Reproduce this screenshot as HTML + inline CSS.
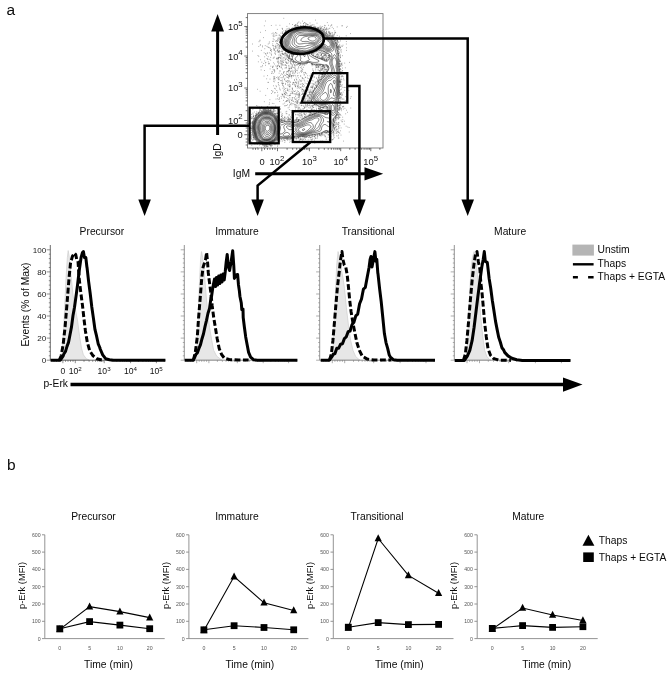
<!DOCTYPE html>
<html><head><meta charset="utf-8"><title>Figure</title>
<style>
html,body{margin:0;padding:0;background:#fff;}
body{width:671px;height:674px;overflow:hidden;font-family:"Liberation Sans",sans-serif;}
svg{display:block;position:absolute;left:0;top:0;}
text{font-family:"Liberation Sans",sans-serif;fill:#0a0a0a;}
.t10{font-size:10.3px;}
.tk{font-size:8.6px;fill:#222;}
.tks{font-size:5.2px;fill:#555;}
.ax{stroke:#888;stroke-width:0.9;fill:none;}
.bk{stroke:#000;fill:none;}
</style></head><body>
<svg width="671" height="674" viewBox="0 0 671 674">
<rect width="671" height="674" fill="#fff"/>

<text x="6.6" y="15.2" style="font-size:15.5px">a</text>
<text x="7" y="470.2" style="font-size:15.5px">b</text>
<g id="contour">
<path d="M266.4 125.6 267.0 125.2 268.0 125.2 268.7 125.6 269.2 126.1 269.5 126.6 269.8 127.6 269.7 128.6 269.5 129.4 269.1 130.1 268.7 130.6 268.0 131.1 267.5 131.3 266.7 131.1 266.0 130.6 265.7 130.1 265.5 129.6 265.3 128.6 265.4 127.6 265.5 127.1 266.0 126.1 266.4 125.6ZM266.1 124.1 267.0 123.7 268.0 123.8 268.7 124.1 269.3 124.6 269.8 125.1 270.1 125.6 270.5 126.5 270.7 127.1 270.8 128.1 270.7 129.1 270.5 129.8 270.2 130.6 270.0 131.1 269.5 131.8 269.0 132.3 268.5 132.7 267.5 133.1 266.5 132.9 266.0 132.6 265.5 132.1 265.0 131.5 264.6 130.6 264.4 130.1 264.2 129.1 264.1 128.1 264.3 127.1 264.5 126.3 264.8 125.6 265.1 125.1 265.5 124.6 266.1 124.1ZM266.4 122.6 267.0 122.5 268.0 122.6 268.5 122.8 269.1 123.1 269.7 123.6 270.1 124.1 270.5 124.6 271.0 125.4 271.3 126.1 271.5 126.8 271.6 127.6 271.6 128.6 271.5 129.6 271.4 130.1 271.1 131.1 270.9 131.6 270.5 132.4 270.0 133.1 269.6 133.6 269.0 134.1 268.5 134.4 268.0 134.6 267.0 134.8 266.3 134.6 265.6 134.1 265.1 133.6 264.7 133.1 264.4 132.6 264.0 131.9 263.7 131.1 263.5 130.6 263.2 129.6 263.1 128.6 263.1 127.6 263.3 126.6 263.5 126.0 263.8 125.1 264.1 124.6 264.5 123.9 265.0 123.3 265.5 122.9 266.4 122.6ZM265.2 121.6 266.0 121.3 267.0 121.2 268.0 121.3 268.8 121.6 269.5 122.0 270.0 122.4 270.5 123.0 271.0 123.6 271.3 124.1 271.6 124.6 272.0 125.4 272.3 126.1 272.5 127.0 272.6 127.6 272.6 128.6 272.5 129.3 272.4 130.1 272.2 131.1 272.0 131.7 271.7 132.6 271.4 133.1 271.0 133.8 270.5 134.5 270.0 135.0 269.5 135.5 269.0 135.8 268.5 136.1 267.5 136.4 266.5 136.4 265.7 136.1 265.0 135.6 264.5 135.1 264.2 134.6 263.9 134.1 263.5 133.4 263.1 132.6 262.9 132.1 262.5 131.1 262.4 130.6 262.1 129.6 262.0 128.9 262.0 128.1 262.0 127.6 262.2 126.6 262.4 125.6 262.6 125.1 263.0 124.1 263.2 123.6 263.5 123.0 264.0 122.4 264.5 121.9 265.2 121.6ZM264.8 120.1 265.5 119.9 266.5 119.8 267.5 119.8 268.5 120.0 269.0 120.2 269.8 120.6 270.4 121.1 270.9 121.6 271.3 122.1 271.6 122.6 272.0 123.2 272.5 124.1 272.8 124.6 273.0 125.1 273.4 126.1 273.5 126.6 273.6 127.6 273.6 128.6 273.5 129.6 273.4 130.1 273.3 131.1 273.1 132.1 272.9 132.6 272.5 133.6 272.3 134.1 272.0 134.6 271.5 135.3 271.0 135.9 270.5 136.4 270.0 136.9 269.5 137.3 268.9 137.6 268.0 138.0 267.0 138.1 266.0 138.0 265.0 137.7 264.5 137.4 264.0 137.0 263.5 136.5 263.0 135.7 262.7 135.1 262.5 134.6 262.1 133.6 261.9 133.1 261.6 132.1 261.4 131.6 261.1 130.6 260.9 130.1 260.7 129.1 260.6 128.1 260.7 127.1 260.9 126.1 261.1 125.6 261.3 124.6 261.5 124.1 261.8 123.1 262.0 122.6 262.5 121.7 263.0 121.1 263.5 120.7 264.0 120.4 264.8 120.1ZM312.0 36.6 313.0 36.6 313.5 36.6 314.5 36.8 315.2 37.1 315.8 37.6 316.1 38.1 316.2 39.1 315.9 39.6 315.5 40.1 314.7 40.6 314.0 40.9 313.0 41.1 312.5 41.1 312.0 41.1 311.0 40.8 310.4 40.6 309.6 40.1 309.0 39.7 308.5 39.4 308.0 39.1 308.0 38.1 308.5 37.7 309.0 37.4 309.6 37.1 310.5 36.8 311.5 36.6 312.0 36.6ZM264.1 119.1 265.0 118.8 266.0 118.7 267.0 118.7 268.0 118.8 269.0 119.1 269.5 119.3 270.1 119.6 270.8 120.1 271.3 120.6 271.7 121.1 272.0 121.6 272.5 122.4 272.9 123.1 273.1 123.6 273.5 124.3 273.8 125.1 274.0 125.6 274.3 126.6 274.4 127.6 274.4 128.6 274.3 129.6 274.1 130.6 274.0 131.4 273.9 132.1 273.6 133.1 273.4 133.6 273.0 134.6 272.7 135.1 272.4 135.6 272.0 136.1 271.5 136.8 271.0 137.3 270.5 137.8 270.0 138.1 269.1 138.6 268.5 138.9 267.5 139.1 267.0 139.2 266.0 139.1 265.5 139.0 264.5 138.8 264.0 138.5 263.3 138.1 262.8 137.6 262.4 137.1 262.0 136.4 261.6 135.6 261.4 135.1 261.0 134.1 260.9 133.6 260.6 132.6 260.4 132.1 260.1 131.1 260.0 130.6 259.7 129.6 259.6 128.6 259.5 127.6 259.7 126.6 259.9 125.6 260.0 125.1 260.3 124.1 260.5 123.5 260.7 122.6 261.0 121.9 261.4 121.1 261.8 120.6 262.3 120.1 263.0 119.6 263.5 119.4 264.1 119.1ZM310.5 35.6 311.0 35.5 312.0 35.5 313.0 35.5 314.0 35.5 314.5 35.6 315.5 35.9 316.1 36.1 317.0 36.6 317.5 36.9 318.0 37.5 318.2 38.1 318.1 39.1 317.9 39.6 317.5 40.2 317.0 40.7 316.5 41.2 316.0 41.6 315.2 42.1 314.5 42.5 314.0 42.6 313.0 42.8 312.0 42.7 311.5 42.6 310.5 42.4 309.5 42.2 309.0 42.0 308.0 41.6 307.5 41.5 306.5 41.4 305.5 41.4 304.5 41.5 303.5 41.5 302.5 41.5 301.5 41.1 301.0 40.6 300.9 40.1 301.1 39.6 301.5 38.9 302.0 38.3 302.5 37.8 303.0 37.5 303.7 37.1 304.5 36.8 305.3 36.6 306.0 36.5 307.0 36.3 308.0 36.1 308.5 36.0 309.5 35.8 310.5 35.6ZM265.2 118.1 266.0 118.0 267.0 118.0 267.7 118.1 268.5 118.2 269.5 118.6 270.0 118.8 270.5 119.1 271.1 119.6 271.6 120.1 272.0 120.6 272.5 121.3 273.0 122.1 273.2 122.6 273.5 123.2 273.9 124.1 274.2 124.6 274.5 125.5 274.7 126.1 274.8 127.1 274.8 128.1 274.8 129.1 274.7 130.1 274.5 131.1 274.4 131.6 274.2 132.6 274.0 133.4 273.8 134.1 273.5 134.8 273.1 135.6 272.7 136.1 272.3 136.6 271.9 137.1 271.5 137.6 271.0 138.1 270.3 138.6 269.5 139.0 269.0 139.2 268.0 139.5 267.5 139.6 266.5 139.7 265.5 139.6 265.0 139.5 264.0 139.2 263.5 139.0 262.9 138.6 262.3 138.1 261.9 137.6 261.5 137.0 261.0 136.1 260.8 135.6 260.5 134.9 260.2 134.1 260.0 133.2 259.8 132.6 259.6 131.6 259.5 131.1 259.2 130.1 259.0 129.3 258.9 128.6 258.8 127.6 258.9 126.6 259.0 126.1 259.3 125.1 259.5 124.3 259.7 123.6 260.0 122.6 260.2 122.1 260.5 121.3 260.9 120.6 261.3 120.1 261.9 119.6 262.5 119.1 263.0 118.8 263.5 118.6 264.5 118.2 265.2 118.1ZM308.7 35.1 309.5 35.0 310.5 34.9 311.5 34.8 312.5 34.8 313.5 34.8 314.5 34.9 315.5 35.1 316.0 35.2 317.0 35.6 317.5 35.8 318.1 36.1 318.7 36.6 319.1 37.1 319.5 38.1 319.3 39.1 319.0 39.7 318.5 40.4 318.0 41.0 317.5 41.4 317.0 41.9 316.5 42.3 316.0 42.7 315.4 43.1 314.5 43.5 314.0 43.7 313.0 43.8 312.0 43.7 311.0 43.6 310.5 43.6 309.5 43.5 308.5 43.4 307.5 43.3 306.5 43.3 305.5 43.3 304.5 43.4 303.5 43.6 303.0 43.7 302.0 43.8 301.0 43.9 300.0 44.0 299.0 44.0 298.0 43.7 297.5 43.3 297.0 42.8 296.5 42.1 296.3 41.6 296.1 40.6 296.1 39.6 296.5 38.6 296.8 38.1 297.1 37.6 297.5 37.1 298.0 36.4 298.5 36.0 299.2 35.6 300.0 35.5 301.0 35.5 302.0 35.5 303.0 35.5 304.0 35.5 305.0 35.5 306.0 35.4 307.0 35.3 308.0 35.2 308.7 35.1ZM264.6 117.6 265.5 117.5 266.5 117.4 267.5 117.5 268.0 117.6 269.0 117.9 269.6 118.1 270.5 118.6 271.0 118.9 271.5 119.3 272.0 119.8 272.5 120.4 272.9 121.1 273.2 121.6 273.5 122.2 273.9 123.1 274.2 123.6 274.5 124.4 274.8 125.1 275.0 125.9 275.1 126.6 275.2 127.6 275.2 128.6 275.1 129.6 275.0 130.2 274.9 131.1 274.7 132.1 274.5 133.0 274.4 133.6 274.0 134.6 273.8 135.1 273.5 135.7 273.0 136.5 272.5 137.1 272.1 137.6 271.6 138.1 271.0 138.6 270.5 139.0 270.0 139.3 269.2 139.6 268.5 139.8 267.5 140.1 267.0 140.1 266.0 140.1 265.5 140.1 264.5 139.9 263.7 139.6 263.0 139.3 262.5 138.9 262.0 138.5 261.5 138.0 261.0 137.3 260.6 136.6 260.3 136.1 260.0 135.4 259.7 134.6 259.5 133.9 259.3 133.1 259.1 132.1 259.0 131.5 258.7 130.6 258.5 129.6 258.4 129.1 258.3 128.1 258.3 127.1 258.4 126.1 258.5 125.6 258.7 124.6 259.0 123.7 259.2 123.1 259.5 122.1 259.7 121.6 260.0 121.0 260.5 120.2 261.0 119.6 261.5 119.2 262.0 118.8 262.5 118.4 263.1 118.1 264.0 117.7 264.6 117.6ZM298.2 34.1 299.0 33.9 300.0 33.9 301.0 34.0 302.0 34.1 302.5 34.1 303.5 34.3 304.5 34.4 305.5 34.4 306.5 34.4 307.5 34.3 308.5 34.2 309.5 34.2 310.3 34.1 311.0 34.0 312.0 34.0 313.0 34.0 314.0 34.1 314.5 34.2 315.5 34.3 316.5 34.6 317.0 34.7 318.0 35.0 318.5 35.3 319.0 35.6 319.6 36.1 320.1 36.6 320.5 37.2 320.8 38.1 320.8 39.1 320.5 39.6 320.0 40.3 319.5 40.8 319.0 41.3 318.5 41.8 318.0 42.2 317.5 42.6 316.9 43.1 316.3 43.6 315.5 44.1 315.0 44.3 314.2 44.6 313.5 44.8 312.5 44.9 311.5 44.9 310.5 45.0 309.8 45.1 309.0 45.2 308.0 45.4 307.0 45.6 306.5 45.8 305.7 46.1 305.0 46.4 304.5 46.6 303.5 46.7 302.5 46.7 301.5 46.6 300.5 46.6 299.5 46.6 299.0 46.6 298.0 46.4 297.1 46.1 296.5 45.8 296.0 45.5 295.5 45.0 295.0 44.4 294.5 43.6 294.3 43.1 294.2 42.1 294.2 41.1 294.3 40.1 294.4 39.1 294.6 38.6 295.0 37.6 295.2 37.1 295.5 36.6 296.0 35.7 296.5 35.1 297.0 34.7 297.5 34.4 298.2 34.1ZM263.7 117.1 264.5 116.9 265.5 116.8 266.5 116.7 267.5 116.8 268.5 117.1 269.0 117.2 269.9 117.6 270.5 117.9 271.0 118.2 271.6 118.6 272.1 119.1 272.6 119.6 273.0 120.2 273.5 121.0 273.8 121.6 274.0 122.1 274.5 123.1 274.7 123.6 275.0 124.3 275.3 125.1 275.5 126.1 275.6 126.6 275.6 127.6 275.6 128.6 275.5 129.6 275.4 130.1 275.3 131.1 275.1 132.1 275.0 132.7 274.8 133.6 274.6 134.6 274.4 135.1 274.0 135.9 273.6 136.6 273.2 137.1 272.8 137.6 272.3 138.1 271.8 138.6 271.2 139.1 270.5 139.5 270.0 139.8 269.2 140.1 268.5 140.3 267.5 140.5 267.0 140.6 266.0 140.6 265.5 140.6 264.5 140.4 263.6 140.1 263.0 139.9 262.5 139.6 261.8 139.1 261.2 138.6 260.8 138.1 260.4 137.6 260.0 136.9 259.6 136.1 259.3 135.6 259.0 134.8 258.8 134.1 258.6 133.1 258.5 132.5 258.3 131.6 258.1 130.6 257.9 130.1 257.7 129.1 257.6 128.1 257.6 127.1 257.7 126.1 257.8 125.1 258.0 124.4 258.2 123.6 258.5 122.8 258.7 122.1 259.0 121.5 259.4 120.6 259.8 120.1 260.2 119.6 260.6 119.1 261.2 118.6 261.8 118.1 262.5 117.7 263.0 117.4 263.7 117.1ZM299.1 32.6 300.0 32.5 301.0 32.6 301.5 32.6 302.5 32.8 303.5 32.9 304.5 33.1 305.0 33.1 306.0 33.1 306.9 33.1 307.5 33.1 308.5 33.1 309.0 33.1 309.5 33.1 310.5 33.1 311.5 33.0 312.5 33.0 313.5 33.1 314.0 33.2 315.0 33.3 316.0 33.5 316.5 33.6 317.5 33.9 318.2 34.1 319.0 34.5 319.5 34.8 320.0 35.1 320.6 35.6 321.1 36.1 321.5 36.6 322.0 37.3 322.3 38.1 322.4 39.1 322.1 40.1 321.8 40.6 321.3 41.1 320.8 41.6 320.1 42.1 319.5 42.5 319.0 42.9 318.5 43.3 318.0 43.6 317.3 44.1 316.6 44.6 316.0 44.9 315.5 45.2 314.5 45.6 314.0 45.7 313.0 46.1 312.5 46.3 311.7 46.6 311.0 46.9 310.5 47.2 309.5 47.6 309.0 47.7 308.0 48.1 307.5 48.2 306.6 48.6 306.0 48.8 305.0 48.9 304.0 48.9 303.0 48.8 302.0 48.6 301.5 48.5 300.5 48.4 299.5 48.3 298.5 48.1 298.0 48.0 297.0 47.7 296.5 47.6 295.5 47.2 295.0 46.9 294.5 46.5 294.0 46.1 293.5 45.6 293.0 45.0 292.5 44.2 292.2 43.6 292.1 42.6 292.1 41.6 292.4 40.6 292.6 40.1 292.9 39.1 293.0 38.6 293.4 37.6 293.5 37.1 294.0 36.1 294.2 35.6 294.5 35.1 295.0 34.5 295.5 34.0 296.1 33.6 297.0 33.1 297.5 33.0 298.5 32.7 299.1 32.6ZM263.9 116.1 264.5 115.9 265.5 115.8 266.5 115.8 267.5 115.9 268.2 116.1 269.0 116.3 269.6 116.6 270.5 117.0 271.0 117.3 271.5 117.6 272.2 118.1 272.7 118.6 273.2 119.1 273.5 119.6 274.0 120.4 274.3 121.1 274.6 121.6 275.0 122.5 275.2 123.1 275.5 123.8 275.8 124.6 276.0 125.5 276.1 126.1 276.2 127.1 276.2 128.1 276.1 129.1 276.0 130.1 276.0 130.6 275.8 131.6 275.6 132.6 275.5 133.3 275.4 134.1 275.1 135.1 274.9 135.6 274.5 136.4 274.0 137.1 273.7 137.6 273.2 138.1 272.8 138.6 272.2 139.1 271.6 139.6 271.0 140.0 270.5 140.2 269.6 140.6 269.0 140.8 268.0 141.0 267.5 141.1 266.5 141.2 265.5 141.2 264.9 141.1 264.0 140.9 263.1 140.6 262.5 140.3 262.0 140.1 261.3 139.6 260.7 139.1 260.2 138.6 259.8 138.1 259.4 137.6 259.0 136.9 258.6 136.1 258.4 135.6 258.0 134.6 257.9 134.1 257.7 133.1 257.5 132.1 257.4 131.6 257.2 130.6 257.0 129.9 256.8 129.1 256.7 128.1 256.7 127.1 256.8 126.1 256.9 125.1 257.0 124.6 257.2 123.6 257.5 122.8 257.8 122.1 258.0 121.6 258.5 120.6 258.8 120.1 259.1 119.6 259.5 119.1 260.0 118.6 260.5 118.1 261.1 117.6 261.8 117.1 262.5 116.7 263.0 116.4 263.9 116.1ZM300.4 31.1 301.0 31.1 301.8 31.1 302.5 31.2 303.5 31.3 304.5 31.3 305.5 31.3 306.5 31.3 307.5 31.3 308.5 31.5 309.5 31.6 310.0 31.6 311.0 31.6 312.0 31.7 313.0 31.8 314.0 31.9 314.8 32.1 315.5 32.3 316.5 32.5 317.0 32.6 318.0 32.9 318.6 33.1 319.5 33.5 320.0 33.8 320.5 34.1 321.2 34.6 321.8 35.1 322.4 35.6 322.8 36.1 323.2 36.6 323.6 37.1 324.0 37.9 324.3 38.6 324.5 39.6 324.5 40.6 324.2 41.6 323.8 42.1 323.2 42.6 322.5 43.1 322.0 43.3 321.4 43.6 320.5 44.0 320.0 44.2 319.3 44.6 318.5 45.0 318.0 45.3 317.4 45.6 316.5 46.1 316.0 46.3 315.3 46.6 314.5 47.0 314.0 47.2 313.4 47.6 312.6 48.1 312.0 48.5 311.5 48.8 310.9 49.1 310.0 49.5 309.5 49.6 308.5 50.0 308.0 50.2 307.0 50.5 306.5 50.6 305.5 50.7 304.5 50.7 303.5 50.6 303.0 50.6 302.0 50.4 301.0 50.2 300.4 50.1 299.5 49.9 298.5 49.7 298.0 49.5 297.0 49.3 296.3 49.1 295.5 48.9 294.7 48.6 294.0 48.3 293.5 48.0 292.8 47.6 292.1 47.1 291.5 46.6 291.0 46.1 290.6 45.6 290.2 45.1 290.0 44.6 289.8 43.6 289.8 42.6 289.8 41.6 290.0 40.8 290.2 40.1 290.5 39.6 291.0 38.7 291.3 38.1 291.6 37.6 292.0 36.6 292.2 36.1 292.5 35.4 293.0 34.6 293.4 34.1 293.9 33.6 294.5 33.1 295.0 32.7 295.5 32.4 296.2 32.1 297.0 31.8 297.6 31.6 298.5 31.4 299.5 31.2 300.4 31.1ZM263.3 115.1 264.0 114.8 265.0 114.7 266.0 114.6 267.0 114.7 268.0 114.8 269.0 115.1 269.5 115.3 270.2 115.6 271.0 116.0 271.5 116.3 272.0 116.6 272.6 117.1 273.2 117.6 273.7 118.1 274.0 118.6 274.5 119.3 274.9 120.1 275.1 120.6 275.5 121.4 275.8 122.1 276.0 122.6 276.4 123.6 276.6 124.1 276.8 125.1 277.0 126.1 277.0 126.6 277.0 127.6 277.0 128.6 277.0 129.1 276.9 130.1 276.8 131.1 276.6 132.1 276.5 132.6 276.4 133.6 276.2 134.6 276.0 135.4 275.7 136.1 275.5 136.6 275.0 137.3 274.5 137.9 274.0 138.5 273.5 139.0 273.0 139.5 272.5 139.9 272.0 140.3 271.5 140.6 270.5 141.1 270.0 141.3 269.0 141.6 268.5 141.7 267.5 141.9 266.5 142.0 265.5 142.0 264.5 141.8 263.5 141.6 263.0 141.4 262.2 141.1 261.5 140.8 261.0 140.4 260.5 140.1 259.9 139.6 259.3 139.1 258.9 138.6 258.5 138.1 258.0 137.3 257.6 136.6 257.4 136.1 257.1 135.1 256.9 134.6 256.7 133.6 256.5 132.6 256.4 132.1 256.2 131.1 256.0 130.4 255.8 129.6 255.7 128.6 255.7 127.6 255.7 126.6 255.8 125.6 255.9 124.6 256.0 124.1 256.2 123.1 256.5 122.3 256.8 121.6 257.0 121.1 257.5 120.1 257.8 119.6 258.2 119.1 258.5 118.6 259.0 118.1 259.5 117.6 260.1 117.1 260.8 116.6 261.5 116.1 262.0 115.8 262.5 115.5 263.3 115.1ZM302.9 129.1 303.5 128.8 304.5 128.9 304.6 129.6 304.2 130.1 303.5 130.5 302.5 130.3 302.4 129.6 302.9 129.1ZM298.9 30.6 299.5 30.5 300.5 30.4 301.5 30.3 302.5 30.3 303.5 30.4 304.5 30.4 305.5 30.4 306.5 30.4 307.5 30.4 308.5 30.6 309.0 30.7 310.0 30.8 311.0 30.9 312.0 31.0 313.0 31.1 313.5 31.2 314.5 31.3 315.5 31.6 316.0 31.7 317.0 31.9 317.5 32.1 318.5 32.4 319.0 32.6 320.0 33.1 320.5 33.4 321.0 33.7 321.5 34.1 322.2 34.6 322.8 35.1 323.4 35.6 323.8 36.1 324.2 36.6 324.6 37.1 325.0 37.8 325.5 38.6 325.8 39.1 326.2 39.6 326.7 40.1 327.3 40.6 328.0 41.1 328.5 41.5 329.0 42.0 329.5 42.6 329.8 43.1 330.1 43.6 330.3 44.6 330.1 45.6 329.8 46.1 329.2 46.6 328.5 46.8 327.8 46.6 327.0 46.1 326.5 45.7 326.0 45.3 325.5 44.9 324.9 44.6 324.0 44.3 323.0 44.4 322.0 44.6 321.5 44.7 320.5 45.1 320.0 45.3 319.3 45.6 318.5 46.0 318.0 46.2 317.1 46.6 316.5 46.9 316.0 47.1 315.0 47.6 314.5 47.9 314.0 48.2 313.4 48.6 312.6 49.1 312.0 49.4 311.5 49.7 310.5 50.1 310.0 50.3 309.1 50.6 308.5 50.8 307.7 51.1 307.0 51.3 306.0 51.4 305.0 51.5 304.0 51.5 303.0 51.4 302.0 51.3 301.0 51.1 300.5 51.0 299.5 50.7 299.0 50.6 298.0 50.4 297.0 50.1 296.5 50.0 295.5 49.8 294.9 49.6 294.0 49.3 293.5 49.1 292.6 48.6 292.0 48.3 291.5 48.0 290.9 47.6 290.2 47.1 289.6 46.6 289.2 46.1 288.8 45.6 288.5 44.7 288.4 44.1 288.4 43.1 288.5 42.3 288.6 41.6 288.8 40.6 289.0 40.0 289.5 39.1 289.8 38.6 290.1 38.1 290.5 37.5 290.9 36.6 291.2 36.1 291.5 35.4 291.9 34.6 292.3 34.1 292.8 33.6 293.4 33.1 294.0 32.6 294.5 32.3 295.0 32.0 295.7 31.6 296.5 31.3 297.0 31.1 298.0 30.8 298.9 30.6ZM334.5 80.1 334.5 80.1 335.0 80.8 335.1 81.6 335.0 82.6 334.8 83.1 334.5 83.8 334.0 83.6 333.5 82.7 333.3 82.1 333.4 81.1 333.6 80.6 334.5 80.1ZM324.8 92.6 325.5 92.4 326.0 92.6 326.5 93.2 327.0 94.0 327.3 94.6 327.5 95.1 327.6 96.1 327.5 96.6 327.0 97.5 326.5 98.1 326.2 98.6 325.8 99.1 325.3 99.6 324.6 100.1 324.0 100.3 323.0 100.4 322.0 100.1 321.5 99.8 321.0 99.4 320.5 98.8 320.1 98.1 320.0 97.6 320.0 97.1 320.5 96.1 321.0 95.6 321.5 95.1 322.0 94.6 322.5 94.2 323.0 93.8 323.5 93.5 324.0 93.1 324.8 92.6ZM264.3 114.1 265.0 114.0 266.0 113.9 267.0 114.0 267.9 114.1 268.5 114.2 269.5 114.5 270.0 114.7 270.8 115.1 271.5 115.5 272.0 115.8 272.5 116.2 273.0 116.6 273.6 117.1 274.0 117.6 274.5 118.2 275.0 119.1 275.3 119.6 275.5 120.1 276.0 121.1 276.2 121.6 276.5 122.3 276.8 123.1 277.0 123.6 277.3 124.6 277.5 125.6 277.5 126.1 277.6 127.1 277.6 128.1 277.6 129.1 277.5 129.8 277.4 130.6 277.2 131.6 277.1 132.6 277.0 133.1 276.9 134.1 276.7 135.1 276.5 135.9 276.2 136.6 275.8 137.1 275.5 137.6 275.0 138.2 274.5 138.7 274.0 139.2 273.5 139.7 273.0 140.1 272.3 140.6 271.5 141.1 271.0 141.4 270.4 141.6 269.5 141.9 268.8 142.1 268.0 142.3 267.0 142.4 266.0 142.5 265.0 142.4 264.0 142.2 263.5 142.1 262.5 141.7 262.0 141.5 261.2 141.1 260.5 140.7 260.0 140.4 259.5 140.0 259.0 139.5 258.5 139.0 258.0 138.4 257.5 137.6 257.2 137.1 257.0 136.6 256.6 135.6 256.5 135.1 256.2 134.1 256.0 133.1 255.9 132.6 255.7 131.6 255.5 130.8 255.3 130.1 255.2 129.1 255.1 128.1 255.1 127.1 255.1 126.1 255.2 125.1 255.4 124.1 255.5 123.6 255.8 122.6 256.0 121.9 256.3 121.1 256.6 120.6 257.0 119.8 257.4 119.1 257.8 118.6 258.2 118.1 258.7 117.6 259.2 117.1 259.9 116.6 260.5 116.1 261.0 115.7 261.5 115.4 262.0 115.1 262.8 114.6 263.5 114.3 264.3 114.1ZM306.6 125.1 307.5 124.9 308.5 124.9 309.5 125.0 310.0 125.3 310.5 125.7 311.0 126.6 310.6 127.6 310.1 128.1 309.5 128.6 309.0 129.1 308.6 129.6 308.0 130.1 307.5 130.5 307.0 130.9 306.5 131.2 305.9 131.6 305.1 132.1 304.5 132.4 303.8 132.6 303.0 132.7 302.0 132.6 301.5 132.5 300.7 132.1 300.0 131.7 299.5 131.3 299.0 130.7 298.6 130.1 298.5 129.6 298.5 129.0 299.0 128.3 299.5 128.0 300.5 127.6 301.0 127.4 301.8 127.1 302.5 126.8 303.0 126.6 304.0 126.2 304.5 126.0 305.4 125.6 306.0 125.3 306.6 125.1ZM298.9 30.1 299.5 30.0 300.5 29.8 301.5 29.8 302.5 29.8 303.5 29.8 304.5 29.8 305.5 29.7 306.5 29.7 307.5 29.8 308.5 29.9 309.5 30.1 310.0 30.2 311.0 30.3 312.0 30.4 313.0 30.6 313.5 30.6 314.5 30.8 315.5 31.0 316.0 31.2 317.0 31.4 317.6 31.6 318.5 31.9 319.0 32.1 320.0 32.5 320.5 32.8 321.0 33.1 321.7 33.6 322.4 34.1 323.0 34.6 323.5 35.0 324.0 35.5 324.5 36.0 325.0 36.6 325.4 37.1 325.9 37.6 326.3 38.1 326.7 38.6 327.2 39.1 327.8 39.6 328.4 40.1 329.0 40.6 329.5 41.1 329.9 41.6 330.4 42.1 330.7 42.6 331.0 43.1 331.3 44.1 331.4 45.1 331.2 46.1 331.0 46.7 330.5 47.4 330.0 47.8 329.3 48.1 328.5 48.2 328.0 48.1 327.0 47.6 326.5 47.3 326.0 46.8 325.5 46.4 325.0 46.1 324.1 45.6 323.5 45.4 322.5 45.4 321.5 45.6 321.0 45.7 320.0 46.1 319.5 46.3 318.7 46.6 318.0 46.9 317.5 47.1 316.5 47.6 316.0 47.8 315.4 48.1 314.5 48.6 314.0 48.9 313.5 49.2 312.9 49.6 312.0 50.1 311.5 50.3 310.6 50.6 310.0 50.8 309.2 51.1 308.5 51.4 307.8 51.6 307.0 51.9 306.0 52.0 305.0 52.1 304.5 52.1 303.5 52.1 303.0 52.1 302.0 52.0 301.0 51.8 300.4 51.6 299.5 51.4 298.5 51.1 298.0 51.0 297.0 50.8 296.3 50.6 295.5 50.4 294.5 50.2 294.0 50.0 293.0 49.6 292.5 49.4 291.9 49.1 291.0 48.6 290.5 48.4 290.0 48.1 289.3 47.6 288.8 47.1 288.3 46.6 287.9 46.1 287.5 45.1 287.4 44.6 287.4 43.6 287.4 42.6 287.5 41.7 287.6 41.1 287.9 40.1 288.2 39.6 288.5 39.0 289.0 38.3 289.5 37.6 289.8 37.1 290.1 36.6 290.5 35.8 290.9 35.1 291.2 34.6 291.5 34.1 292.0 33.6 292.5 33.1 293.1 32.6 293.8 32.1 294.5 31.7 295.0 31.4 295.6 31.1 296.5 30.7 297.0 30.6 298.0 30.3 298.9 30.1ZM333.9 77.6 334.5 77.4 335.1 77.6 335.6 78.1 336.0 78.9 336.2 79.6 336.3 80.6 336.3 81.6 336.3 82.6 336.2 83.6 336.2 84.6 336.1 85.6 336.0 86.5 335.8 87.1 335.5 88.0 335.2 88.6 335.0 89.1 334.5 90.1 334.8 91.1 335.1 91.6 335.4 92.6 335.5 93.1 335.6 94.1 335.5 94.8 335.1 95.6 334.6 96.1 334.0 96.1 333.6 95.6 333.4 95.1 333.4 94.1 333.5 93.1 333.7 92.6 334.0 91.6 334.3 91.1 334.5 90.1 334.0 89.6 333.5 88.9 333.1 88.1 332.9 87.6 332.6 86.6 332.5 86.1 332.2 85.1 331.9 84.6 331.5 83.9 331.0 83.5 330.3 83.6 329.8 84.1 329.5 84.6 329.0 85.4 328.7 86.1 328.5 86.6 328.3 87.6 328.2 88.6 328.2 89.6 328.3 90.6 328.3 91.6 328.4 92.6 328.5 93.2 328.8 94.1 329.0 94.7 329.2 95.6 329.2 96.6 329.0 97.1 328.5 98.0 328.0 98.6 327.6 99.1 327.2 99.6 326.8 100.1 326.3 100.6 325.6 101.1 325.0 101.4 324.5 101.6 323.5 101.8 322.5 101.8 321.5 101.6 321.0 101.4 320.5 101.0 320.0 100.6 319.5 100.1 319.0 99.6 318.5 99.0 318.0 98.3 317.6 97.6 317.7 96.6 318.0 96.1 318.5 95.6 319.1 95.1 319.8 94.6 320.4 94.1 321.0 93.6 321.5 93.2 322.0 92.7 322.5 92.1 322.9 91.6 323.2 91.1 323.5 90.5 323.9 89.6 324.0 89.1 324.3 88.1 324.5 87.5 324.8 86.6 325.0 86.1 325.3 85.1 325.5 84.5 325.9 83.6 326.1 83.1 326.5 82.5 327.0 81.9 327.5 81.4 328.0 81.0 328.7 80.6 329.5 80.4 330.5 80.3 331.0 80.0 331.5 79.6 332.0 79.1 332.5 78.6 333.1 78.1 333.9 77.6ZM264.2 113.6 265.0 113.5 266.0 113.4 267.0 113.5 268.0 113.6 268.5 113.7 269.5 113.9 270.0 114.1 271.0 114.6 271.5 114.9 272.0 115.2 272.6 115.6 273.2 116.1 273.8 116.6 274.2 117.1 274.6 117.6 275.0 118.2 275.5 119.1 275.8 119.6 276.0 120.1 276.4 121.1 276.7 121.6 277.0 122.4 277.3 123.1 277.5 123.7 277.8 124.6 277.9 125.6 278.0 126.1 278.1 127.1 278.2 128.1 278.1 129.1 278.0 129.9 277.9 130.6 277.7 131.6 277.6 132.6 277.5 133.2 277.4 134.1 277.3 135.1 277.0 136.1 276.8 136.6 276.4 137.1 276.0 137.6 275.5 138.2 275.0 138.7 274.5 139.3 274.0 139.7 273.5 140.2 272.9 140.6 272.2 141.1 271.5 141.5 271.0 141.8 270.1 142.1 269.5 142.3 268.5 142.6 268.0 142.6 267.0 142.8 266.0 142.8 265.0 142.7 264.2 142.6 263.5 142.5 262.5 142.1 262.0 141.9 261.3 141.6 260.5 141.1 260.0 140.8 259.5 140.5 259.0 140.1 258.5 139.6 258.0 139.1 257.5 138.5 257.0 137.7 256.7 137.1 256.5 136.6 256.1 135.6 256.0 135.1 255.8 134.1 255.6 133.1 255.5 132.6 255.2 131.6 255.0 130.7 254.9 130.1 254.7 129.1 254.6 128.1 254.6 127.1 254.7 126.1 254.8 125.1 254.9 124.1 255.0 123.6 255.3 122.6 255.5 122.0 255.8 121.1 256.1 120.6 256.5 119.8 256.9 119.1 257.2 118.6 257.6 118.1 258.0 117.6 258.5 117.1 259.1 116.6 259.8 116.1 260.4 115.6 261.0 115.2 261.5 114.8 262.0 114.5 262.7 114.1 263.5 113.8 264.2 113.6ZM309.3 122.6 310.0 122.5 310.5 122.6 311.5 123.1 312.0 123.5 312.5 124.1 312.8 124.6 313.0 125.1 313.3 126.1 313.3 127.1 313.0 127.9 312.5 128.5 312.0 128.9 311.5 129.2 311.0 129.6 310.2 130.1 309.5 130.6 309.0 130.9 308.5 131.2 307.8 131.6 307.0 132.0 306.5 132.3 306.0 132.6 305.0 133.1 304.5 133.3 303.5 133.5 302.5 133.5 301.5 133.4 300.5 133.1 300.0 132.9 299.4 132.6 298.6 132.1 298.0 131.6 297.6 131.1 297.2 130.6 296.9 130.1 296.7 129.1 297.0 128.2 297.5 127.6 298.0 127.2 298.5 127.0 299.5 126.6 300.0 126.4 301.0 126.1 301.5 125.9 302.2 125.6 303.0 125.3 303.5 125.1 304.5 124.6 305.0 124.3 305.5 124.1 306.4 123.6 307.0 123.3 307.5 123.1 308.5 122.8 309.3 122.6ZM299.1 29.6 300.0 29.4 301.0 29.3 302.0 29.3 303.0 29.3 304.0 29.3 305.0 29.2 306.0 29.2 307.0 29.2 308.0 29.3 309.0 29.5 309.7 29.6 310.5 29.7 311.5 29.9 312.5 30.0 313.1 30.1 314.0 30.3 315.0 30.4 315.7 30.6 316.5 30.8 317.5 31.1 318.0 31.3 318.9 31.6 319.5 31.8 320.1 32.1 321.0 32.6 321.5 32.9 322.0 33.3 322.5 33.6 323.2 34.1 323.8 34.6 324.4 35.1 324.9 35.6 325.4 36.1 325.9 36.6 326.3 37.1 326.8 37.6 327.3 38.1 327.9 38.6 328.4 39.1 329.0 39.6 329.5 40.1 330.0 40.6 330.5 41.1 330.9 41.6 331.3 42.1 331.6 42.6 332.0 43.5 332.1 44.1 332.3 45.1 332.2 46.1 332.0 46.9 331.7 47.6 331.3 48.1 330.8 48.6 330.0 49.0 329.5 49.1 328.5 49.2 328.0 49.1 327.0 48.7 326.5 48.4 326.0 48.0 325.5 47.6 324.9 47.1 324.1 46.6 323.5 46.4 322.5 46.3 321.5 46.4 320.6 46.6 320.0 46.8 319.2 47.1 318.5 47.4 317.9 47.6 317.0 48.0 316.5 48.2 315.7 48.6 315.0 49.0 314.5 49.3 314.0 49.6 313.0 50.1 312.5 50.4 311.9 50.6 311.0 50.9 310.5 51.1 309.5 51.5 309.0 51.7 308.0 52.1 307.5 52.2 306.5 52.5 306.0 52.6 305.0 52.8 304.0 52.8 303.0 52.9 302.0 52.7 301.5 52.6 300.5 52.3 299.9 52.1 299.0 51.8 298.1 51.6 297.5 51.5 296.5 51.2 295.8 51.1 295.0 50.9 294.0 50.6 293.5 50.5 292.6 50.1 292.0 49.9 291.4 49.6 290.5 49.2 290.0 48.9 289.4 48.6 288.7 48.1 288.2 47.6 287.7 47.1 287.3 46.6 287.0 46.1 286.6 45.1 286.5 44.6 286.4 43.6 286.4 42.6 286.5 41.9 286.6 41.1 286.9 40.1 287.2 39.6 287.5 39.1 288.0 38.4 288.5 37.7 288.9 37.1 289.3 36.6 289.6 36.1 290.0 35.4 290.5 34.6 290.8 34.1 291.2 33.6 291.7 33.1 292.3 32.6 293.0 32.1 293.5 31.7 294.0 31.4 294.6 31.1 295.5 30.7 296.0 30.5 297.0 30.1 297.5 30.0 298.5 29.7 299.1 29.6ZM334.8 75.1 335.0 75.1 335.7 75.6 336.0 76.1 336.4 77.1 336.6 77.6 336.8 78.6 337.0 79.6 337.0 80.1 337.1 81.1 337.1 82.1 337.0 83.1 337.0 83.8 337.0 84.6 336.9 85.6 336.9 86.6 336.7 87.6 336.5 88.6 336.5 89.1 336.4 90.1 336.5 91.1 336.5 91.6 336.6 92.6 336.7 93.6 336.7 94.6 336.5 95.4 336.2 96.1 336.0 96.6 335.5 97.4 335.0 97.9 334.5 98.3 333.5 98.5 332.5 98.1 332.0 97.9 331.0 97.9 330.5 98.4 330.0 98.8 329.5 99.2 329.0 99.6 328.4 100.1 327.8 100.6 327.2 101.1 326.5 101.6 326.0 101.9 325.5 102.1 324.5 102.5 324.0 102.6 323.0 102.8 322.0 102.8 321.1 102.6 320.5 102.3 320.0 102.0 319.5 101.6 319.0 101.1 318.4 100.6 317.9 100.1 317.3 99.6 316.7 99.1 316.2 98.6 315.8 98.1 315.7 97.1 316.0 96.4 316.5 95.6 316.9 95.1 317.4 94.6 318.0 94.1 318.5 93.7 319.0 93.4 319.5 93.0 320.0 92.6 320.5 92.1 321.0 91.5 321.5 90.8 321.9 90.1 322.1 89.6 322.5 88.7 322.7 88.1 323.0 87.1 323.1 86.6 323.4 85.6 323.6 85.1 324.0 84.1 324.2 83.6 324.5 83.1 325.0 82.3 325.5 81.6 325.9 81.1 326.3 80.6 326.7 80.1 327.2 79.6 327.7 79.1 328.3 78.6 329.0 78.2 329.5 78.0 330.5 77.7 331.0 77.5 331.8 77.1 332.5 76.6 333.0 76.2 333.5 75.8 334.0 75.4 334.8 75.1ZM330.5 89.5 330.5 90.1 330.4 91.1 330.4 92.1 330.5 92.7 331.2 92.6 331.4 91.6 331.4 90.6 331.1 89.6 330.5 89.5ZM264.2 113.1 265.0 113.0 266.0 112.9 267.0 113.0 268.0 113.1 268.5 113.1 269.5 113.4 270.1 113.6 271.0 114.0 271.5 114.3 272.0 114.6 272.8 115.1 273.4 115.6 273.9 116.1 274.4 116.6 274.8 117.1 275.1 117.6 275.5 118.2 276.0 119.1 276.2 119.6 276.5 120.3 276.9 121.1 277.1 121.6 277.5 122.5 277.8 123.1 278.0 123.8 278.3 124.6 278.5 125.6 278.6 126.1 278.7 127.1 278.7 128.1 278.7 129.1 278.5 130.1 278.4 130.6 278.2 131.6 278.1 132.6 278.0 133.6 278.0 134.1 277.9 135.1 277.7 136.1 277.4 136.6 277.0 137.2 276.5 137.7 276.0 138.3 275.5 138.8 275.0 139.3 274.5 139.7 274.0 140.2 273.5 140.6 272.8 141.1 272.0 141.6 271.5 141.9 271.0 142.1 270.0 142.5 269.5 142.7 268.5 142.9 267.5 143.1 267.0 143.1 266.0 143.1 265.3 143.1 264.5 143.0 263.5 142.8 262.9 142.6 262.0 142.3 261.5 142.1 260.6 141.6 260.0 141.2 259.5 140.9 259.0 140.5 258.5 140.1 257.9 139.6 257.5 139.1 257.0 138.5 256.5 137.6 256.2 137.1 256.0 136.5 255.7 135.6 255.5 134.8 255.3 134.1 255.1 133.1 255.0 132.5 254.8 131.6 254.6 130.6 254.5 130.1 254.3 129.1 254.2 128.1 254.2 127.1 254.2 126.1 254.3 125.1 254.5 124.2 254.6 123.6 254.9 122.6 255.0 122.1 255.4 121.1 255.6 120.6 256.0 119.8 256.4 119.1 256.7 118.6 257.0 118.1 257.5 117.5 258.0 117.0 258.5 116.6 259.1 116.1 259.7 115.6 260.4 115.1 261.0 114.7 261.5 114.3 262.0 114.0 262.7 113.6 263.5 113.3 264.2 113.1ZM315.5 118.1 316.5 117.9 317.5 117.9 318.2 118.1 318.7 118.6 318.9 119.6 318.7 120.6 318.4 121.1 318.0 121.6 317.5 122.2 317.0 122.9 316.6 123.6 316.3 124.1 315.9 124.6 315.5 125.4 315.3 126.1 315.1 127.1 315.0 127.6 314.5 128.5 314.0 129.1 313.5 129.4 313.0 129.8 312.4 130.1 311.5 130.6 311.0 130.8 310.5 131.1 309.6 131.6 309.0 131.9 308.5 132.1 307.5 132.6 307.0 132.8 306.5 133.1 305.5 133.6 305.0 133.8 304.0 134.1 303.5 134.1 302.5 134.2 301.6 134.1 301.0 134.0 300.0 133.8 299.5 133.6 298.5 133.1 298.0 132.9 297.5 132.5 297.0 132.1 296.4 131.6 296.0 131.0 295.5 130.2 295.3 129.6 295.2 128.6 295.5 127.7 296.0 127.2 296.5 126.8 297.0 126.6 298.0 126.2 298.5 126.0 299.5 125.6 300.0 125.4 300.7 125.1 301.5 124.8 302.0 124.6 303.0 124.2 303.5 123.9 304.2 123.6 305.0 123.1 305.5 122.7 306.0 122.4 306.5 122.0 307.2 121.6 308.0 121.2 308.5 120.9 309.2 120.6 310.0 120.3 310.9 120.1 311.5 120.0 312.5 119.6 313.0 119.3 313.5 119.0 314.3 118.6 315.0 118.3 315.5 118.1ZM299.4 29.1 300.0 29.0 301.0 28.9 302.0 28.8 303.0 28.8 304.0 28.8 305.0 28.7 306.0 28.7 307.0 28.7 308.0 28.8 309.0 29.0 309.8 29.1 310.5 29.2 311.5 29.4 312.5 29.5 313.0 29.6 314.0 29.8 315.0 30.0 315.6 30.1 316.5 30.3 317.5 30.6 318.0 30.8 318.9 31.1 319.5 31.3 320.1 31.6 321.0 32.1 321.5 32.4 322.0 32.7 322.6 33.1 323.3 33.6 324.0 34.1 324.5 34.5 325.0 34.9 325.5 35.4 326.0 35.9 326.5 36.4 327.0 36.8 327.5 37.3 328.0 37.7 328.5 38.2 329.0 38.7 329.5 39.1 330.0 39.6 330.5 40.1 331.0 40.6 331.5 41.2 332.0 41.9 332.4 42.6 332.6 43.1 332.9 44.1 333.0 44.6 333.1 45.6 333.1 46.6 333.0 47.1 332.7 48.1 332.4 48.6 332.0 49.2 331.4 49.6 330.5 49.9 329.5 50.1 328.5 50.1 327.5 49.9 326.9 49.6 326.1 49.1 325.5 48.7 325.0 48.2 324.5 47.9 324.0 47.6 323.0 47.2 322.0 47.1 321.0 47.3 320.0 47.5 319.5 47.7 318.5 48.0 318.0 48.2 317.1 48.6 316.5 48.9 316.0 49.1 315.1 49.6 314.5 49.9 314.0 50.2 313.1 50.6 312.5 50.9 311.9 51.1 311.0 51.4 310.5 51.6 309.5 52.0 309.0 52.2 308.0 52.6 307.5 52.9 306.9 53.1 306.0 53.5 305.5 53.8 304.9 54.1 304.5 54.6 304.7 55.1 305.1 55.6 305.0 56.5 304.0 56.3 303.5 55.6 303.4 55.1 303.0 54.6 302.2 54.1 301.5 53.8 301.0 53.5 300.3 53.1 299.5 52.7 299.0 52.5 298.0 52.2 297.5 52.1 296.5 51.9 295.5 51.6 295.0 51.5 294.0 51.2 293.5 51.1 292.5 50.7 292.0 50.5 291.0 50.1 290.5 49.9 289.9 49.6 289.0 49.1 288.5 48.8 288.0 48.4 287.5 47.9 287.0 47.4 286.5 46.7 286.1 46.1 285.9 45.6 285.6 44.6 285.5 43.6 285.5 43.1 285.5 42.6 285.6 41.6 285.8 40.6 286.0 40.0 286.5 39.1 286.8 38.6 287.2 38.1 287.6 37.6 288.0 37.1 288.5 36.4 289.0 35.7 289.4 35.1 289.7 34.6 290.1 34.1 290.5 33.6 291.0 33.1 291.5 32.6 292.1 32.1 292.8 31.6 293.5 31.2 294.0 30.9 294.5 30.6 295.5 30.2 296.0 30.0 297.0 29.7 297.5 29.5 298.5 29.3 299.4 29.1ZM333.5 58.1 334.5 57.7 335.2 58.1 335.5 58.6 336.0 59.6 336.1 60.1 336.4 61.1 336.5 61.6 336.6 62.6 336.5 63.4 336.3 64.1 336.1 65.1 336.0 65.6 335.9 66.6 336.0 67.1 336.2 68.1 336.5 69.0 336.6 69.6 336.5 70.6 336.4 71.1 336.2 72.1 336.3 73.1 336.5 73.6 336.8 74.6 337.0 75.4 337.1 76.1 337.3 77.1 337.4 78.1 337.5 78.6 337.6 79.6 337.6 80.6 337.7 81.6 337.7 82.6 337.6 83.6 337.6 84.6 337.6 85.6 337.5 86.6 337.5 87.1 337.4 88.1 337.3 89.1 337.2 90.1 337.3 91.1 337.3 92.1 337.4 93.1 337.4 94.1 337.3 95.1 337.1 96.1 336.9 96.6 336.5 97.5 336.1 98.1 335.8 98.6 335.5 99.1 335.0 99.7 334.5 100.3 334.0 100.7 333.3 101.1 332.5 101.6 332.0 101.9 331.0 101.9 330.0 101.6 329.5 101.6 329.0 101.6 328.0 101.9 327.5 102.1 326.5 102.5 326.0 102.8 325.1 103.1 324.5 103.3 323.5 103.5 323.0 103.6 322.0 103.7 321.2 103.6 320.5 103.4 320.0 103.1 319.3 102.6 318.7 102.1 318.1 101.6 317.5 101.1 317.0 100.7 316.5 100.4 316.0 100.1 315.4 99.6 314.8 99.1 314.5 98.6 314.3 97.6 314.5 96.8 314.8 96.1 315.1 95.6 315.5 95.0 316.0 94.4 316.5 93.8 317.0 93.3 317.5 92.8 318.0 92.3 318.5 91.8 319.0 91.4 319.5 90.8 320.0 90.1 320.3 89.6 320.6 89.1 321.0 88.3 321.3 87.6 321.5 87.1 321.8 86.1 322.0 85.6 322.4 84.6 322.6 84.1 323.0 83.4 323.5 82.6 323.8 82.1 324.1 81.6 324.5 81.1 325.0 80.5 325.5 79.9 326.0 79.4 326.5 78.8 327.0 78.3 327.5 77.8 328.0 77.3 328.5 76.9 329.1 76.6 330.0 76.2 330.5 76.0 331.4 75.6 332.0 75.1 332.5 74.6 332.9 74.1 333.4 73.6 333.8 73.1 334.1 72.6 334.5 71.7 334.5 71.1 334.4 70.6 334.2 69.6 334.0 69.1 333.7 68.1 333.5 67.5 333.3 66.6 333.0 65.8 332.7 65.1 332.5 64.4 332.3 63.6 332.2 62.6 332.2 61.6 332.3 60.6 332.5 59.9 332.8 59.1 333.1 58.6 333.5 58.1ZM331.9 105.1 332.5 104.6 333.2 105.1 333.6 105.6 334.0 106.6 334.1 107.1 334.2 108.1 334.2 109.1 334.0 110.1 333.8 110.6 333.1 111.1 333.0 111.1 332.1 110.6 331.8 110.1 331.5 109.6 331.3 108.6 331.3 107.6 331.4 106.6 331.5 106.1 331.9 105.1ZM264.2 112.6 265.0 112.5 266.0 112.4 267.0 112.4 268.0 112.5 268.5 112.6 269.5 112.8 270.2 113.1 271.0 113.4 271.5 113.7 272.2 114.1 272.9 114.6 273.5 115.1 274.0 115.6 274.5 116.1 274.9 116.6 275.3 117.1 275.6 117.6 276.0 118.2 276.4 119.1 276.7 119.6 277.0 120.3 277.4 121.1 277.6 121.6 278.0 122.5 278.3 123.1 278.5 123.6 278.8 124.6 279.0 125.2 279.3 126.1 279.4 127.1 279.5 128.1 279.4 129.1 279.2 130.1 279.0 130.8 278.9 131.6 278.8 132.6 278.8 133.6 278.9 134.6 278.8 135.6 278.5 136.3 278.0 136.9 277.5 137.4 277.0 137.9 276.5 138.4 276.0 138.8 275.5 139.3 275.0 139.8 274.5 140.2 274.0 140.6 273.4 141.1 272.6 141.6 272.0 142.0 271.5 142.3 270.7 142.6 270.0 142.9 269.2 143.1 268.5 143.3 267.5 143.4 266.5 143.5 265.5 143.5 264.5 143.4 263.5 143.1 263.0 143.0 262.0 142.7 261.5 142.4 260.8 142.1 260.0 141.6 259.5 141.3 259.0 141.0 258.5 140.6 257.9 140.1 257.3 139.6 256.9 139.1 256.5 138.5 256.0 137.6 255.8 137.1 255.5 136.4 255.3 135.6 255.0 134.6 254.9 134.1 254.7 133.1 254.5 132.2 254.3 131.6 254.1 130.6 254.0 129.9 253.9 129.1 253.8 128.1 253.8 127.1 253.8 126.1 253.9 125.1 254.0 124.6 254.2 123.6 254.5 122.6 254.6 122.1 255.0 121.1 255.2 120.6 255.5 119.9 255.9 119.1 256.2 118.6 256.5 118.1 257.0 117.4 257.5 116.9 258.0 116.4 258.5 116.0 259.1 115.6 259.7 115.1 260.3 114.6 261.0 114.1 261.5 113.7 262.0 113.4 262.6 113.1 263.5 112.8 264.2 112.6ZM316.4 116.6 317.0 116.5 318.0 116.4 319.0 116.5 319.5 116.7 320.1 117.1 320.6 117.6 321.0 118.4 321.2 119.1 321.3 120.1 321.1 121.1 320.9 121.6 320.5 122.4 320.1 123.1 319.8 123.6 319.5 124.5 319.3 125.1 319.0 125.8 318.6 126.6 318.2 127.1 317.8 127.6 317.3 128.1 316.8 128.6 316.3 129.1 315.7 129.6 315.0 130.1 314.5 130.3 313.9 130.6 313.0 131.0 312.5 131.2 311.6 131.6 311.0 131.8 310.4 132.1 309.5 132.5 309.0 132.7 308.0 133.1 307.5 133.3 306.9 133.6 306.0 134.0 305.5 134.2 304.5 134.5 304.0 134.6 303.0 134.7 302.0 134.7 301.0 134.6 300.5 134.6 299.5 134.3 298.6 134.1 298.0 133.9 297.3 133.6 296.5 133.2 296.0 132.8 295.5 132.4 295.0 132.0 294.5 131.5 294.0 131.0 293.5 130.5 293.0 130.1 292.2 129.6 291.5 129.5 291.0 129.6 290.0 129.7 289.3 129.6 288.5 129.2 288.0 128.8 287.5 128.4 287.0 127.9 286.5 127.1 286.5 126.6 286.8 126.1 287.5 125.8 288.5 126.0 289.0 126.1 290.0 126.5 290.5 126.7 291.5 127.1 292.0 127.2 293.0 127.1 293.5 126.9 294.2 126.6 295.0 126.2 295.5 126.0 296.5 125.7 297.0 125.5 298.0 125.2 298.5 125.0 299.5 124.6 300.0 124.4 300.5 124.1 301.5 123.7 302.0 123.4 302.8 123.1 303.5 122.7 304.0 122.4 304.5 122.1 305.1 121.6 305.8 121.1 306.5 120.7 307.0 120.4 307.6 120.1 308.5 119.7 309.0 119.4 309.8 119.1 310.5 118.9 311.3 118.6 312.0 118.4 312.6 118.1 313.5 117.7 314.0 117.4 314.8 117.1 315.5 116.9 316.4 116.6ZM286.0 132.6 286.5 132.4 287.5 132.5 288.0 132.6 288.7 133.1 289.2 133.6 289.5 134.1 289.5 134.8 289.0 135.4 288.5 135.7 287.5 136.0 287.0 136.1 286.0 136.2 285.0 136.2 284.2 136.1 283.5 135.8 283.0 135.1 283.5 134.3 284.0 133.8 284.5 133.4 285.0 133.1 286.0 132.6ZM299.9 28.6 300.5 28.5 301.5 28.4 302.5 28.3 303.5 28.3 304.5 28.3 305.5 28.3 306.5 28.3 307.5 28.3 308.5 28.4 309.5 28.6 310.0 28.7 311.0 28.8 312.0 29.0 312.7 29.1 313.5 29.2 314.5 29.4 315.4 29.6 316.0 29.7 317.0 30.0 317.5 30.1 318.5 30.5 319.0 30.7 320.0 31.1 320.5 31.3 321.0 31.6 321.9 32.1 322.5 32.5 323.0 32.8 323.5 33.2 324.1 33.6 324.8 34.1 325.4 34.6 326.0 35.1 326.5 35.6 327.0 36.0 327.5 36.5 328.0 36.9 328.5 37.4 329.0 37.9 329.5 38.3 330.0 38.8 330.5 39.3 331.0 39.8 331.5 40.2 332.0 40.8 332.5 41.5 332.9 42.1 333.1 42.6 333.5 43.6 333.7 44.1 333.9 45.1 333.9 46.1 333.9 47.1 333.8 48.1 333.7 49.1 333.5 50.0 333.1 50.6 332.5 51.0 331.5 51.0 330.5 51.0 329.5 51.0 328.5 50.9 327.5 50.7 327.0 50.5 326.2 50.1 325.5 49.6 325.0 49.2 324.5 48.8 324.0 48.5 323.1 48.1 322.5 47.9 321.5 47.9 320.5 48.1 320.0 48.2 319.0 48.5 318.5 48.7 317.5 49.0 317.0 49.2 316.2 49.6 315.5 49.9 315.0 50.2 314.2 50.6 313.5 50.9 313.0 51.1 312.0 51.5 311.5 51.7 310.5 52.1 310.0 52.3 309.2 52.6 308.5 53.0 308.0 53.4 307.5 53.9 307.3 54.6 307.5 55.1 308.0 56.0 308.2 56.6 308.4 57.6 308.5 58.2 309.0 59.0 309.5 59.6 309.0 60.1 308.0 60.5 307.5 60.7 306.8 61.1 306.0 61.5 305.5 61.7 304.5 62.0 303.5 62.0 302.5 61.7 302.0 61.6 301.0 61.2 300.5 60.8 300.2 60.1 300.5 59.4 300.8 58.6 300.7 57.6 300.5 57.0 300.2 56.1 300.0 55.1 299.9 54.6 299.5 54.0 299.0 53.5 298.3 53.1 297.5 52.8 296.9 52.6 296.0 52.4 295.0 52.1 294.5 52.0 293.5 51.7 293.0 51.5 292.0 51.1 291.5 50.9 290.7 50.6 290.0 50.3 289.5 50.1 288.7 49.6 288.0 49.1 287.5 48.7 287.0 48.3 286.5 47.8 286.0 47.2 285.6 46.6 285.3 46.1 285.0 45.4 284.8 44.6 284.7 43.6 284.7 42.6 284.7 41.6 284.9 40.6 285.0 40.1 285.5 39.1 285.8 38.6 286.1 38.1 286.6 37.6 287.0 37.1 287.5 36.5 288.0 35.9 288.5 35.3 289.0 34.6 289.4 34.1 289.8 33.6 290.3 33.1 290.8 32.6 291.4 32.1 292.0 31.6 292.5 31.3 293.0 30.9 293.6 30.6 294.5 30.1 295.0 29.9 295.8 29.6 296.5 29.4 297.5 29.1 298.0 29.0 299.0 28.7 299.9 28.6ZM333.8 55.1 334.5 54.6 335.1 55.1 335.5 55.7 336.0 56.6 336.2 57.1 336.5 58.0 336.6 58.6 336.9 59.6 337.0 60.2 337.2 61.1 337.3 62.1 337.3 63.1 337.2 64.1 337.0 65.1 336.9 65.6 336.9 66.6 337.0 67.1 337.2 68.1 337.4 69.1 337.5 69.7 337.5 70.6 337.5 71.6 337.5 72.1 337.5 72.9 337.5 73.6 337.7 74.6 337.8 75.6 337.9 76.6 338.0 77.6 338.0 78.1 338.1 79.1 338.1 80.1 338.2 81.1 338.2 82.1 338.2 83.1 338.1 84.1 338.1 85.1 338.1 86.1 338.0 87.1 338.0 87.6 337.9 88.6 337.9 89.6 337.8 90.6 337.9 91.6 337.9 92.6 338.0 93.5 338.0 94.1 338.0 94.6 337.9 95.6 337.6 96.6 337.4 97.1 337.0 98.0 336.7 98.6 336.5 99.1 336.0 100.1 335.8 100.6 335.5 101.4 335.2 102.1 335.0 103.1 335.0 103.6 335.0 104.6 335.0 105.5 335.0 106.1 335.1 107.1 335.1 108.1 335.1 109.1 335.1 110.1 335.0 111.1 334.9 111.6 334.5 112.6 334.0 113.1 333.5 113.2 332.8 113.1 332.0 112.6 331.6 112.1 331.2 111.6 330.9 111.1 330.5 110.1 330.4 109.6 330.3 108.6 330.2 107.6 330.2 106.6 330.2 105.6 330.0 104.7 329.8 104.1 329.4 103.6 328.7 103.1 328.0 103.0 327.3 103.1 326.5 103.3 325.6 103.6 325.0 103.8 324.1 104.1 323.5 104.3 322.5 104.5 321.5 104.5 320.5 104.2 320.0 104.0 319.4 103.6 318.7 103.1 318.1 102.6 317.5 102.1 317.0 101.8 316.5 101.4 316.0 101.1 315.2 100.6 314.5 100.1 314.0 99.6 313.7 99.1 313.5 98.6 313.4 97.6 313.5 97.0 313.8 96.1 314.1 95.6 314.5 94.9 315.0 94.2 315.4 93.6 315.8 93.1 316.2 92.6 316.6 92.1 317.0 91.6 317.5 91.1 318.0 90.5 318.5 89.9 319.0 89.1 319.3 88.6 319.6 88.1 320.0 87.2 320.3 86.6 320.6 86.1 321.0 85.2 321.3 84.6 321.5 84.1 322.0 83.3 322.4 82.6 322.7 82.1 323.1 81.6 323.5 81.0 324.0 80.3 324.5 79.7 325.0 79.2 325.5 78.7 326.0 78.1 326.5 77.6 326.9 77.1 327.3 76.6 327.9 76.1 328.5 75.6 329.0 75.3 329.5 75.1 330.5 74.6 331.0 74.3 331.5 73.9 332.0 73.4 332.5 72.7 332.8 72.1 333.0 71.1 333.0 71.1 332.9 70.1 332.7 69.1 332.5 68.4 332.3 67.6 332.0 66.6 331.9 66.1 331.5 65.2 331.3 64.6 331.1 63.6 331.0 62.6 331.1 61.6 331.3 60.6 331.5 59.9 331.8 59.1 332.0 58.6 332.5 57.6 332.7 57.1 333.0 56.5 333.5 55.6 333.8 55.1ZM264.4 112.1 265.0 112.0 266.0 111.9 267.0 112.0 268.0 112.0 268.5 112.1 269.5 112.3 270.3 112.6 271.0 112.9 271.5 113.1 272.3 113.6 273.0 114.1 273.5 114.5 274.0 115.0 274.5 115.5 275.0 116.0 275.4 116.6 275.8 117.1 276.1 117.6 276.5 118.3 276.9 119.1 277.1 119.6 277.5 120.4 277.8 121.1 278.1 121.6 278.5 122.4 278.9 123.1 279.1 123.6 279.5 124.6 279.8 125.1 280.0 125.7 280.4 126.6 280.5 127.3 280.6 128.1 280.5 128.6 280.2 129.6 280.0 130.1 279.7 131.1 279.6 132.1 279.7 133.1 280.0 133.8 280.5 134.1 281.0 134.1 282.0 133.7 282.5 133.4 283.0 133.0 283.6 132.6 284.1 132.1 284.6 131.6 285.0 130.6 285.0 130.6 284.7 129.6 284.5 129.1 284.0 128.2 283.8 127.6 283.8 126.6 284.0 126.1 284.5 125.3 285.0 124.9 285.5 124.5 286.5 124.1 287.0 124.0 288.0 124.0 288.5 124.2 289.5 124.6 290.0 124.8 290.7 125.1 291.5 125.4 292.5 125.5 293.5 125.5 294.5 125.3 295.3 125.1 296.0 124.9 297.0 124.7 297.5 124.6 298.5 124.2 299.0 123.9 299.6 123.6 300.5 123.1 301.0 122.9 301.6 122.6 302.5 122.2 303.0 121.9 303.5 121.6 304.2 121.1 304.9 120.6 305.5 120.3 306.0 120.0 306.7 119.6 307.5 119.2 308.0 119.0 308.8 118.6 309.5 118.3 310.0 118.1 311.0 117.7 311.5 117.6 312.5 117.2 313.0 117.0 313.8 116.6 314.5 116.3 315.1 116.1 316.0 115.8 316.8 115.6 317.5 115.5 318.5 115.5 319.4 115.6 320.0 115.8 320.6 116.1 321.4 116.6 322.0 117.1 322.5 117.6 322.9 118.1 323.2 118.6 323.5 119.6 323.6 120.1 323.5 121.1 323.3 121.6 323.0 122.2 322.5 122.8 322.0 123.4 321.5 124.1 321.2 124.6 320.9 125.1 320.5 126.1 320.3 126.6 320.0 127.6 319.9 128.1 319.5 129.1 319.1 129.6 318.5 130.0 318.0 130.2 317.0 130.6 316.5 130.8 315.7 131.1 315.0 131.3 314.2 131.6 313.5 131.8 312.6 132.1 312.0 132.3 311.2 132.6 310.5 132.8 309.8 133.1 309.0 133.4 308.4 133.6 307.5 133.9 307.0 134.1 306.0 134.6 305.5 134.7 304.5 135.0 304.0 135.1 303.0 135.2 302.0 135.2 301.0 135.2 300.4 135.1 299.5 135.0 298.5 134.8 297.7 134.6 297.0 134.4 296.1 134.1 295.5 133.8 294.9 133.6 294.0 133.2 293.5 133.0 292.5 132.9 292.0 133.4 291.7 134.1 291.5 134.6 291.0 135.4 290.5 135.8 290.0 136.2 289.0 136.6 288.5 136.7 287.5 136.8 286.5 137.0 285.5 137.0 284.5 137.0 283.5 137.0 282.5 136.8 281.9 136.6 281.0 136.4 280.0 136.5 279.5 136.7 278.9 137.1 278.2 137.6 277.5 138.1 277.0 138.5 276.5 138.9 276.0 139.4 275.5 139.8 275.0 140.2 274.5 140.6 273.9 141.1 273.2 141.6 272.5 142.1 272.0 142.4 271.5 142.6 270.5 143.1 270.0 143.2 269.0 143.5 268.5 143.6 267.5 143.8 266.5 143.9 265.5 143.8 264.5 143.7 264.0 143.6 263.0 143.4 262.3 143.1 261.5 142.8 261.0 142.6 260.1 142.1 259.5 141.7 259.0 141.4 258.5 141.1 257.9 140.6 257.3 140.1 256.8 139.6 256.4 139.1 256.0 138.5 255.5 137.6 255.3 137.1 255.0 136.2 254.8 135.6 254.6 134.6 254.5 134.1 254.3 133.1 254.1 132.1 253.9 131.6 253.7 130.6 253.6 129.6 253.5 129.1 253.4 128.1 253.4 127.1 253.4 126.1 253.5 125.2 253.6 124.6 253.8 123.6 254.0 122.9 254.2 122.1 254.5 121.3 254.8 120.6 255.0 120.1 255.5 119.1 255.7 118.6 256.0 118.1 256.5 117.4 257.0 116.8 257.5 116.4 258.0 115.9 258.5 115.5 259.0 115.1 259.7 114.6 260.3 114.1 261.0 113.6 261.5 113.2 262.0 112.9 262.7 112.6 263.5 112.3 264.4 112.1ZM327.4 121.6 327.5 121.5 328.0 121.2 328.5 121.6 328.5 121.6 328.5 122.1 328.5 122.2 328.0 122.3 327.7 122.1 327.5 121.8 327.4 121.6ZM299.9 28.1 300.5 28.0 301.5 27.9 302.5 27.8 303.5 27.8 304.5 27.8 305.5 27.7 306.5 27.7 307.5 27.8 308.5 27.9 309.5 28.0 310.0 28.1 311.0 28.3 312.0 28.4 312.9 28.6 313.5 28.7 314.5 28.9 315.5 29.1 316.0 29.2 317.0 29.4 317.5 29.6 318.5 29.9 319.0 30.1 320.0 30.5 320.5 30.7 321.2 31.1 322.0 31.5 322.5 31.8 323.0 32.1 323.7 32.6 324.4 33.1 325.0 33.5 325.5 33.9 326.0 34.3 326.5 34.7 327.0 35.2 327.5 35.6 328.1 36.1 328.6 36.6 329.1 37.1 329.7 37.6 330.2 38.1 330.8 38.6 331.3 39.1 331.9 39.6 332.4 40.1 332.8 40.6 333.2 41.1 333.5 41.6 334.0 42.6 334.2 43.1 334.5 44.1 334.6 44.6 334.8 45.6 334.9 46.6 335.0 47.5 335.1 48.1 335.2 49.1 335.3 50.1 335.5 51.1 335.6 51.6 336.0 52.6 336.2 53.1 336.5 54.0 336.7 54.6 337.0 55.6 337.1 56.1 337.3 57.1 337.5 58.1 337.5 58.6 337.7 59.6 337.8 60.6 337.9 61.6 338.0 62.6 337.9 63.6 337.8 64.6 337.7 65.6 337.7 66.6 337.9 67.6 338.0 68.2 338.2 69.1 338.3 70.1 338.3 71.1 338.3 72.1 338.3 73.1 338.4 74.1 338.5 75.1 338.5 75.6 338.6 76.6 338.6 77.6 338.6 78.6 338.7 79.6 338.7 80.6 338.7 81.6 338.7 82.6 338.7 83.6 338.6 84.6 338.6 85.6 338.6 86.6 338.6 87.6 338.5 88.6 338.5 89.2 338.5 90.1 338.5 91.1 338.5 92.1 338.5 92.6 338.6 93.6 338.6 94.6 338.5 95.6 338.4 96.1 338.1 97.1 337.9 97.6 337.5 98.6 337.4 99.1 337.0 100.1 336.9 100.6 336.6 101.6 336.5 102.2 336.3 103.1 336.2 104.1 336.1 105.1 336.0 106.1 336.0 107.1 336.0 108.1 336.0 109.1 336.0 110.1 336.0 111.1 336.0 111.6 335.8 112.6 335.5 113.4 335.1 114.1 334.6 114.6 334.0 115.0 333.5 115.2 332.5 115.2 332.0 114.9 331.5 114.4 331.0 113.8 330.6 113.1 330.4 112.6 330.0 111.7 329.8 111.1 329.5 110.1 329.4 109.6 329.3 108.6 329.2 107.6 329.1 106.6 329.0 106.1 328.6 105.1 328.2 104.6 327.5 104.3 326.5 104.3 325.5 104.5 325.0 104.7 324.0 105.0 323.5 105.2 322.5 105.5 321.5 105.5 320.5 105.3 320.0 105.1 319.2 104.6 318.6 104.1 318.0 103.7 317.5 103.3 317.0 102.9 316.5 102.6 315.7 102.1 315.0 101.7 314.5 101.3 314.0 101.0 313.5 100.5 313.0 99.9 312.6 99.1 312.5 98.6 312.5 97.6 312.6 97.1 312.9 96.1 313.1 95.6 313.5 94.7 313.8 94.1 314.1 93.6 314.5 93.0 315.0 92.3 315.5 91.6 315.8 91.1 316.2 90.6 316.5 90.1 317.0 89.5 317.5 88.8 318.0 88.1 318.3 87.6 318.6 87.1 319.0 86.3 319.4 85.6 319.7 85.1 320.0 84.6 320.5 83.7 320.9 83.1 321.2 82.6 321.6 82.1 322.0 81.5 322.5 80.8 323.0 80.1 323.4 79.6 323.8 79.1 324.2 78.6 324.7 78.1 325.2 77.6 325.6 77.1 326.0 76.6 326.5 75.9 327.0 75.3 327.5 74.7 328.0 74.3 328.5 73.9 329.0 73.6 329.9 73.1 330.5 72.7 331.0 72.2 331.3 71.6 331.5 71.0 331.5 70.1 331.5 69.6 331.3 68.6 331.1 67.6 331.0 67.1 330.6 66.1 330.4 65.6 330.0 64.6 329.8 64.1 329.7 63.1 329.8 62.1 330.0 61.1 330.1 60.6 330.5 59.7 330.7 59.1 331.0 58.5 331.4 57.6 331.5 57.1 331.8 56.1 331.9 55.1 331.7 54.1 331.5 53.5 331.0 52.9 330.5 52.5 329.5 52.1 329.0 52.0 328.0 51.8 327.4 51.6 326.5 51.3 326.0 51.0 325.4 50.6 324.7 50.1 324.0 49.6 323.5 49.3 323.0 49.1 322.0 48.8 321.0 48.8 320.0 49.0 319.3 49.1 318.5 49.3 317.8 49.6 317.0 49.9 316.5 50.1 315.5 50.6 315.0 50.8 314.4 51.1 313.5 51.5 313.0 51.7 312.0 52.1 311.5 52.3 310.6 52.6 310.0 52.9 309.5 53.3 309.0 54.0 309.0 54.5 309.3 55.1 309.9 55.6 310.5 56.1 311.0 56.4 311.5 56.7 312.2 57.1 313.0 57.6 313.5 57.9 314.0 58.1 315.0 58.6 315.5 58.9 316.0 59.1 317.0 59.6 317.5 59.9 318.0 60.1 318.8 60.6 319.0 61.1 318.8 61.6 318.0 62.0 317.5 62.2 316.5 62.3 315.5 62.4 314.5 62.4 313.5 62.4 312.5 62.3 311.6 62.1 311.0 61.9 310.0 61.6 309.5 61.6 308.5 61.6 308.0 61.6 307.0 61.9 306.5 62.2 305.6 62.6 305.0 62.8 304.0 63.1 303.0 63.0 302.0 62.8 301.0 62.6 300.5 62.5 299.5 62.2 299.0 62.1 298.0 61.6 297.5 61.4 297.0 61.1 296.3 60.6 295.7 60.1 295.4 59.6 295.2 58.6 295.5 57.9 296.0 57.4 296.5 56.9 297.0 56.4 297.4 55.6 297.5 55.1 297.5 54.6 297.0 53.9 296.5 53.6 295.5 53.1 295.0 52.9 294.1 52.6 293.5 52.4 292.8 52.1 292.0 51.8 291.5 51.6 290.5 51.2 290.0 51.0 289.2 50.6 288.5 50.2 288.0 49.9 287.5 49.6 286.9 49.1 286.3 48.6 285.8 48.1 285.3 47.6 284.9 47.1 284.5 46.4 284.1 45.6 283.9 45.1 283.7 44.1 283.6 43.1 283.7 42.1 283.8 41.1 284.0 40.1 284.2 39.6 284.5 38.8 284.9 38.1 285.2 37.6 285.7 37.1 286.2 36.6 286.7 36.1 287.1 35.6 287.6 35.1 288.0 34.6 288.5 34.1 289.0 33.5 289.5 33.0 290.0 32.5 290.5 32.1 291.1 31.6 291.8 31.1 292.5 30.6 293.0 30.3 293.5 30.0 294.4 29.6 295.0 29.4 295.7 29.1 296.5 28.9 297.5 28.6 298.0 28.5 299.0 28.3 299.9 28.1ZM264.1 111.6 265.0 111.4 266.0 111.4 267.0 111.4 268.0 111.4 269.0 111.6 269.5 111.7 270.5 112.0 271.0 112.2 271.7 112.6 272.5 113.1 273.0 113.5 273.5 113.8 274.0 114.3 274.5 114.7 275.0 115.3 275.5 115.8 276.0 116.5 276.4 117.1 276.7 117.6 277.0 118.3 277.4 119.1 277.7 119.6 278.0 120.3 278.4 121.1 278.7 121.6 279.0 122.1 279.5 122.8 280.0 123.6 280.4 124.1 281.0 124.6 281.5 124.9 282.5 124.7 283.0 124.5 283.6 124.1 284.5 123.6 285.0 123.3 285.6 123.1 286.5 122.8 287.5 122.8 288.5 122.9 289.0 123.1 290.0 123.5 290.5 123.7 291.5 124.1 292.0 124.2 293.0 124.3 294.0 124.3 295.0 124.1 295.5 124.0 296.5 123.8 297.3 123.6 298.0 123.3 298.5 123.1 299.4 122.6 300.0 122.3 300.5 122.0 301.3 121.6 302.0 121.2 302.5 121.0 303.1 120.6 303.9 120.1 304.5 119.7 305.0 119.5 305.7 119.1 306.5 118.7 307.0 118.5 307.7 118.1 308.5 117.7 309.0 117.5 310.0 117.1 310.5 116.9 311.5 116.6 312.0 116.4 312.8 116.1 313.5 115.8 314.0 115.6 315.0 115.2 315.5 115.0 316.5 114.7 317.3 114.6 318.0 114.5 319.0 114.5 319.5 114.6 320.5 114.8 321.3 115.1 322.0 115.4 322.5 115.7 323.2 116.1 324.0 116.6 324.5 116.9 325.0 117.2 326.0 117.6 326.5 117.7 327.5 117.8 328.5 118.0 329.0 118.2 329.6 118.6 330.1 119.1 330.5 119.8 330.8 120.6 331.0 121.4 331.1 122.1 331.0 123.1 330.9 123.6 330.7 124.6 330.5 125.1 330.0 126.0 329.5 126.4 329.0 126.6 328.5 126.6 327.6 126.1 327.0 125.7 326.5 125.2 326.0 124.8 325.5 124.6 324.5 124.5 324.0 124.6 323.3 125.1 322.7 125.6 322.3 126.1 322.0 126.7 321.7 127.6 321.5 128.6 321.5 129.1 321.1 130.1 320.8 130.6 320.2 131.1 319.5 131.4 319.0 131.6 318.0 131.9 317.3 132.1 316.5 132.3 315.5 132.5 314.7 132.6 314.0 132.7 313.0 133.0 312.5 133.1 311.5 133.4 310.9 133.6 310.0 133.9 309.2 134.1 308.5 134.3 307.6 134.6 307.0 134.8 306.2 135.1 305.5 135.3 304.5 135.6 304.0 135.6 303.0 135.8 302.0 135.8 301.0 135.8 300.0 135.7 299.2 135.6 298.5 135.5 297.5 135.4 296.5 135.2 295.8 135.1 295.0 135.0 294.0 135.0 293.5 135.1 292.6 135.6 292.0 136.0 291.5 136.3 291.0 136.7 290.0 137.1 289.5 137.2 288.5 137.4 287.5 137.5 286.9 137.6 286.0 137.7 285.0 137.8 284.0 137.8 283.0 137.7 282.0 137.6 281.5 137.6 280.5 137.5 280.0 137.6 279.0 137.9 278.5 138.2 277.8 138.6 277.1 139.1 276.5 139.5 276.0 139.9 275.5 140.4 275.0 140.8 274.5 141.1 273.9 141.6 273.2 142.1 272.5 142.5 272.0 142.8 271.4 143.1 270.5 143.5 270.0 143.7 269.0 144.0 268.2 144.1 267.5 144.2 266.5 144.3 265.5 144.2 264.5 144.1 264.0 144.0 263.0 143.8 262.5 143.6 261.5 143.2 261.0 143.0 260.2 142.6 259.5 142.2 259.0 141.9 258.5 141.6 257.8 141.1 257.2 140.6 256.6 140.1 256.2 139.6 255.8 139.1 255.5 138.6 255.0 137.7 254.8 137.1 254.5 136.3 254.3 135.6 254.1 134.6 254.0 134.1 253.8 133.1 253.6 132.1 253.4 131.6 253.2 130.6 253.1 129.6 253.0 128.9 252.9 128.1 252.9 127.1 252.9 126.1 253.0 125.5 253.1 124.6 253.4 123.6 253.5 123.1 253.8 122.1 254.0 121.4 254.3 120.6 254.5 120.1 255.0 119.1 255.2 118.6 255.5 118.1 256.0 117.3 256.5 116.7 257.0 116.2 257.5 115.7 258.0 115.3 258.5 114.9 259.0 114.5 259.5 114.1 260.1 113.6 260.8 113.1 261.5 112.6 262.0 112.3 262.5 112.1 263.5 111.7 264.1 111.6ZM302.3 27.1 303.0 27.1 304.0 27.0 305.0 27.0 306.0 26.9 307.0 27.0 308.0 27.0 308.6 27.1 309.5 27.2 310.5 27.4 311.5 27.5 312.0 27.6 313.0 27.8 314.0 28.0 314.7 28.1 315.5 28.3 316.5 28.5 317.0 28.6 318.0 28.9 318.6 29.1 319.5 29.4 320.0 29.6 321.0 30.1 321.5 30.3 322.1 30.6 323.0 31.1 323.5 31.4 324.0 31.7 324.5 32.1 325.3 32.6 326.0 33.1 326.5 33.5 327.0 33.9 327.5 34.3 328.0 34.7 328.5 35.2 329.0 35.6 329.5 36.1 330.1 36.6 330.6 37.1 331.2 37.6 331.8 38.1 332.4 38.6 333.0 39.1 333.5 39.6 333.9 40.1 334.2 40.6 334.6 41.1 335.0 42.0 335.3 42.6 335.5 43.3 335.8 44.1 336.0 45.1 336.1 45.6 336.2 46.6 336.4 47.6 336.6 48.1 336.8 49.1 336.9 50.1 337.0 50.6 337.2 51.6 337.5 52.6 337.6 53.1 337.9 54.1 338.0 54.6 338.2 55.6 338.3 56.6 338.5 57.6 338.5 58.1 338.6 59.1 338.7 60.1 338.8 61.1 338.8 62.1 338.8 63.1 338.8 64.1 338.7 65.1 338.7 66.1 338.8 67.1 338.9 68.1 339.0 68.7 339.1 69.6 339.2 70.6 339.3 71.6 339.3 72.6 339.3 73.6 339.4 74.6 339.4 75.6 339.4 76.6 339.4 77.6 339.4 78.6 339.5 79.6 339.5 80.6 339.5 81.6 339.5 82.6 339.4 83.6 339.4 84.6 339.4 85.6 339.4 86.6 339.4 87.6 339.4 88.6 339.3 89.6 339.3 90.6 339.3 91.6 339.4 92.6 339.4 93.6 339.5 94.6 339.4 95.6 339.2 96.6 339.0 97.3 338.8 98.1 338.5 99.1 338.4 99.6 338.1 100.6 338.0 101.3 337.8 102.1 337.6 103.1 337.5 103.7 337.4 104.6 337.2 105.6 337.2 106.6 337.2 107.6 337.2 108.6 337.2 109.6 337.2 110.6 337.1 111.6 337.0 112.5 336.9 113.1 336.6 114.1 336.4 114.6 336.0 115.4 335.5 116.0 335.0 116.6 334.5 117.1 334.0 117.6 333.6 118.1 333.3 118.6 333.0 119.6 333.0 120.1 333.0 121.1 333.0 122.1 333.0 123.1 332.9 124.1 332.9 125.1 332.9 126.1 333.0 127.1 333.0 128.1 332.9 129.1 332.7 130.1 332.4 130.6 331.9 131.1 331.0 131.4 330.0 131.5 329.0 131.3 328.5 131.1 327.5 130.7 327.0 130.5 326.0 130.5 325.5 130.6 324.7 131.1 324.0 131.5 323.5 131.8 323.0 132.1 322.0 132.6 321.5 132.8 320.5 133.1 320.0 133.2 319.0 133.4 318.3 133.6 317.5 133.8 316.5 133.9 315.5 134.0 315.0 134.1 314.0 134.2 313.0 134.4 312.3 134.6 311.5 134.8 310.5 135.0 310.0 135.1 309.0 135.3 308.0 135.5 307.5 135.7 306.5 135.9 305.8 136.1 305.0 136.3 304.0 136.5 303.0 136.6 302.0 136.6 301.5 136.6 300.6 136.6 300.0 136.6 299.0 136.5 298.0 136.4 297.0 136.4 296.0 136.3 295.0 136.4 294.0 136.5 293.5 136.7 292.5 137.1 292.0 137.3 291.4 137.6 290.5 137.9 289.7 138.1 289.0 138.2 288.0 138.3 287.0 138.4 286.0 138.5 285.2 138.6 284.5 138.6 283.5 138.7 282.5 138.7 281.5 138.6 280.5 138.6 279.5 138.8 278.6 139.1 278.0 139.4 277.5 139.7 276.9 140.1 276.3 140.6 275.6 141.1 275.0 141.6 274.5 141.9 274.0 142.3 273.5 142.6 272.7 143.1 272.0 143.5 271.5 143.8 270.7 144.1 270.0 144.4 269.2 144.6 268.5 144.8 267.5 144.9 266.5 145.0 265.5 144.9 264.5 144.8 263.7 144.6 263.0 144.4 262.1 144.1 261.5 143.9 260.9 143.6 260.0 143.2 259.5 142.9 259.0 142.6 258.1 142.1 257.5 141.7 257.0 141.3 256.5 140.9 256.0 140.5 255.5 140.0 255.0 139.3 254.5 138.6 254.3 138.1 254.0 137.4 253.7 136.6 253.5 135.8 253.3 135.1 253.1 134.1 253.0 133.4 252.9 132.6 252.7 131.6 252.5 130.7 252.4 130.1 252.3 129.1 252.2 128.1 252.2 127.1 252.2 126.1 252.3 125.1 252.5 124.3 252.7 123.6 252.9 122.6 253.1 122.1 253.4 121.1 253.6 120.6 254.0 119.6 254.2 119.1 254.5 118.4 255.0 117.6 255.3 117.1 255.6 116.6 256.0 116.1 256.5 115.6 257.0 115.1 257.6 114.6 258.2 114.1 258.8 113.6 259.4 113.1 260.0 112.6 260.5 112.3 261.0 112.0 261.7 111.6 262.5 111.2 263.0 111.0 264.0 110.8 264.9 110.6 265.5 110.5 266.5 110.5 267.5 110.5 268.4 110.6 269.0 110.7 270.0 110.9 270.5 111.1 271.5 111.5 272.0 111.8 272.5 112.1 273.2 112.6 273.8 113.1 274.4 113.6 275.0 114.1 275.5 114.6 275.9 115.1 276.3 115.6 276.6 116.1 277.0 116.7 277.5 117.6 277.8 118.1 278.1 118.6 278.5 119.4 278.9 120.1 279.3 120.6 279.6 121.1 280.1 121.6 280.7 122.1 281.5 122.4 282.5 122.4 283.5 122.2 284.0 122.0 285.0 121.6 285.5 121.5 286.5 121.4 287.5 121.4 288.5 121.5 289.0 121.6 290.0 121.9 290.6 122.1 291.5 122.4 292.5 122.6 293.0 122.6 294.0 122.6 294.7 122.6 295.5 122.5 296.5 122.3 297.0 122.1 298.0 121.7 298.5 121.4 299.1 121.1 300.0 120.6 300.5 120.4 301.0 120.1 302.0 119.6 302.5 119.3 303.0 119.0 303.8 118.6 304.5 118.3 305.0 118.0 305.8 117.6 306.5 117.3 307.0 117.0 307.9 116.6 308.5 116.3 309.1 116.1 310.0 115.8 310.5 115.6 311.5 115.3 312.0 115.1 313.0 114.7 313.5 114.5 314.5 114.1 315.0 113.9 316.0 113.6 316.5 113.4 317.5 113.2 318.4 113.1 319.0 113.0 320.0 113.0 321.0 113.1 321.5 113.1 322.5 113.3 323.5 113.5 324.0 113.6 325.0 114.0 325.5 114.2 326.5 114.4 327.5 114.3 328.0 113.9 328.3 113.1 328.3 112.1 328.2 111.1 328.1 110.1 328.0 109.1 327.9 108.6 327.7 107.6 327.5 107.1 327.0 106.4 326.4 106.1 325.5 106.1 325.0 106.2 324.1 106.6 323.5 106.9 322.8 107.1 322.0 107.2 321.0 107.1 320.5 107.0 319.8 106.6 319.0 106.1 318.5 105.8 318.0 105.4 317.5 105.0 317.0 104.6 316.3 104.1 315.5 103.6 315.0 103.3 314.5 103.1 313.8 102.6 313.1 102.1 312.6 101.6 312.2 101.1 311.8 100.6 311.5 100.0 311.2 99.1 311.1 98.1 311.2 97.1 311.5 96.1 311.6 95.6 312.0 94.6 312.2 94.1 312.5 93.5 313.0 92.6 313.2 92.1 313.5 91.6 314.0 90.9 314.5 90.1 314.9 89.6 315.2 89.1 315.6 88.6 316.0 88.1 316.5 87.4 317.0 86.7 317.4 86.1 317.7 85.6 318.0 85.1 318.5 84.2 318.9 83.6 319.2 83.1 319.5 82.6 320.0 82.0 320.5 81.3 321.0 80.6 321.4 80.1 321.7 79.6 322.1 79.1 322.5 78.6 323.0 78.0 323.5 77.4 324.0 76.8 324.5 76.1 324.9 75.6 325.2 75.1 325.5 74.6 326.0 73.8 326.4 73.1 326.7 72.6 327.1 72.1 327.5 71.4 328.0 70.6 328.3 70.1 328.6 69.6 328.9 68.6 328.9 67.6 328.5 66.6 328.2 66.1 327.9 65.6 327.5 65.1 326.6 64.6 326.0 64.6 325.5 64.7 324.5 65.0 323.5 64.9 322.5 64.7 322.0 64.5 321.0 64.3 320.0 64.2 319.0 64.1 318.0 64.1 317.0 64.1 316.0 64.1 315.0 64.1 314.1 64.1 313.5 64.0 312.5 63.7 312.0 63.5 311.3 63.1 310.5 62.7 310.0 62.5 309.0 62.3 308.0 62.4 307.2 62.6 306.5 62.9 306.0 63.1 305.0 63.6 304.5 63.8 303.5 64.0 302.5 63.9 301.5 63.7 300.8 63.6 300.0 63.4 299.0 63.2 298.5 63.1 297.5 62.8 297.0 62.6 296.0 62.2 295.5 62.0 294.8 61.6 294.0 61.1 293.5 60.7 293.0 60.1 292.7 59.6 292.5 59.1 292.3 58.1 292.5 57.1 292.7 56.6 293.0 55.9 293.3 55.1 293.2 54.1 292.8 53.6 292.1 53.1 291.5 52.8 291.0 52.5 290.1 52.1 289.5 51.8 289.0 51.6 288.1 51.1 287.5 50.7 287.0 50.4 286.5 50.0 285.9 49.6 285.3 49.1 284.7 48.6 284.2 48.1 283.8 47.6 283.4 47.1 283.0 46.5 282.6 45.6 282.4 45.1 282.1 44.1 282.0 43.1 282.1 42.1 282.2 41.1 282.4 40.1 282.6 39.6 282.9 38.6 283.1 38.1 283.5 37.3 284.0 36.6 284.5 36.1 285.0 35.7 285.5 35.3 286.0 34.8 286.5 34.4 287.0 34.0 287.5 33.5 288.0 33.0 288.5 32.6 289.0 32.1 289.6 31.6 290.3 31.1 290.9 30.6 291.5 30.2 292.0 29.9 292.5 29.6 293.5 29.1 294.0 28.9 294.8 28.6 295.5 28.4 296.4 28.1 297.0 27.9 298.0 27.7 298.5 27.6 299.5 27.4 300.5 27.3 301.5 27.2 302.3 27.1ZM320.0 50.0 319.5 50.1 318.5 50.3 317.7 50.6 317.0 50.9 316.4 51.1 315.5 51.5 315.0 51.7 314.1 52.1 313.5 52.4 313.0 52.6 312.0 53.1 311.5 53.5 311.2 54.1 311.5 54.7 312.0 55.1 312.8 55.6 313.5 56.0 314.0 56.2 314.8 56.6 315.5 56.9 316.0 57.1 317.0 57.6 317.5 57.8 318.3 58.1 319.0 58.4 319.7 58.6 320.5 58.9 321.2 59.1 322.0 59.4 322.5 59.7 323.3 60.1 324.0 60.4 324.5 60.7 325.5 61.1 326.0 61.2 327.0 61.2 327.5 61.0 328.0 60.6 328.5 60.0 329.0 59.3 329.4 58.6 329.6 58.1 330.0 57.1 330.1 56.6 330.1 55.6 329.9 55.1 329.5 54.4 329.0 53.9 328.5 53.6 327.5 53.2 327.0 53.0 326.2 52.6 325.5 52.2 325.0 51.9 324.5 51.5 323.8 51.1 323.0 50.6 322.5 50.4 321.5 50.1 321.0 50.0 320.0 50.0Z" fill="none" stroke="#000" stroke-width="0.5"/>
<path d="M325.1 111.9h.01M342.1 84.6h.01M316.8 86.6h.01M287.2 90.6h.01M289.7 121.6h.01M337.7 46.9h.01M337.4 131.6h.01M277.4 50.3h.01M336.5 117.1h.01M252.2 126.4h.01M295.2 62.4h.01M286.9 26.4h.01M312.2 136.8h.01M293.1 54.4h.01M316.4 51.6h.01M283.0 37.0h.01M299.3 136.4h.01M279.1 52.6h.01M319.9 50.6h.01M297.6 86.6h.01M292.3 59.4h.01M249.3 142.1h.01M339.4 90.5h.01M283.7 36.7h.01M270.9 108.2h.01M333.3 126.7h.01M340.1 56.3h.01M328.2 131.6h.01M273.5 48.0h.01M282.5 53.1h.01M281.6 73.8h.01M327.9 67.8h.01M333.3 39.4h.01M287.2 138.7h.01M252.9 113.1h.01M336.1 117.5h.01M320.9 110.1h.01M267.5 75.6h.01M291.2 117.3h.01M312.8 70.2h.01M339.4 72.4h.01M320.5 106.9h.01M331.9 139.9h.01M339.5 90.0h.01M251.5 114.4h.01M322.9 68.0h.01M255.3 116.8h.01M298.7 82.1h.01M312.1 114.0h.01M333.4 38.7h.01M336.2 115.4h.01M311.0 110.0h.01M292.2 87.9h.01M264.1 52.8h.01M320.9 140.9h.01M301.0 120.0h.01M285.4 75.5h.01M302.7 117.9h.01M292.6 99.1h.01M341.6 76.8h.01M327.6 131.6h.01M303.1 99.9h.01M307.1 97.0h.01M330.2 131.8h.01M305.2 77.3h.01M333.2 39.2h.01M324.8 55.6h.01M299.0 137.1h.01M313.3 105.2h.01M298.6 95.1h.01M281.5 41.4h.01M308.4 116.2h.01M296.2 99.9h.01M266.6 109.7h.01M281.4 98.2h.01M318.8 67.6h.01M333.4 120.9h.01M303.3 84.3h.01M319.0 82.4h.01M323.2 107.2h.01M281.2 64.2h.01M271.0 50.3h.01M308.4 101.1h.01M290.2 74.5h.01M324.0 53.8h.01M338.4 128.2h.01M310.9 89.4h.01M301.1 84.0h.01M337.8 106.4h.01M328.1 137.2h.01M294.6 73.2h.01M330.2 33.7h.01M286.2 73.7h.01M317.2 56.9h.01M339.3 66.6h.01M279.6 88.0h.01M294.2 64.5h.01M288.5 70.2h.01M323.5 53.6h.01M332.4 33.9h.01M318.8 28.4h.01M339.8 92.4h.01M284.4 48.5h.01M326.2 72.5h.01M335.0 118.8h.01M341.1 97.4h.01M311.2 113.0h.01M269.3 52.8h.01M307.2 136.2h.01M296.2 26.9h.01M250.4 133.7h.01M275.6 47.2h.01M314.5 104.2h.01M288.5 60.4h.01M309.6 27.2h.01M326.2 138.1h.01M264.2 107.5h.01M318.1 83.3h.01M311.4 87.5h.01M336.7 44.2h.01M323.8 132.0h.01M342.1 121.8h.01M338.7 109.6h.01M335.1 124.8h.01M253.4 119.9h.01M253.6 116.5h.01M296.7 118.5h.01M337.6 105.2h.01M298.7 83.3h.01M281.2 55.3h.01M326.9 29.3h.01M308.3 62.4h.01M304.2 64.1h.01M283.9 54.5h.01M270.4 48.3h.01M348.8 85.4h.01M289.7 105.3h.01M327.2 59.1h.01M285.6 94.7h.01M323.1 76.6h.01M332.9 123.8h.01M251.1 141.6h.01M286.7 139.5h.01M290.3 118.7h.01M332.0 35.1h.01M275.6 113.9h.01M333.9 135.7h.01M342.0 63.2h.01M318.7 77.2h.01M339.2 128.0h.01M312.8 68.9h.01M311.9 64.0h.01M287.5 104.8h.01M339.4 81.5h.01M306.9 137.2h.01M315.1 27.3h.01M325.4 54.7h.01M336.1 43.2h.01M296.6 101.2h.01M279.9 25.3h.01M339.0 108.1h.01M286.0 67.6h.01M298.6 120.0h.01M327.5 57.8h.01M318.8 111.6h.01M297.1 117.9h.01M298.4 66.8h.01M289.7 75.2h.01M284.6 89.5h.01M285.3 49.7h.01M322.7 135.0h.01M298.3 94.1h.01M340.4 79.3h.01M260.8 110.0h.01M294.6 67.1h.01M273.1 32.9h.01M336.6 124.3h.01M294.3 136.8h.01M283.6 83.5h.01M302.8 65.2h.01M293.7 75.8h.01M295.8 107.3h.01M321.3 109.8h.01M281.2 120.6h.01M286.5 92.7h.01M290.1 119.4h.01M294.1 122.1h.01M265.0 146.7h.01M274.4 78.2h.01M275.8 32.9h.01M304.0 106.3h.01M317.4 53.4h.01M292.9 138.5h.01M309.2 26.9h.01M338.4 114.2h.01M312.7 64.4h.01M277.4 39.7h.01M287.9 116.8h.01M330.5 134.3h.01M307.2 105.0h.01M341.6 49.9h.01M301.7 66.9h.01M340.3 61.6h.01M303.7 90.8h.01M291.7 61.6h.01M322.8 52.9h.01M321.0 79.3h.01M294.3 136.8h.01M319.2 108.6h.01M264.0 76.1h.01M303.5 90.1h.01M318.8 111.1h.01M333.3 131.2h.01M317.7 82.0h.01M339.1 52.9h.01M291.5 59.5h.01M314.8 110.2h.01M292.2 120.9h.01M302.2 89.1h.01M313.8 107.4h.01M294.1 62.5h.01M320.3 52.4h.01M263.7 63.5h.01M282.2 41.9h.01M323.7 110.3h.01M258.4 112.8h.01M319.7 70.8h.01M305.6 77.3h.01M297.4 25.0h.01M259.8 110.7h.01M282.4 141.0h.01M338.8 54.0h.01M294.8 122.2h.01M281.6 40.7h.01M339.8 133.3h.01M324.5 67.5h.01M321.9 58.6h.01M277.3 65.4h.01M300.9 26.5h.01M320.0 66.0h.01M323.5 65.8h.01M313.2 85.9h.01M265.6 65.3h.01M296.9 98.2h.01M264.7 110.0h.01M273.2 66.1h.01M322.9 77.0h.01M271.1 146.1h.01M284.4 33.1h.01M288.5 68.2h.01M284.5 93.6h.01M338.3 53.5h.01M258.4 113.1h.01M267.9 59.5h.01M289.9 86.3h.01M301.2 89.1h.01M318.1 134.2h.01M275.0 144.8h.01M341.0 69.9h.01M330.2 34.6h.01M278.8 62.0h.01M328.4 25.3h.01M340.7 73.1h.01M302.1 77.8h.01M280.0 42.1h.01M307.2 104.8h.01M299.3 113.6h.01M328.0 113.1h.01M337.5 47.7h.01M277.0 116.5h.01M296.2 139.7h.01M301.2 81.4h.01M287.7 59.5h.01M250.3 127.5h.01M264.4 108.7h.01M339.5 63.3h.01M252.0 137.6h.01M315.3 82.7h.01M270.7 49.9h.01M261.5 147.4h.01M305.0 114.6h.01M301.1 105.7h.01M288.7 30.5h.01M310.0 108.1h.01M326.7 71.7h.01M258.5 112.9h.01M334.5 122.2h.01M316.9 54.3h.01M335.0 116.9h.01M342.5 76.1h.01M249.3 142.2h.01M325.7 114.0h.01M338.8 132.4h.01M322.6 53.4h.01M334.4 127.5h.01M294.1 136.5h.01M327.4 114.0h.01M313.6 71.1h.01M302.7 92.0h.01M273.4 111.2h.01M293.2 101.4h.01M309.1 96.9h.01M299.7 79.7h.01M317.4 80.2h.01M283.7 86.8h.01M285.9 62.2h.01M282.5 45.7h.01M338.9 138.1h.01M315.8 135.4h.01M306.8 136.5h.01M255.0 139.7h.01M297.8 25.7h.01M342.2 25.7h.01M285.4 50.4h.01M286.8 101.1h.01M299.7 140.1h.01M290.3 61.7h.01M339.7 98.6h.01M312.4 114.4h.01M292.3 56.4h.01M303.7 145.9h.01M338.4 102.1h.01M269.9 99.7h.01M320.7 69.9h.01M294.2 62.2h.01M279.1 37.3h.01M298.1 81.2h.01M291.2 28.9h.01M293.4 82.4h.01M304.6 110.5h.01M276.8 90.5h.01M335.5 116.3h.01M346.5 27.5h.01M325.0 132.6h.01M328.4 56.0h.01M322.0 75.8h.01M337.3 108.2h.01M314.6 88.4h.01M291.5 68.2h.01M251.0 137.9h.01M322.1 28.4h.01M278.0 118.1h.01M273.7 36.7h.01M326.5 112.2h.01M315.4 56.4h.01M307.4 85.3h.01M286.7 53.7h.01M312.0 80.4h.01M290.0 67.0h.01M281.3 37.4h.01M288.6 60.9h.01M327.6 111.9h.01M299.7 63.5h.01M320.5 73.5h.01M279.1 85.7h.01M333.4 120.3h.01M330.6 26.0h.01M316.4 72.5h.01M277.3 61.2h.01M297.8 137.4h.01M271.6 55.2h.01M338.4 122.6h.01M276.0 41.0h.01M253.9 137.8h.01M330.1 33.9h.01M273.7 78.9h.01M335.8 117.9h.01M300.7 23.1h.01M315.1 105.2h.01M313.4 91.6h.01M326.4 106.9h.01M294.2 137.2h.01M274.8 113.0h.01M291.2 93.2h.01M279.6 57.3h.01M291.2 91.3h.01M339.5 117.5h.01M300.5 64.4h.01M320.3 28.1h.01M322.1 51.2h.01M291.0 75.6h.01M326.3 72.3h.01M280.0 41.9h.01M280.3 46.4h.01M338.9 123.1h.01M274.3 69.5h.01M338.4 46.1h.01M336.3 46.2h.01M276.7 66.9h.01M313.0 111.8h.01M328.4 55.4h.01M306.9 26.8h.01M290.3 29.6h.01M314.7 110.2h.01M336.3 132.7h.01M304.4 85.9h.01M248.9 123.5h.01M289.4 56.2h.01M318.2 70.6h.01M298.4 27.0h.01M333.7 136.0h.01M283.4 62.3h.01M280.1 54.0h.01M348.8 90.5h.01M275.0 111.1h.01M351.1 96.6h.01M289.4 95.6h.01M294.5 28.1h.01M321.6 132.9h.01M252.1 121.9h.01M315.9 52.9h.01M342.0 98.9h.01M292.7 92.7h.01M324.1 30.7h.01M283.7 90.2h.01M288.3 75.2h.01M271.4 73.5h.01M338.6 125.0h.01M334.6 40.8h.01M304.4 100.9h.01M342.4 55.7h.01M290.0 61.4h.01M314.2 104.2h.01M259.9 40.9h.01M296.1 78.1h.01M333.4 124.4h.01M312.7 92.4h.01M333.2 124.1h.01M321.7 79.5h.01M313.5 71.1h.01M335.6 127.6h.01M325.0 107.6h.01M327.2 67.9h.01M286.4 33.0h.01M282.4 28.9h.01M337.9 115.4h.01M312.0 27.2h.01M256.8 114.4h.01M318.5 81.5h.01M310.2 100.3h.01M318.5 80.2h.01M258.0 55.5h.01M316.5 109.0h.01M320.0 79.6h.01M324.8 110.4h.01M309.2 97.8h.01M338.1 51.0h.01M342.4 95.1h.01M272.4 92.1h.01M290.6 138.3h.01M293.4 62.0h.01M340.6 40.9h.01M316.2 55.0h.01M265.9 62.4h.01M325.5 112.3h.01M274.6 88.4h.01M342.0 25.9h.01M339.6 86.3h.01M266.8 110.0h.01M339.4 105.3h.01M296.4 27.6h.01M339.9 105.2h.01M327.3 22.6h.01M313.1 84.8h.01M339.4 91.2h.01M326.9 60.5h.01M293.1 73.8h.01M327.3 66.8h.01M324.4 31.8h.01M305.7 96.6h.01M307.1 63.3h.01M327.0 112.8h.01M325.5 53.2h.01M339.3 53.0h.01M339.6 67.6h.01M349.5 62.4h.01M313.8 55.2h.01M279.6 66.5h.01M341.0 97.7h.01M311.0 103.0h.01M277.5 92.3h.01M262.5 46.9h.01M297.0 105.2h.01M305.4 139.5h.01M309.9 27.0h.01M303.1 136.9h.01M315.1 113.3h.01M327.5 131.4h.01M340.4 86.3h.01M277.1 112.2h.01M303.4 86.8h.01M263.9 109.9h.01M323.2 56.3h.01M276.5 77.5h.01M324.0 113.2h.01M281.7 37.6h.01M337.7 106.2h.01M324.0 55.6h.01M321.7 58.3h.01M339.0 115.9h.01M320.4 79.5h.01M286.3 33.6h.01M333.8 37.6h.01M307.3 116.0h.01M281.8 119.2h.01M301.1 139.0h.01M301.9 105.5h.01M269.6 107.9h.01M296.8 93.1h.01M333.4 39.3h.01M286.3 77.0h.01M279.4 42.6h.01M294.7 91.5h.01M298.5 91.5h.01M320.4 55.4h.01M325.8 133.3h.01M323.8 29.7h.01M273.7 76.8h.01M285.5 50.5h.01M256.8 113.1h.01M334.9 40.9h.01M312.5 106.5h.01M278.5 58.1h.01M300.7 26.4h.01M289.9 76.8h.01M279.3 97.7h.01M339.8 82.0h.01M312.2 139.8h.01M262.0 66.7h.01M280.1 121.3h.01M282.6 84.9h.01M283.1 120.8h.01M340.7 101.3h.01M323.1 29.5h.01M290.3 68.6h.01M279.4 41.6h.01M312.7 135.7h.01M279.1 47.8h.01M300.7 138.6h.01M272.4 45.6h.01M279.9 63.0h.01M274.8 36.1h.01M318.7 108.4h.01M344.7 90.3h.01M282.7 94.7h.01M322.3 66.1h.01M326.5 108.1h.01M282.5 47.0h.01M329.1 139.6h.01M320.9 77.5h.01M283.6 48.9h.01M311.6 100.9h.01M340.0 47.2h.01M290.6 71.6h.01M286.9 55.4h.01M321.4 77.1h.01M280.0 70.5h.01M270.4 111.0h.01M316.5 87.3h.01M339.5 108.2h.01M286.0 111.9h.01M339.6 36.3h.01M277.7 98.8h.01M275.7 106.1h.01M296.0 105.2h.01M321.0 50.6h.01M278.4 77.4h.01M284.6 35.0h.01M305.6 104.8h.01M251.6 135.3h.01M326.3 59.3h.01M294.8 85.2h.01M298.2 95.1h.01M289.7 120.0h.01M324.1 131.8h.01M262.5 111.2h.01M329.0 131.4h.01M328.2 58.9h.01M338.1 114.9h.01M259.0 41.7h.01M339.6 88.0h.01M298.4 26.0h.01M290.0 99.2h.01M280.9 40.5h.01M299.1 97.4h.01M272.3 145.6h.01M267.0 146.2h.01M256.8 142.8h.01M282.1 28.3h.01M287.7 63.3h.01M312.1 103.2h.01M341.1 76.4h.01M289.1 58.6h.01M323.8 65.6h.01M319.0 133.6h.01M291.7 77.9h.01M289.0 52.3h.01M312.5 105.3h.01M324.5 59.9h.01M285.8 30.9h.01M336.8 44.6h.01M291.9 104.8h.01M259.3 111.6h.01M307.6 24.4h.01M260.6 59.7h.01M322.5 74.0h.01M288.6 70.7h.01M311.1 100.7h.01M271.5 107.6h.01M300.6 113.8h.01M301.9 80.2h.01M288.8 121.2h.01M322.3 30.3h.01M328.5 57.5h.01M337.4 113.9h.01M323.9 55.5h.01M323.4 131.9h.01M288.8 72.9h.01M338.9 116.5h.01M312.1 83.4h.01M285.0 121.3h.01M283.3 36.4h.01M310.2 106.4h.01M262.4 144.8h.01M296.4 82.3h.01M340.6 50.1h.01M340.6 104.3h.01M336.5 45.7h.01M336.6 115.1h.01M337.7 46.3h.01M344.1 102.1h.01M303.5 93.6h.01M289.5 76.0h.01M325.2 113.2h.01M305.9 93.7h.01M291.6 28.6h.01M341.1 72.5h.01M343.5 106.8h.01M299.8 65.6h.01M340.2 47.4h.01M291.5 60.4h.01M251.9 117.0h.01M280.9 63.6h.01M256.4 105.6h.01M324.5 132.3h.01M304.6 107.3h.01M323.1 107.8h.01M278.1 52.4h.01M281.9 49.3h.01M291.5 76.4h.01M292.4 97.6h.01M313.4 27.0h.01M292.4 89.3h.01M276.9 113.4h.01M317.0 66.1h.01M337.1 132.9h.01M297.8 121.1h.01M340.2 85.0h.01M327.0 132.6h.01M271.4 93.5h.01M318.6 106.5h.01M333.5 124.4h.01M346.3 44.0h.01M315.1 134.7h.01M340.1 92.6h.01M338.7 102.4h.01M312.3 90.9h.01M343.7 73.9h.01M326.8 113.6h.01M314.9 28.3h.01M305.4 117.2h.01M311.1 113.6h.01M255.7 115.9h.01M283.8 50.4h.01M329.1 35.8h.01M314.4 89.1h.01M315.7 67.9h.01M304.6 90.2h.01M278.5 61.9h.01M281.7 51.2h.01M339.4 114.4h.01M289.8 97.6h.01M313.4 90.4h.01M292.9 61.0h.01M286.9 100.6h.01M292.3 122.1h.01M304.7 136.8h.01M316.1 84.8h.01M347.2 26.4h.01M270.0 79.1h.01M261.7 106.6h.01M306.2 116.4h.01M339.8 70.1h.01M328.5 33.0h.01M255.9 115.4h.01M340.9 105.1h.01M335.4 40.2h.01M285.5 84.4h.01M298.2 137.7h.01M281.5 40.4h.01M340.9 81.3h.01M270.6 145.8h.01M289.6 55.1h.01M328.2 59.7h.01M310.8 115.1h.01M307.3 26.7h.01M322.7 132.6h.01M289.7 58.8h.01M296.9 27.7h.01M337.1 49.1h.01M318.9 83.3h.01M317.1 54.5h.01M336.7 38.7h.01M309.4 100.0h.01M310.4 137.5h.01M291.0 122.0h.01M320.2 26.1h.01M269.9 110.4h.01M324.5 27.6h.01M326.1 69.7h.01M338.9 59.5h.01M293.1 29.0h.01M293.7 61.9h.01M299.3 88.2h.01M295.1 120.2h.01M332.3 32.5h.01M322.1 59.3h.01M274.8 141.4h.01M311.9 136.8h.01M319.1 52.7h.01M299.0 97.0h.01M327.2 53.1h.01M321.5 55.0h.01M281.4 120.1h.01M316.6 67.4h.01M299.5 94.5h.01M317.8 79.5h.01M317.3 134.5h.01M265.1 109.8h.01M288.3 120.0h.01M312.9 91.8h.01M318.4 27.7h.01M267.8 106.5h.01M310.8 75.2h.01M296.1 119.7h.01M336.7 135.8h.01M309.6 115.0h.01M300.8 80.7h.01M279.7 45.6h.01M319.2 80.0h.01M282.6 69.0h.01M254.3 112.0h.01M324.2 29.0h.01M312.7 88.8h.01M314.4 64.5h.01M337.1 123.3h.01M283.5 73.3h.01M309.1 115.3h.01M290.1 52.5h.01M312.9 114.8h.01M316.7 110.6h.01M253.5 138.8h.01M300.0 81.0h.01M286.0 30.8h.01M307.4 95.6h.01M291.3 67.7h.01M341.3 71.6h.01M274.6 49.7h.01M290.9 59.1h.01M295.3 63.8h.01M266.0 107.5h.01M326.8 70.0h.01M326.1 55.5h.01M282.9 62.0h.01M276.4 114.9h.01M340.1 63.7h.01M273.9 143.3h.01M270.5 145.2h.01M283.3 85.9h.01M269.5 144.9h.01M288.2 56.9h.01M251.7 117.0h.01M338.9 48.1h.01M328.3 55.4h.01M321.3 109.5h.01M334.8 125.0h.01M298.7 67.8h.01M294.9 68.2h.01M329.5 31.8h.01M283.2 77.7h.01M250.7 128.4h.01M327.8 109.4h.01M280.6 58.4h.01M322.5 75.0h.01M289.9 57.1h.01M248.3 123.6h.01M256.0 114.9h.01M295.7 70.1h.01M248.2 138.9h.01M315.0 27.3h.01M251.8 136.5h.01M327.4 65.9h.01M329.9 56.3h.01M277.4 45.0h.01M279.4 98.8h.01M336.8 119.0h.01M296.0 26.8h.01M290.1 30.7h.01M319.5 75.8h.01M319.9 111.7h.01M296.0 82.4h.01M302.9 64.0h.01M273.5 45.5h.01M292.2 93.6h.01M292.8 61.3h.01M340.1 98.2h.01M305.6 25.2h.01M315.6 113.7h.01M317.2 112.0h.01M291.4 75.8h.01M294.2 122.7h.01M279.6 117.1h.01M321.1 73.1h.01M298.9 107.2h.01M338.2 130.1h.01M282.3 51.4h.01M266.4 146.2h.01M321.5 54.4h.01M338.2 48.3h.01M283.0 59.9h.01M322.2 107.6h.01M312.8 138.6h.01M317.3 137.2h.01M286.8 56.2h.01M308.3 94.9h.01M305.2 114.9h.01M264.6 70.5h.01M298.2 108.0h.01M280.1 48.3h.01M273.5 110.1h.01M326.8 130.9h.01M315.7 69.9h.01M329.8 131.8h.01M294.1 137.9h.01M315.1 137.3h.01M311.1 92.8h.01M320.7 64.5h.01M289.3 84.1h.01M288.5 53.3h.01M316.0 134.6h.01M283.7 65.0h.01M256.4 114.8h.01M347.0 99.9h.01M311.1 73.9h.01M312.4 64.1h.01M327.1 107.3h.01M283.5 72.5h.01M317.0 111.7h.01M315.0 64.8h.01M283.5 48.3h.01M300.1 109.4h.01M287.5 77.5h.01M334.5 124.0h.01M337.0 114.2h.01M292.3 89.1h.01M294.1 97.6h.01M274.1 77.8h.01M320.5 70.0h.01M312.6 114.4h.01M292.1 70.2h.01M325.0 69.3h.01M300.4 87.5h.01M279.2 38.7h.01M291.7 54.0h.01M280.7 119.3h.01M278.8 44.8h.01M302.2 69.2h.01M311.2 102.1h.01M289.9 95.6h.01M278.3 139.4h.01M281.8 53.4h.01M289.4 68.4h.01M306.4 137.2h.01M306.9 109.5h.01M346.2 35.8h.01M323.5 71.6h.01M296.3 70.4h.01M328.3 135.3h.01M327.7 107.1h.01M312.0 94.6h.01M289.6 58.3h.01M308.6 135.6h.01M303.1 84.5h.01M278.3 82.6h.01M333.5 124.6h.01M269.4 144.6h.01M309.2 100.7h.01M291.4 30.0h.01M250.5 128.6h.01M324.0 59.7h.01M321.2 28.0h.01M292.1 75.6h.01M333.9 132.3h.01M285.5 88.5h.01M297.8 107.0h.01M279.6 42.4h.01M284.6 119.3h.01M339.7 44.4h.01M285.5 34.4h.01M277.3 68.8h.01M297.4 102.2h.01M293.8 137.4h.01M339.6 82.0h.01M285.1 120.9h.01M342.8 99.1h.01M311.0 92.0h.01M319.7 134.3h.01M323.2 75.4h.01M339.2 109.9h.01M305.9 100.8h.01M301.3 114.5h.01M321.2 55.3h.01M287.9 100.9h.01M281.9 61.1h.01M292.5 84.0h.01M279.8 57.3h.01M256.3 142.2h.01M260.4 32.3h.01M296.6 83.6h.01M272.7 108.0h.01M333.6 37.7h.01M303.4 72.8h.01M305.5 137.5h.01M323.2 59.4h.01M333.4 39.0h.01M304.8 81.0h.01M338.9 63.3h.01M326.4 60.9h.01M282.7 53.8h.01M277.5 146.3h.01M255.2 117.1h.01M325.2 74.1h.01M320.5 112.7h.01M269.8 110.2h.01M310.0 23.0h.01M322.3 76.1h.01M334.5 34.6h.01M300.7 76.3h.01M334.0 127.9h.01M280.6 45.6h.01M298.8 27.2h.01M276.0 25.2h.01M291.8 138.0h.01M259.5 145.0h.01M329.8 28.2h.01M275.8 65.9h.01M315.7 66.1h.01M283.8 50.2h.01M338.1 45.5h.01M268.1 109.1h.01M296.5 120.6h.01M320.1 112.6h.01M270.1 68.9h.01M320.0 107.8h.01M289.0 91.1h.01M282.9 88.2h.01M298.5 119.9h.01M284.2 88.0h.01M321.8 56.1h.01M335.7 42.5h.01M350.8 108.0h.01M327.4 70.9h.01M308.4 137.2h.01M276.8 35.3h.01M332.1 37.9h.01M274.4 53.1h.01M308.2 86.8h.01M303.7 108.7h.01M299.0 102.7h.01M326.1 52.9h.01M312.0 92.9h.01M300.7 115.4h.01M313.4 55.6h.01M325.8 131.4h.01M315.9 65.6h.01M322.5 65.8h.01M285.1 34.2h.01M322.2 53.2h.01M315.9 72.1h.01M328.5 66.6h.01M295.1 82.6h.01M288.1 52.0h.01M333.7 119.5h.01M317.8 56.6h.01M301.1 26.2h.01M273.1 69.4h.01M323.3 66.1h.01M252.2 134.6h.01M288.9 51.4h.01M316.1 106.9h.01M324.7 112.8h.01M310.0 92.5h.01M294.9 104.3h.01M286.2 118.2h.01M336.6 43.5h.01M281.2 80.6h.01M339.3 76.4h.01M340.1 94.8h.01M314.0 27.8h.01M278.7 116.6h.01M265.7 53.7h.01M293.4 63.6h.01M310.3 139.1h.01M310.9 86.8h.01M296.4 138.1h.01M311.8 26.8h.01M254.9 144.2h.01M282.9 33.4h.01M314.5 134.7h.01M281.9 46.3h.01M301.7 94.5h.01M281.7 118.9h.01M328.1 113.2h.01M332.4 37.3h.01M309.6 93.7h.01M290.3 93.7h.01M337.2 43.8h.01M325.6 29.7h.01M307.6 90.2h.01M323.8 68.0h.01M273.1 111.2h.01M267.2 53.2h.01M323.2 111.8h.01M293.8 137.5h.01M319.0 107.0h.01M252.7 121.2h.01M324.3 59.4h.01M338.8 66.3h.01M323.0 51.7h.01M327.0 72.0h.01M294.4 25.4h.01M259.7 109.7h.01M285.2 94.5h.01M296.9 119.3h.01M310.8 103.0h.01M297.8 101.5h.01M343.2 76.8h.01M288.4 31.2h.01M274.6 92.8h.01M282.3 64.8h.01M281.6 139.4h.01M296.9 65.0h.01M287.1 100.5h.01M318.8 108.7h.01M333.0 35.6h.01M282.0 122.2h.01M328.9 55.2h.01M333.6 126.4h.01M297.1 25.5h.01M338.8 67.0h.01M334.9 129.8h.01M309.7 135.9h.01M289.7 142.2h.01M318.9 76.1h.01M281.0 61.6h.01M314.4 77.1h.01M297.5 94.7h.01M325.3 25.7h.01M305.1 83.1h.01M298.2 97.3h.01M323.2 113.1h.01M282.5 115.6h.01M290.6 30.7h.01M307.1 89.5h.01M324.9 70.9h.01M297.1 27.4h.01M325.8 132.5h.01M336.3 45.2h.01M287.9 90.4h.01M268.0 82.4h.01M338.6 105.5h.01M270.7 60.2h.01M335.7 117.2h.01M318.6 112.5h.01M323.5 29.0h.01M298.8 86.4h.01M302.4 97.8h.01M301.8 103.2h.01M320.2 110.1h.01M293.1 90.6h.01M309.3 62.6h.01M315.3 135.0h.01M293.9 93.7h.01M297.5 73.2h.01M322.1 66.9h.01M313.5 90.8h.01M276.4 86.7h.01M250.3 123.4h.01M298.0 109.3h.01M324.6 59.2h.01M333.1 125.5h.01M293.4 62.1h.01M336.5 126.7h.01M274.7 76.6h.01M289.2 139.9h.01M273.7 109.5h.01M339.0 100.5h.01M281.1 42.8h.01M312.9 91.8h.01M303.6 91.9h.01M299.3 92.8h.01M251.8 122.8h.01M317.6 81.5h.01M296.1 121.9h.01M250.4 132.9h.01M318.1 81.0h.01M318.1 134.6h.01M287.3 71.7h.01M324.3 65.9h.01M307.2 95.0h.01M326.5 66.1h.01M338.7 55.4h.01M292.4 65.8h.01M338.1 103.8h.01M289.2 121.2h.01M314.4 113.7h.01M337.7 105.0h.01M309.5 115.3h.01M321.7 76.3h.01M328.2 55.0h.01M319.4 134.7h.01M297.0 138.6h.01M284.5 140.3h.01M289.2 107.0h.01M280.5 43.0h.01M315.2 135.8h.01M322.3 68.8h.01M301.4 72.3h.01M342.5 46.3h.01M303.1 109.9h.01M326.0 53.2h.01M277.8 117.2h.01M283.5 36.3h.01M314.0 53.6h.01M276.7 142.3h.01M278.2 58.2h.01M291.0 60.1h.01M294.2 26.9h.01M308.1 94.9h.01M338.9 118.1h.01M290.2 30.4h.01M325.1 136.7h.01M338.8 59.1h.01M283.1 62.6h.01M300.9 65.1h.01M325.4 54.7h.01M340.0 69.3h.01M315.3 27.7h.01M340.0 55.7h.01M311.0 91.6h.01M256.2 115.5h.01M264.3 25.8h.01M322.1 133.8h.01M341.3 63.4h.01M336.9 46.2h.01M327.2 71.3h.01M341.1 102.8h.01M250.8 135.9h.01M319.7 135.2h.01M308.6 112.1h.01M252.6 135.7h.01M302.8 93.7h.01M337.6 51.2h.01M304.2 74.4h.01M316.1 85.1h.01M338.8 122.9h.01M309.9 91.1h.01M296.5 94.3h.01M328.4 68.3h.01M280.3 90.0h.01M280.9 112.1h.01M310.7 25.9h.01M327.5 53.6h.01M304.5 117.7h.01M302.6 116.3h.01M321.6 74.5h.01M278.9 46.1h.01M317.6 65.1h.01M287.6 119.5h.01M321.0 110.3h.01M291.3 103.0h.01M333.8 120.8h.01M289.6 57.4h.01M321.8 111.7h.01M337.0 118.7h.01M284.8 49.8h.01M325.1 108.0h.01M284.3 34.7h.01M292.6 24.5h.01M323.5 51.9h.01M282.2 51.1h.01M286.7 121.2h.01M284.5 117.0h.01M315.2 56.5h.01M271.6 51.6h.01M276.4 141.6h.01M274.9 78.4h.01M340.7 104.9h.01M308.0 96.5h.01M307.4 25.0h.01M285.5 59.8h.01M338.9 107.2h.01M288.1 71.2h.01M285.0 68.1h.01M304.3 22.6h.01M319.1 112.1h.01M316.2 112.7h.01M337.5 124.7h.01M252.6 44.0h.01M326.8 65.7h.01M320.4 58.5h.01M341.8 79.7h.01M275.7 41.3h.01M295.6 93.9h.01M340.4 130.8h.01M286.2 113.6h.01M274.6 64.0h.01M265.5 53.9h.01M251.8 145.3h.01M292.3 88.5h.01M274.3 81.8h.01M257.2 113.7h.01M289.2 114.7h.01M309.9 98.6h.01M279.8 46.5h.01M276.9 58.1h.01M319.9 106.9h.01M325.3 105.9h.01M324.0 74.5h.01M293.0 122.5h.01M288.0 60.2h.01M280.4 42.2h.01M269.2 104.4h.01M295.7 141.6h.01M290.2 104.3h.01M281.3 121.1h.01M266.7 78.8h.01M300.6 139.4h.01M336.2 43.0h.01M323.3 70.2h.01M310.2 101.5h.01M293.7 27.9h.01M339.4 113.8h.01M335.2 124.0h.01M299.2 119.5h.01M332.4 139.7h.01M325.1 69.7h.01M307.3 136.3h.01M325.5 73.5h.01M303.8 113.4h.01M343.0 45.2h.01M301.7 115.2h.01M303.6 67.3h.01M281.6 66.1h.01M284.9 57.9h.01M291.8 54.3h.01M334.1 133.8h.01M286.7 63.1h.01M257.8 106.1h.01M341.8 37.5h.01M299.0 138.0h.01M286.5 81.2h.01M316.0 51.9h.01M290.4 63.2h.01M262.6 45.9h.01M286.2 55.6h.01M280.8 41.4h.01M322.6 76.8h.01M282.7 61.2h.01M317.8 67.6h.01M281.9 42.9h.01M291.9 56.3h.01M302.6 77.9h.01M281.2 40.0h.01M339.7 103.7h.01M289.1 100.3h.01M321.5 53.0h.01M344.9 108.3h.01M340.3 108.2h.01M318.3 82.1h.01M327.6 131.9h.01M292.1 97.9h.01M312.8 53.7h.01M281.4 46.8h.01M294.8 120.1h.01M314.3 104.2h.01M342.3 107.1h.01M317.1 65.6h.01M339.8 102.3h.01M323.9 58.6h.01M339.3 59.0h.01M291.6 138.2h.01M298.3 77.8h.01M265.5 145.2h.01M265.4 30.6h.01M303.4 23.9h.01M291.2 64.7h.01M299.6 63.7h.01M343.0 87.5h.01M280.4 120.1h.01M297.7 101.8h.01M298.3 108.9h.01M278.4 79.1h.01M325.7 110.2h.01M312.9 86.7h.01M251.8 123.9h.01M287.5 56.7h.01M284.8 142.4h.01M285.7 65.4h.01M282.1 43.0h.01M339.8 66.1h.01M286.1 31.1h.01M296.4 62.5h.01M295.0 138.0h.01M292.1 54.8h.01M290.4 121.6h.01M333.0 38.9h.01M285.5 105.7h.01M291.7 55.5h.01M337.6 50.6h.01M311.2 63.6h.01M345.2 87.5h.01M291.1 110.5h.01M282.1 38.8h.01M273.5 143.7h.01M322.3 26.5h.01M297.8 64.0h.01M311.1 100.7h.01M306.4 23.7h.01M279.9 66.1h.01M320.4 108.0h.01M302.4 89.6h.01M267.7 110.1h.01M320.5 135.3h.01M307.6 101.0h.01M326.8 28.2h.01M312.2 106.8h.01M324.4 55.7h.01M301.8 26.3h.01M286.9 113.7h.01M285.7 62.0h.01M322.9 59.8h.01M304.7 116.7h.01M325.7 65.6h.01M326.1 60.1h.01M324.1 54.1h.01M292.2 117.7h.01M322.7 66.7h.01M332.6 36.5h.01M307.1 116.6h.01M315.7 104.5h.01M326.0 112.2h.01M341.3 64.0h.01M319.0 53.2h.01M256.8 111.8h.01M323.1 135.0h.01M328.0 67.6h.01M295.1 68.2h.01M287.7 80.5h.01M279.3 119.9h.01M286.2 58.3h.01M327.6 66.8h.01M339.3 80.8h.01M279.1 48.7h.01M283.1 104.0h.01M326.1 73.1h.01M319.6 110.3h.01M341.3 79.1h.01M299.4 95.4h.01M264.7 60.9h.01M285.7 92.9h.01M308.5 24.9h.01M280.9 57.0h.01M319.4 64.8h.01M340.0 101.0h.01M271.9 110.8h.01M327.1 131.3h.01M280.0 41.8h.01M338.1 108.8h.01M313.8 27.5h.01M261.8 62.2h.01M299.4 119.3h.01M314.0 114.1h.01M286.6 67.2h.01M287.8 30.8h.01M286.9 81.6h.01M304.2 75.2h.01M298.0 27.5h.01M319.2 109.3h.01M276.0 50.9h.01M322.6 74.5h.01M326.7 111.1h.01M291.7 59.2h.01M307.3 102.5h.01M346.6 50.4h.01M323.2 108.4h.01M277.8 77.0h.01M326.9 33.2h.01M315.1 110.6h.01M288.7 57.8h.01M325.6 113.9h.01M336.5 37.8h.01M277.4 43.5h.01M307.3 81.1h.01M321.9 134.4h.01M342.5 71.0h.01M314.4 89.3h.01M285.0 34.6h.01M252.4 131.2h.01M277.9 140.4h.01M295.7 25.1h.01M314.2 26.8h.01M334.1 35.9h.01M325.4 72.8h.01M316.6 104.7h.01M328.3 132.0h.01M281.0 67.7h.01M284.3 97.7h.01M270.8 66.2h.01M323.0 56.9h.01M281.1 62.2h.01M317.0 105.3h.01M347.5 112.3h.01M268.3 109.4h.01M312.0 85.9h.01M311.2 93.1h.01M328.9 35.0h.01M294.8 65.2h.01M269.8 59.3h.01M321.6 66.3h.01M329.9 32.3h.01M303.7 139.6h.01M324.6 53.9h.01M338.9 42.0h.01M297.6 120.0h.01M339.6 107.9h.01M250.3 123.7h.01M278.8 108.1h.01M316.9 67.0h.01M289.2 76.6h.01M312.4 87.1h.01M288.6 99.1h.01M320.4 29.7h.01M318.6 73.2h.01M300.0 63.6h.01M265.0 109.2h.01M310.8 90.7h.01M340.5 54.9h.01M337.3 104.9h.01M319.2 27.1h.01M340.6 114.4h.01M340.0 69.0h.01M321.3 133.7h.01M275.4 48.3h.01M269.1 63.4h.01M338.3 51.5h.01M284.6 93.8h.01M339.4 103.1h.01M303.5 97.6h.01M298.9 21.9h.01M292.0 100.6h.01M338.5 49.8h.01M335.1 122.8h.01M335.2 118.0h.01M308.0 111.1h.01M323.0 112.3h.01M340.2 65.4h.01M336.0 120.1h.01M277.7 113.5h.01M312.1 65.8h.01M274.9 144.3h.01M338.8 63.9h.01M318.7 27.9h.01M339.6 92.3h.01M279.4 66.9h.01M281.7 114.2h.01M256.4 113.9h.01M307.4 62.5h.01M320.6 72.3h.01M293.5 67.4h.01M263.3 145.1h.01M294.1 70.7h.01M291.6 68.4h.01M313.1 107.3h.01M305.7 136.4h.01M270.5 110.4h.01M314.3 136.5h.01M300.9 71.5h.01M335.5 32.4h.01M308.5 26.8h.01M276.0 85.8h.01M290.4 139.1h.01M318.4 66.0h.01M337.7 44.8h.01M278.6 65.0h.01M310.1 96.2h.01M320.2 58.2h.01M257.6 89.3h.01M296.3 121.4h.01M294.7 112.8h.01M294.7 122.3h.01M283.5 76.4h.01M330.1 56.0h.01M339.0 61.8h.01M290.4 119.9h.01M295.4 86.4h.01M285.7 81.0h.01M333.3 37.9h.01M264.8 145.7h.01M307.0 63.3h.01M298.9 105.1h.01M298.7 137.3h.01M284.9 34.6h.01M320.6 65.5h.01M250.5 117.3h.01M326.6 69.3h.01M295.0 106.8h.01M304.8 100.9h.01M329.4 34.0h.01M288.8 52.5h.01M324.9 135.7h.01M343.3 109.1h.01M279.6 120.3h.01M293.0 55.6h.01M286.2 33.9h.01M307.0 24.8h.01M280.3 55.4h.01M326.4 110.0h.01M297.6 70.7h.01M266.9 46.3h.01M322.1 57.0h.01M324.2 67.3h.01M321.0 51.1h.01M330.5 33.6h.01M287.0 57.1h.01M335.7 127.1h.01M309.8 94.5h.01M329.6 131.8h.01M323.1 29.7h.01M251.6 138.4h.01M296.2 107.5h.01M322.4 74.5h.01M334.1 125.4h.01M279.3 112.1h.01M265.2 45.6h.01M338.8 103.1h.01M323.5 65.1h.01M340.1 94.1h.01M283.9 118.7h.01M319.8 77.9h.01M326.4 32.2h.01M279.7 101.4h.01M310.7 114.1h.01M340.5 94.4h.01M287.5 51.2h.01M318.8 75.8h.01M311.4 54.2h.01M260.3 144.1h.01M298.0 83.0h.01M299.6 115.1h.01M289.1 55.6h.01M282.5 54.0h.01M310.3 95.2h.01M340.1 84.2h.01M340.0 57.0h.01M324.8 72.4h.01M275.9 35.3h.01M255.5 113.8h.01M334.8 30.9h.01M325.5 57.8h.01M286.8 111.3h.01M264.8 48.7h.01M297.5 86.2h.01M284.1 96.0h.01M316.5 109.2h.01M324.9 31.1h.01M341.5 92.9h.01M285.9 31.9h.01M275.5 53.2h.01M324.1 76.4h.01M283.9 57.8h.01M285.2 53.2h.01M324.2 106.9h.01M285.7 92.3h.01M253.8 118.7h.01M280.4 36.5h.01M335.6 117.1h.01M306.9 98.7h.01M306.2 113.8h.01M331.8 24.9h.01M300.0 102.7h.01M319.3 80.0h.01M311.2 100.6h.01M312.4 102.0h.01M342.7 70.5h.01M279.1 118.9h.01M294.8 93.9h.01M295.6 109.1h.01M339.5 60.4h.01M288.5 139.3h.01M253.8 115.5h.01M301.6 101.8h.01M318.7 66.5h.01M260.2 110.2h.01M275.0 80.1h.01M281.0 33.2h.01M333.3 124.3h.01M338.9 66.5h.01M287.3 54.1h.01M268.2 56.7h.01M320.2 64.7h.01M272.9 112.0h.01M249.3 134.7h.01M322.5 74.4h.01M302.8 118.8h.01M341.3 109.1h.01M328.1 57.5h.01M308.8 103.6h.01M309.8 26.1h.01M337.5 108.4h.01M279.9 106.7h.01M290.4 30.7h.01M318.7 77.6h.01M319.1 65.4h.01M284.6 120.5h.01M309.3 115.4h.01M278.2 57.5h.01M309.7 97.4h.01M248.8 126.5h.01M326.3 59.5h.01M298.0 22.7h.01M283.0 48.7h.01M283.7 120.4h.01M314.4 52.0h.01M258.5 113.1h.01M305.0 72.6h.01M319.0 109.0h.01M288.9 65.4h.01M301.8 68.4h.01M317.6 64.5h.01M311.6 105.9h.01M318.7 67.2h.01M286.1 33.9h.01M322.1 68.8h.01M301.4 115.7h.01M332.2 35.4h.01M288.9 118.8h.01M270.0 145.3h.01M277.9 95.1h.01M277.6 117.2h.01M316.8 112.6h.01M289.6 54.7h.01M312.2 134.9h.01M328.2 112.1h.01M301.9 64.1h.01M292.4 73.2h.01M309.3 111.1h.01M339.4 107.2h.01M280.0 71.5h.01M297.8 85.2h.01M325.1 73.6h.01M281.2 119.2h.01M286.4 105.5h.01M338.6 47.6h.01M252.9 109.6h.01M334.7 137.7h.01M257.6 143.7h.01M319.2 110.3h.01M278.9 99.5h.01M339.6 93.8h.01M297.2 102.9h.01M284.7 103.1h.01M283.9 120.9h.01M267.6 109.2h.01M317.9 135.9h.01M294.6 79.6h.01M302.4 89.3h.01M332.5 37.0h.01M278.7 60.0h.01M291.3 63.6h.01M263.4 147.3h.01M284.6 75.1h.01M340.7 82.4h.01M341.3 93.0h.01M295.6 101.6h.01M283.6 100.4h.01M281.9 46.0h.01M298.0 100.8h.01M299.2 116.1h.01M285.1 140.8h.01M292.3 27.6h.01M329.3 57.2h.01M319.1 56.2h.01M281.9 122.2h.01M342.4 65.1h.01M305.7 105.3h.01M325.9 73.7h.01M285.1 117.2h.01M265.1 108.9h.01M340.5 83.8h.01M282.3 37.3h.01M322.7 113.0h.01M326.4 59.1h.01M317.8 57.5h.01M265.2 108.7h.01M310.2 94.4h.01M294.9 84.5h.01M304.6 99.2h.01M291.9 100.0h.01M289.5 86.8h.01M319.8 135.5h.01M341.3 110.7h.01M314.4 84.2h.01M302.3 86.5h.01M333.0 36.7h.01M303.4 118.6h.01M281.3 44.0h.01M333.4 28.7h.01M337.2 114.7h.01M295.8 85.2h.01M326.3 30.0h.01M321.2 70.2h.01M333.0 127.7h.01M317.9 54.9h.01M288.2 62.8h.01M324.4 76.3h.01M282.9 46.6h.01M252.7 123.2h.01M323.0 107.5h.01M313.9 109.6h.01M324.1 134.1h.01M295.9 114.3h.01M339.9 86.3h.01M345.3 67.8h.01M311.4 115.2h.01M302.6 101.8h.01M298.0 114.2h.01M321.2 27.1h.01M270.5 50.5h.01M281.2 40.3h.01M313.9 84.2h.01M292.3 137.8h.01M324.3 74.3h.01M342.7 106.5h.01M318.7 111.0h.01M344.0 80.0h.01M259.2 112.0h.01M250.1 130.4h.01M272.1 71.6h.01M320.5 28.4h.01M272.7 43.9h.01M302.4 96.5h.01M320.0 71.3h.01M282.3 35.5h.01M287.4 139.6h.01M253.7 116.0h.01M272.0 33.7h.01M272.9 66.9h.01M275.4 88.9h.01M258.5 142.6h.01M290.0 29.2h.01M289.1 58.5h.01M287.4 90.0h.01M325.0 68.3h.01M264.7 56.8h.01M253.5 118.3h.01M285.5 53.8h.01M285.2 35.8h.01M327.4 113.3h.01M336.9 39.3h.01M306.1 93.7h.01M284.0 91.7h.01M324.9 54.5h.01M324.9 135.1h.01M290.2 58.6h.01M326.2 71.5h.01M285.1 50.2h.01M310.2 26.4h.01M338.9 66.1h.01M328.7 56.9h.01M323.9 51.5h.01M285.3 59.3h.01M274.0 109.9h.01M271.3 25.5h.01M273.9 103.6h.01M285.6 31.4h.01M290.4 116.8h.01M315.4 88.2h.01M294.5 138.0h.01M317.1 27.3h.01M335.9 37.6h.01M265.3 109.3h.01M331.2 36.2h.01M312.0 64.7h.01M322.6 58.0h.01M308.6 115.2h.01M289.5 102.5h.01M325.1 74.7h.01M296.5 102.9h.01M324.6 25.4h.01M338.9 98.5h.01M289.5 70.1h.01M326.6 54.9h.01M321.2 107.5h.01M323.1 72.8h.01M336.6 47.0h.01M325.0 67.1h.01M282.6 122.2h.01M323.3 51.2h.01M288.6 52.3h.01M326.4 132.8h.01M296.5 138.1h.01M282.3 120.1h.01M258.4 142.8h.01M308.0 92.0h.01M321.9 133.3h.01M278.6 44.4h.01M277.1 58.2h.01M338.3 118.7h.01M339.4 61.1h.01M262.4 144.7h.01M297.4 136.6h.01M281.0 139.0h.01M263.2 145.6h.01M292.5 71.9h.01M270.2 110.4h.01M286.6 101.4h.01M300.0 87.1h.01M312.3 109.3h.01M340.1 64.8h.01M338.3 55.8h.01M277.8 40.3h.01M309.5 103.8h.01M319.5 57.1h.01M249.0 125.8h.01M310.8 112.0h.01M337.7 117.4h.01M324.5 72.5h.01M296.1 24.9h.01M252.6 132.1h.01M289.3 69.9h.01M252.5 51.1h.01M252.4 117.9h.01M333.5 120.7h.01M332.2 27.3h.01M321.1 76.5h.01M337.5 44.2h.01M295.6 121.2h.01M337.7 48.4h.01M304.1 112.0h.01M321.9 70.6h.01M319.7 64.9h.01M323.1 111.6h.01M288.5 77.3h.01M321.3 28.1h.01M303.8 138.9h.01M278.6 58.3h.01M308.2 78.5h.01M284.1 71.8h.01M312.6 114.4h.01M325.5 69.7h.01M295.2 69.6h.01M333.5 126.3h.01M294.7 98.1h.01M325.0 108.7h.01M268.5 110.5h.01M325.7 111.6h.01M326.8 56.2h.01M342.3 94.1h.01M322.5 59.3h.01M297.9 121.8h.01M257.2 144.3h.01M333.2 119.5h.01M302.8 98.3h.01M345.7 96.7h.01M274.6 48.9h.01M307.4 100.3h.01M285.2 52.6h.01M338.0 50.8h.01M302.5 85.6h.01M306.7 83.7h.01M282.4 33.2h.01M337.3 46.9h.01M324.9 131.1h.01M322.1 64.5h.01M253.6 116.9h.01M327.5 107.7h.01M334.4 39.0h.01M313.0 135.3h.01M308.9 105.5h.01M324.2 58.3h.01M290.4 72.1h.01M322.8 68.7h.01M314.5 134.5h.01M274.0 79.2h.01M316.3 81.7h.01M262.4 65.4h.01M288.9 29.9h.01M334.4 122.6h.01M321.6 69.5h.01M261.3 50.4h.01M321.4 112.8h.01M282.3 74.4h.01M292.8 84.5h.01M298.1 64.0h.01M343.7 106.3h.01M295.4 96.4h.01M338.8 55.1h.01M321.0 136.1h.01M313.7 54.9h.01M287.0 95.2h.01M253.4 139.9h.01M341.5 89.1h.01M282.0 94.0h.01M293.6 75.9h.01M294.2 120.7h.01M288.7 117.8h.01M303.8 78.7h.01M280.6 108.8h.01M252.1 122.9h.01M335.9 42.5h.01M327.1 109.0h.01M338.0 112.4h.01M308.1 111.4h.01M336.8 123.1h.01M281.4 67.7h.01M287.5 98.7h.01M298.4 85.0h.01M282.1 65.1h.01M289.1 86.5h.01M282.6 29.2h.01M340.2 57.8h.01M326.6 111.2h.01M283.8 36.6h.01M285.9 30.7h.01M293.6 72.1h.01M315.6 110.8h.01M340.1 61.5h.01M300.2 117.3h.01M340.2 69.0h.01M299.4 65.2h.01M259.3 112.3h.01M315.8 56.7h.01M290.1 86.8h.01M329.6 55.5h.01M300.5 67.6h.01M342.7 73.2h.01M292.4 93.0h.01M268.3 82.4h.01M285.4 32.4h.01M318.7 55.8h.01M299.3 107.6h.01M297.0 64.4h.01M271.9 144.3h.01M282.9 48.9h.01M279.8 39.7h.01M274.4 72.1h.01M298.8 138.0h.01M265.5 147.2h.01M324.6 51.5h.01M277.1 116.8h.01M261.1 69.9h.01M334.0 119.2h.01M313.7 53.0h.01M331.2 36.0h.01M334.4 128.3h.01M309.5 112.3h.01M269.2 63.8h.01M338.6 48.8h.01M270.7 107.6h.01M338.9 132.5h.01M303.7 26.8h.01M323.3 107.7h.01M349.1 127.5h.01M333.1 120.0h.01M277.9 38.2h.01M326.6 65.8h.01M251.7 132.4h.01M337.8 47.3h.01M266.3 146.6h.01M306.0 115.9h.01M340.5 47.3h.01M280.4 75.3h.01M293.7 137.5h.01M286.9 93.5h.01M251.4 142.5h.01M311.3 92.8h.01M341.5 46.1h.01M321.1 53.7h.01M312.5 114.8h.01M324.4 52.7h.01M326.1 57.7h.01M321.8 29.9h.01M334.5 120.8h.01M340.0 117.4h.01M324.4 113.8h.01M280.2 35.7h.01M292.7 62.1h.01M289.3 76.0h.01M304.1 80.1h.01M263.2 110.8h.01M281.9 58.7h.01M340.2 96.5h.01M276.1 113.4h.01M263.3 110.2h.01M321.9 77.8h.01M253.5 136.2h.01M301.3 27.3h.01M268.5 109.6h.01M336.1 128.8h.01M281.7 41.8h.01M335.8 126.2h.01M298.5 120.8h.01M283.2 57.9h.01M340.0 66.5h.01M280.8 80.6h.01M289.2 118.9h.01M324.6 74.9h.01M269.4 144.4h.01M295.9 94.9h.01M344.2 124.1h.01M296.9 102.8h.01M283.4 49.1h.01M312.1 101.8h.01M313.9 76.9h.01M280.0 43.8h.01M329.8 131.4h.01M321.2 134.8h.01M300.2 136.8h.01M282.4 113.8h.01M263.7 109.7h.01M299.0 93.6h.01M282.1 77.8h.01M252.9 139.4h.01M338.3 138.0h.01M285.9 50.2h.01M311.6 63.5h.01M280.8 122.2h.01M306.4 63.2h.01M295.7 72.7h.01M295.0 99.2h.01M323.7 66.8h.01M266.3 110.1h.01M287.1 88.3h.01M340.0 106.7h.01M304.6 98.5h.01M289.2 55.9h.01M291.1 76.2h.01M304.1 137.0h.01M310.1 105.2h.01M306.0 64.2h.01M291.4 56.2h.01M283.1 49.1h.01M342.3 76.0h.01M325.3 136.6h.01M280.9 37.8h.01M290.7 53.1h.01M290.2 95.3h.01M310.4 112.3h.01M317.1 85.5h.01M289.8 89.3h.01M318.6 64.8h.01M309.1 137.5h.01M340.2 66.1h.01M267.0 58.5h.01M323.3 75.0h.01M350.5 33.6h.01M287.4 51.0h.01M303.4 100.8h.01M300.1 63.5h.01M256.1 140.8h.01M277.8 49.4h.01M314.5 140.1h.01M253.1 114.2h.01M273.9 57.8h.01M278.1 140.1h.01M314.0 103.1h.01M340.4 57.5h.01M338.3 53.2h.01M278.6 63.4h.01M341.5 52.0h.01M325.4 29.1h.01M330.9 136.4h.01M321.9 112.9h.01M329.0 28.6h.01M323.6 57.2h.01M324.8 111.3h.01M302.5 21.1h.01M260.6 144.2h.01M252.6 123.0h.01M316.7 87.2h.01M309.9 91.4h.01M282.3 83.5h.01M312.8 87.6h.01M308.1 144.2h.01M338.6 126.8h.01M279.0 79.8h.01M303.7 105.9h.01M305.6 99.8h.01M254.2 118.1h.01M288.1 76.9h.01M303.9 25.6h.01M312.0 114.2h.01M320.5 109.9h.01M304.6 108.3h.01M335.7 32.8h.01M333.5 125.5h.01M339.7 69.5h.01M345.3 100.7h.01M297.8 117.8h.01M322.9 107.9h.01M323.2 77.5h.01M334.1 125.6h.01M340.3 101.9h.01M285.4 91.0h.01M273.2 41.3h.01M312.1 53.9h.01M316.5 86.8h.01M332.1 35.2h.01M302.6 83.5h.01M282.1 41.4h.01M280.7 119.7h.01M310.0 115.0h.01M297.5 103.5h.01M250.5 122.1h.01M271.3 54.4h.01M339.7 77.7h.01M334.3 33.7h.01M281.1 96.4h.01M339.2 49.5h.01M274.1 33.9h.01M253.0 122.1h.01M258.5 113.8h.01M309.4 92.8h.01M307.3 77.9h.01M290.6 85.1h.01M268.0 146.4h.01M328.5 69.6h.01M282.5 120.9h.01M328.1 66.3h.01M319.1 110.2h.01M297.0 64.9h.01M253.5 137.6h.01M335.8 116.5h.01M282.3 79.9h.01M293.2 101.1h.01M284.0 71.7h.01M279.3 46.1h.01M338.4 54.3h.01M299.2 99.0h.01M299.2 72.8h.01M271.3 107.9h.01M257.3 147.5h.01M288.1 95.8h.01M293.8 61.2h.01M291.6 53.9h.01M297.3 23.5h.01M295.4 25.5h.01M328.5 134.3h.01M263.2 108.8h.01M273.5 48.9h.01M317.2 28.4h.01M281.4 120.8h.01M338.3 124.6h.01M322.4 69.7h.01M291.8 121.7h.01M288.5 120.1h.01M338.8 115.4h.01M340.8 81.8h.01M318.8 65.1h.01M344.4 87.4h.01M311.7 109.7h.01M283.8 30.9h.01M265.4 109.9h.01M269.2 43.2h.01M335.8 120.2h.01M281.1 38.0h.01M301.1 87.3h.01M311.7 64.2h.01M252.3 140.7h.01M336.4 129.5h.01M339.0 109.0h.01M305.0 138.1h.01M257.5 142.0h.01M324.3 60.3h.01M301.1 117.1h.01M295.3 86.8h.01M326.1 132.6h.01M338.0 136.0h.01M321.0 64.4h.01M339.6 110.0h.01M322.7 141.0h.01M312.9 54.1h.01M315.8 83.2h.01M290.0 95.1h.01M285.9 118.9h.01M312.4 111.5h.01M327.5 110.2h.01M302.7 78.4h.01M271.8 110.8h.01M295.5 71.7h.01M252.3 122.3h.01M307.0 105.4h.01M279.7 120.0h.01M298.1 75.6h.01M285.0 55.1h.01M292.3 137.5h.01M327.9 57.3h.01M295.7 90.8h.01M306.3 106.9h.01M339.0 106.0h.01M295.4 81.9h.01M289.4 31.3h.01M316.4 67.2h.01M284.9 78.3h.01M320.9 67.1h.01M272.7 66.8h.01M255.8 143.4h.01M312.5 64.3h.01M324.7 71.3h.01M289.1 56.2h.01M301.7 105.2h.01M314.6 114.3h.01M290.2 53.3h.01M251.5 118.6h.01M330.1 35.4h.01M250.6 127.3h.01M340.1 60.3h.01M294.8 122.1h.01M327.9 110.9h.01M276.7 47.9h.01M335.3 37.4h.01M291.7 121.2h.01M274.5 70.9h.01M285.2 53.9h.01M298.5 115.0h.01M316.5 77.9h.01M326.6 108.0h.01M284.7 79.8h.01M287.7 74.6h.01M290.4 82.3h.01M289.7 102.0h.01M320.5 28.3h.01M289.1 115.2h.01M305.1 102.4h.01M285.0 120.0h.01M329.4 132.8h.01M305.5 73.1h.01M340.5 94.1h.01M251.7 126.0h.01M336.4 45.7h.01M337.2 41.3h.01M336.8 47.4h.01M321.4 73.3h.01M297.3 121.8h.01M296.9 92.8h.01M299.8 111.5h.01M266.4 55.2h.01M297.9 68.9h.01M275.3 51.6h.01M281.5 42.2h.01M347.8 127.0h.01M255.4 115.5h.01M290.9 58.9h.01M336.4 114.6h.01M318.8 28.4h.01M327.8 67.4h.01M273.5 62.8h.01M314.9 111.4h.01M339.3 92.2h.01M298.2 137.7h.01M293.8 82.6h.01M327.4 66.9h.01M321.6 73.5h.01M338.6 117.0h.01M290.4 104.1h.01M292.9 29.0h.01M305.8 87.5h.01M282.7 85.1h.01M281.8 41.0h.01M333.3 132.5h.01M277.1 68.7h.01M340.1 107.4h.01M327.1 132.6h.01M283.8 18.3h.01M311.5 140.0h.01M315.2 65.1h.01M289.6 120.1h.01M320.0 111.5h.01M333.1 132.1h.01M252.6 133.3h.01M310.2 137.3h.01M281.1 60.1h.01M284.0 60.6h.01M313.7 113.3h.01M314.6 87.7h.01M284.7 32.6h.01M335.9 115.5h.01M289.9 81.8h.01M286.6 51.8h.01M322.9 68.6h.01M273.2 38.8h.01M279.3 50.8h.01M274.1 109.8h.01M250.8 136.3h.01M258.3 61.8h.01M289.3 85.0h.01M323.1 73.4h.01M327.7 71.2h.01M286.5 65.7h.01M321.1 135.0h.01M318.7 78.1h.01M304.7 65.3h.01M320.2 110.4h.01M307.3 95.8h.01M288.0 57.6h.01M275.5 54.4h.01M321.1 74.2h.01M333.5 119.3h.01M324.3 113.7h.01M285.5 34.8h.01M343.9 99.1h.01M277.0 58.6h.01M267.6 53.0h.01M313.1 80.9h.01M288.2 81.0h.01M317.3 54.9h.01M289.8 70.8h.01M279.9 45.2h.01M309.2 92.5h.01M332.4 37.8h.01M288.4 75.7h.01M326.4 71.7h.01M301.6 98.1h.01M310.2 83.6h.01M291.7 60.0h.01M304.2 97.5h.01M251.9 128.9h.01M318.2 66.7h.01M260.1 112.7h.01M310.2 26.0h.01M271.7 90.5h.01M253.3 116.5h.01M339.5 47.0h.01M291.6 71.2h.01M299.9 108.7h.01M291.5 112.2h.01M301.7 26.9h.01M331.5 133.3h.01M330.4 35.9h.01M334.2 125.8h.01M322.6 58.6h.01M322.9 58.0h.01M286.1 32.8h.01M285.6 83.4h.01M301.6 102.7h.01M288.1 118.7h.01M284.8 50.0h.01M335.3 40.4h.01M317.4 136.1h.01M249.0 120.6h.01M290.2 139.9h.01M290.5 58.9h.01M300.1 27.3h.01M294.0 110.8h.01M340.9 115.4h.01M300.2 84.4h.01M336.4 45.4h.01M337.3 114.9h.01M327.5 131.5h.01M337.9 117.5h.01M333.6 134.1h.01M288.4 71.0h.01M324.8 132.5h.01M289.0 28.2h.01M277.3 109.7h.01M337.2 49.2h.01M333.3 131.0h.01M292.5 139.2h.01M267.7 58.9h.01M327.0 70.3h.01M325.3 105.9h.01M309.2 105.2h.01M305.5 98.1h.01M340.1 71.6h.01M319.0 80.4h.01M341.8 86.6h.01M283.3 54.3h.01M322.6 56.6h.01M309.8 136.0h.01M281.4 83.1h.01M293.8 136.9h.01M297.2 88.1h.01M310.2 94.9h.01M338.3 131.7h.01M335.8 43.0h.01M329.6 55.9h.01M312.0 86.8h.01M339.2 98.8h.01M261.3 110.9h.01M337.5 40.9h.01M296.4 79.7h.01M309.3 135.9h.01M346.3 41.5h.01M322.8 58.3h.01M322.9 131.9h.01M264.4 145.8h.01M344.7 63.1h.01M324.8 30.0h.01M326.6 32.0h.01M286.8 50.5h.01M324.5 73.2h.01M337.8 109.9h.01M339.7 46.0h.01M340.9 72.6h.01M300.3 64.1h.01M309.9 112.8h.01M289.2 56.1h.01M292.7 91.8h.01M282.3 81.1h.01M283.6 35.3h.01M299.7 93.3h.01M295.0 102.2h.01M287.3 51.9h.01M271.2 109.6h.01M315.3 56.6h.01M316.5 65.1h.01M261.5 111.0h.01M317.9 56.3h.01M317.7 84.4h.01M310.0 114.7h.01M315.9 27.2h.01M282.3 120.2h.01M294.4 104.9h.01M341.5 95.8h.01M295.3 138.2h.01M316.5 64.6h.01M301.0 111.6h.01M260.1 91.2h.01M311.5 135.1h.01M265.6 62.8h.01M274.7 108.5h.01M272.8 41.4h.01M340.8 109.2h.01M279.6 66.2h.01M324.0 74.8h.01M285.7 31.3h.01M322.9 112.3h.01M318.8 112.6h.01M307.4 111.2h.01M268.4 47.5h.01M326.1 132.8h.01M311.7 101.4h.01M328.2 132.4h.01M306.0 91.0h.01M256.9 114.3h.01M312.3 102.6h.01M290.2 54.5h.01M283.3 76.0h.01M315.3 26.9h.01M292.8 110.3h.01M340.2 84.6h.01M251.7 139.3h.01M274.0 70.4h.01M282.3 94.4h.01M339.6 69.6h.01M304.6 91.3h.01M336.1 40.2h.01M281.9 56.8h.01M302.5 136.6h.01M281.0 77.6h.01M326.8 29.1h.01M282.8 95.8h.01M326.1 60.1h.01M295.9 119.6h.01M300.5 136.8h.01M310.8 98.1h.01M321.2 54.4h.01M315.2 138.5h.01M313.2 114.0h.01M319.6 134.2h.01M286.5 62.2h.01M302.9 114.9h.01M339.4 71.1h.01M260.6 108.8h.01M259.5 143.2h.01M295.0 75.3h.01M297.1 121.6h.01M279.2 79.0h.01M337.6 40.3h.01M325.2 52.1h.01M335.1 131.0h.01M313.9 24.8h.01M285.6 51.5h.01M293.2 137.1h.01M287.4 55.8h.01M283.0 53.7h.01M338.6 135.0h.01M256.4 141.7h.01M282.8 82.3h.01M317.8 80.4h.01M324.4 112.2h.01M273.1 73.5h.01M325.3 55.9h.01M337.5 111.6h.01M251.9 128.0h.01M269.4 47.8h.01M342.1 121.6h.01M337.9 41.2h.01M306.1 25.0h.01M270.6 110.8h.01M274.0 46.4h.01M289.4 68.5h.01M317.8 51.5h.01M320.3 108.4h.01M275.4 46.3h.01M326.2 33.0h.01M294.4 80.4h.01M313.1 64.2h.01M298.4 87.7h.01M255.2 139.5h.01M301.8 70.8h.01M274.1 39.7h.01M310.9 87.4h.01M312.8 55.3h.01M334.0 38.7h.01M296.7 119.5h.01M273.5 35.0h.01M310.7 112.4h.01M288.1 107.8h.01M267.9 46.9h.01M298.0 119.7h.01M340.5 74.5h.01M271.8 107.2h.01M275.2 113.5h.01M278.5 117.4h.01M328.7 134.6h.01M319.5 133.7h.01M295.6 71.4h.01M335.2 121.1h.01M277.2 140.2h.01M307.9 90.6h.01M328.5 32.2h.01M329.3 32.6h.01M277.4 96.2h.01M275.8 143.2h.01M340.6 94.3h.01M300.7 75.7h.01M336.8 117.0h.01M267.5 146.6h.01M337.3 47.8h.01M338.0 114.4h.01M292.0 54.6h.01M278.0 65.7h.01M284.3 121.3h.01M279.3 51.7h.01M295.7 99.3h.01M269.3 41.9h.01M324.8 60.0h.01M306.7 73.8h.01M326.3 28.1h.01M302.9 136.6h.01M316.4 64.4h.01M257.0 114.6h.01M333.1 134.1h.01M269.4 102.9h.01M314.6 88.6h.01M278.2 51.3h.01M266.6 144.9h.01M290.9 141.5h.01M288.3 57.8h.01M298.4 63.7h.01M279.5 35.2h.01M311.8 25.6h.01M273.2 58.2h.01M336.2 122.3h.01M321.4 57.7h.01M319.3 50.7h.01M328.1 29.8h.01M284.2 93.2h.01M341.1 120.2h.01M311.6 100.0h.01M290.5 60.8h.01M322.0 59.3h.01M276.0 99.1h.01M296.7 117.7h.01M264.5 146.8h.01M271.4 49.7h.01M288.7 85.1h.01M341.3 65.9h.01M339.6 65.8h.01M285.8 33.8h.01M287.6 82.7h.01M324.2 27.2h.01M303.7 23.5h.01M283.0 121.0h.01M257.9 113.1h.01M281.9 63.4h.01M302.0 111.5h.01M310.0 115.2h.01M281.4 41.2h.01M303.0 102.4h.01M326.9 106.8h.01M278.5 57.3h.01M321.9 59.0h.01M329.6 35.8h.01M293.0 82.5h.01M264.3 109.6h.01M297.9 121.4h.01M338.3 46.8h.01M315.2 87.2h.01M331.4 25.2h.01M323.5 58.7h.01M303.9 25.9h.01M287.6 85.0h.01M324.1 57.7h.01M295.3 104.8h.01M334.0 38.3h.01M270.7 57.4h.01M301.1 70.4h.01M286.5 54.7h.01M341.3 108.7h.01M275.9 45.2h.01M287.6 55.8h.01M320.8 79.1h.01M267.2 106.6h.01M280.4 55.1h.01M277.6 68.3h.01M316.4 86.1h.01M249.1 121.6h.01M325.6 112.4h.01M305.8 117.2h.01M277.4 62.2h.01M326.5 31.4h.01M282.2 44.1h.01M307.7 75.7h.01M311.4 101.3h.01M295.9 120.5h.01M328.0 113.6h.01M321.0 68.1h.01M313.3 83.8h.01M287.9 89.3h.01M320.9 134.5h.01M306.5 88.3h.01M309.4 26.4h.01M315.2 82.0h.01M316.7 111.8h.01M285.1 49.6h.01M286.0 59.1h.01M344.7 73.6h.01M327.8 111.0h.01M342.7 117.2h.01M318.4 81.8h.01M323.1 66.8h.01M271.0 146.0h.01M300.5 63.9h.01M345.7 113.8h.01M307.7 106.3h.01M311.0 99.2h.01M296.8 79.8h.01M268.2 44.0h.01M301.0 139.4h.01M324.9 60.7h.01M312.2 114.7h.01M300.7 25.4h.01M311.3 135.2h.01M251.8 134.3h.01M317.1 138.4h.01M324.4 67.1h.01M274.2 57.1h.01M287.5 32.9h.01M293.3 103.8h.01M275.9 46.7h.01M270.8 110.0h.01M279.1 73.2h.01M315.5 110.6h.01M315.9 85.6h.01M305.1 72.4h.01M278.4 51.3h.01M336.0 41.4h.01M320.9 68.5h.01M251.1 128.5h.01M252.2 127.1h.01M319.7 70.5h.01M281.3 42.2h.01M337.8 106.6h.01M282.4 117.6h.01M281.7 116.0h.01M317.0 23.2h.01M334.7 32.7h.01M286.2 68.1h.01M262.3 109.7h.01M274.8 71.0h.01M301.5 112.9h.01M282.2 118.8h.01M307.4 104.1h.01M308.9 100.2h.01M337.6 40.8h.01M318.6 84.0h.01M298.5 99.7h.01M319.8 58.5h.01M275.8 110.8h.01M336.5 45.4h.01M312.9 134.6h.01M294.5 25.7h.01M283.6 118.9h.01M296.1 137.4h.01M341.8 85.5h.01M297.6 75.9h.01M279.8 47.8h.01M304.4 113.6h.01M288.6 119.4h.01M289.1 56.0h.01M341.0 135.1h.01M291.2 138.0h.01M289.5 74.1h.01M296.2 106.2h.01M324.9 66.6h.01M251.0 132.1h.01M285.3 64.6h.01M303.2 89.8h.01M310.7 115.0h.01M252.2 128.2h.01M337.3 42.9h.01M305.5 103.1h.01M329.2 59.0h.01M278.0 78.7h.01M317.8 105.8h.01M278.2 51.8h.01M284.8 140.0h.01M302.3 71.3h.01M252.1 134.1h.01M339.3 86.9h.01M337.2 26.9h.01M340.5 71.7h.01M287.4 74.5h.01M268.3 61.8h.01M337.3 129.2h.01M333.5 138.2h.01M275.7 32.5h.01M340.6 93.6h.01M340.3 81.9h.01M292.1 103.5h.01M340.3 81.0h.01M329.3 54.7h.01M340.2 80.7h.01M281.1 47.7h.01M329.9 56.3h.01M255.3 115.7h.01M302.7 119.0h.01M303.4 25.8h.01M282.0 64.0h.01M339.5 97.3h.01M334.3 129.1h.01M276.8 33.4h.01M343.6 141.1h.01M289.4 56.9h.01M338.3 101.2h.01M295.4 62.0h.01M281.8 116.3h.01M298.9 121.0h.01M326.8 58.9h.01M322.0 109.7h.01M314.1 112.8h.01M292.0 75.7h.01M322.2 109.7h.01M277.5 115.5h.01M289.3 109.6h.01M284.9 121.3h.01M339.4 66.3h.01M288.7 58.7h.01M279.4 140.1h.01M331.6 36.6h.01M303.7 94.3h.01M299.1 96.5h.01M339.8 82.0h.01M280.9 141.0h.01M339.8 45.9h.01M293.0 61.5h.01M325.8 131.9h.01M279.5 76.8h.01M301.2 118.7h.01M299.8 103.8h.01M272.4 67.5h.01M320.0 74.5h.01M297.3 100.4h.01M337.0 131.3h.01M321.7 51.4h.01M324.3 69.2h.01M308.8 89.4h.01M317.1 83.0h.01M336.8 42.2h.01M288.3 57.1h.01M287.4 28.9h.01M347.7 97.6h.01M319.0 78.1h.01M315.5 20.1h.01M291.7 120.9h.01M317.2 135.6h.01M289.2 118.9h.01M321.5 78.9h.01M260.0 40.2h.01M291.6 100.3h.01M277.5 113.4h.01M325.7 60.1h.01M287.4 120.7h.01M283.1 54.6h.01M295.5 65.9h.01M304.7 137.8h.01M314.2 113.3h.01M328.1 110.8h.01M302.5 140.1h.01M248.5 134.9h.01M329.7 132.6h.01M248.5 140.1h.01M338.4 112.7h.01M294.9 28.2h.01M312.0 108.3h.01M325.7 131.0h.01M258.8 56.4h.01M326.9 132.3h.01M279.0 40.4h.01M337.2 35.4h.01M322.8 65.5h.01M277.1 46.0h.01M281.2 120.5h.01M320.2 71.9h.01M321.4 58.9h.01M309.0 27.0h.01M302.2 94.3h.01M319.8 79.3h.01M282.8 94.5h.01M251.2 118.6h.01M338.2 52.2h.01M279.3 139.0h.01M270.5 109.5h.01M289.1 80.7h.01M323.1 71.8h.01M313.2 107.3h.01M264.3 101.7h.01M298.4 137.7h.01M338.6 99.2h.01M310.6 101.8h.01M298.7 119.7h.01M287.2 71.4h.01M285.0 56.1h.01M298.1 63.1h.01M317.2 57.3h.01M315.7 138.1h.01M253.6 137.5h.01M271.0 53.2h.01M274.5 50.4h.01M288.8 82.0h.01M306.0 94.8h.01M273.8 50.0h.01M284.6 79.3h.01M294.1 137.4h.01M279.0 39.3h.01M320.2 58.3h.01M322.8 64.9h.01M350.6 98.3h.01M315.8 85.6h.01M340.1 97.7h.01M320.4 80.1h.01M326.5 112.7h.01M311.2 26.7h.01M265.7 95.4h.01M251.8 128.1h.01M337.3 111.5h.01M334.0 122.0h.01M278.2 82.8h.01M338.2 53.2h.01M334.5 129.9h.01M273.3 142.9h.01M336.2 130.7h.01M284.6 105.8h.01M334.3 121.9h.01M275.2 92.6h.01M331.2 33.0h.01M337.6 50.4h.01M315.5 113.1h.01M298.6 120.5h.01M337.7 113.0h.01M292.5 119.2h.01M295.5 27.2h.01M295.1 137.7h.01M313.1 65.0h.01M308.2 99.9h.01M253.8 137.5h.01M279.3 115.0h.01M290.6 119.5h.01M338.7 119.0h.01M304.9 22.5h.01M339.4 63.3h.01M286.3 29.1h.01M273.5 81.2h.01M279.6 50.9h.01M318.8 58.3h.01M292.6 67.1h.01M269.0 107.7h.01M316.8 78.4h.01M304.4 114.4h.01M314.7 113.8h.01M317.0 65.3h.01M260.2 45.3h.01M323.3 30.9h.01M304.5 116.5h.01M262.0 144.5h.01M308.8 98.2h.01M335.0 119.8h.01M282.4 32.9h.01M260.4 44.7h.01M320.2 108.7h.01M326.5 65.8h.01M281.6 116.6h.01M295.4 114.8h.01M312.2 87.7h.01M251.5 130.5h.01M277.8 145.1h.01M318.7 108.2h.01M331.7 131.7h.01M333.0 38.3h.01M333.4 36.2h.01M325.5 55.1h.01M320.5 52.8h.01M311.3 137.7h.01M282.3 36.8h.01M339.6 105.2h.01M327.2 134.1h.01M272.9 91.2h.01M287.8 138.5h.01M328.3 31.6h.01M295.7 86.1h.01M309.9 75.8h.01M305.0 117.6h.01M312.6 24.8h.01M279.8 89.2h.01M339.9 61.4h.01M250.3 137.7h.01M291.4 59.2h.01M302.6 139.0h.01M313.2 105.5h.01M308.2 139.8h.01M283.5 35.5h.01M326.2 56.4h.01M334.3 128.5h.01M335.5 118.7h.01M306.2 111.6h.01M326.3 113.1h.01M277.6 66.5h.01M282.3 31.8h.01M278.5 84.6h.01M317.9 28.6h.01M302.8 69.7h.01M292.5 59.6h.01M346.5 110.2h.01M298.6 120.2h.01M341.1 127.9h.01M334.4 117.8h.01M322.8 133.6h.01M321.4 133.5h.01M253.2 135.3h.01M299.6 94.7h.01M272.1 72.1h.01M273.4 85.8h.01M297.5 91.0h.01M343.1 92.1h.01M282.6 38.5h.01M323.4 65.4h.01M278.1 47.9h.01M281.9 42.1h.01M346.6 47.8h.01M342.8 119.7h.01M285.7 101.6h.01M328.6 132.1h.01M284.7 53.4h.01M321.5 78.4h.01M332.8 123.0h.01M266.8 108.2h.01M335.4 118.4h.01M304.6 103.0h.01M291.7 59.6h.01M279.0 35.1h.01M314.1 26.2h.01M314.3 104.8h.01M343.6 78.8h.01M292.0 115.2h.01M284.4 117.6h.01M270.8 144.0h.01M336.2 126.2h.01M286.7 51.3h.01M346.1 126.2h.01M340.8 99.0h.01M294.1 91.5h.01M271.4 145.6h.01M336.1 133.5h.01M287.3 54.8h.01M338.0 101.4h.01M302.3 25.7h.01M338.6 126.6h.01M288.7 66.1h.01M339.9 125.7h.01M309.2 136.1h.01M321.5 58.3h.01M319.0 83.1h.01M307.6 62.7h.01M289.4 23.8h.01M276.6 58.9h.01M263.6 37.6h.01M280.9 51.7h.01M321.0 57.4h.01M300.0 95.7h.01M309.4 98.1h.01M316.1 56.0h.01M318.2 82.0h.01M342.6 68.1h.01M263.5 109.5h.01M326.0 60.2h.01M319.9 81.1h.01M288.0 117.4h.01M336.0 40.4h.01M308.3 107.7h.01M249.3 118.6h.01M302.5 93.8h.01M293.9 83.7h.01M302.8 108.9h.01M252.7 121.3h.01M272.7 108.9h.01M290.3 73.8h.01M338.1 42.6h.01M304.4 107.6h.01M280.8 43.1h.01M284.9 35.3h.01M294.1 139.9h.01M279.0 38.2h.01M252.2 118.8h.01M318.8 54.5h.01M322.3 66.1h.01M309.9 113.9h.01M277.4 50.7h.01M265.4 21.0h.01M318.9 52.1h.01M291.8 138.6h.01M317.1 134.0h.01M333.7 118.6h.01M290.2 60.0h.01M297.2 114.9h.01M299.1 139.9h.01M282.6 36.4h.01M338.2 53.6h.01M321.6 54.7h.01M338.9 49.4h.01M315.9 103.9h.01M267.5 88.6h.01M277.3 29.4h.01M291.9 66.3h.01M269.0 109.2h.01M333.5 34.8h.01M325.0 113.0h.01M326.4 111.0h.01M274.5 111.0h.01M277.7 59.1h.01M307.3 101.0h.01M312.7 103.3h.01M288.5 58.1h.01M339.6 70.8h.01M295.7 27.1h.01M291.2 138.2h.01M311.4 109.2h.01M349.2 132.0h.01M314.1 104.0h.01M287.4 140.1h.01M295.7 24.6h.01M300.9 139.3h.01M276.4 43.3h.01M337.9 54.3h.01M340.0 48.3h.01M289.1 28.7h.01M333.0 126.0h.01M283.4 96.8h.01M338.2 110.2h.01M315.1 135.0h.01M339.3 109.2h.01M314.8 143.2h.01M301.7 90.9h.01M332.4 132.8h.01M313.0 136.4h.01M333.5 121.5h.01M285.9 51.2h.01M288.7 78.6h.01M284.9 65.1h.01M334.2 37.4h.01M291.6 53.6h.01M340.3 89.8h.01M290.6 62.8h.01M337.7 47.3h.01M317.4 27.7h.01M287.2 31.1h.01M273.0 35.9h.01M308.6 96.1h.01M318.1 69.4h.01M329.4 33.4h.01M306.2 136.9h.01M277.7 41.5h.01M334.0 121.0h.01M308.1 115.3h.01M287.7 52.1h.01M281.6 47.6h.01M286.5 63.2h.01M307.9 95.6h.01M294.7 65.2h.01M305.3 25.9h.01M251.9 129.3h.01M304.4 111.0h.01M313.3 90.1h.01M317.3 57.6h.01M310.5 135.2h.01M280.4 109.2h.01M340.0 107.7h.01M327.5 69.3h.01M294.2 121.6h.01M305.4 111.3h.01M344.3 121.2h.01M307.9 83.9h.01M303.4 118.0h.01M340.1 68.7h.01M336.7 115.7h.01M298.7 64.0h.01M328.9 132.6h.01M258.8 46.5h.01M308.9 103.3h.01M305.4 23.7h.01M319.1 58.0h.01M306.0 117.3h.01M310.2 107.5h.01M337.9 46.8h.01M338.5 100.3h.01M259.3 107.0h.01M320.2 73.7h.01M314.3 136.3h.01M340.9 82.0h.01M299.1 63.8h.01M340.2 39.1h.01M337.9 110.3h.01M299.8 27.1h.01M285.5 34.8h.01M284.6 96.9h.01M327.6 65.9h.01M282.7 83.5h.01M286.4 72.0h.01M308.6 102.8h.01M280.3 57.8h.01M341.4 64.5h.01M305.4 107.0h.01M273.2 111.5h.01M285.0 34.4h.01M276.6 40.7h.01M338.7 112.7h.01M297.7 26.3h.01M252.2 123.1h.01M326.6 53.4h.01M316.9 105.4h.01M248.9 128.1h.01M282.0 42.7h.01M339.0 64.6h.01M272.3 103.4h.01M314.3 136.7h.01M280.5 60.7h.01M289.2 101.2h.01M333.0 139.5h.01M326.2 139.5h.01M341.7 75.0h.01M277.7 116.6h.01M286.2 97.5h.01M340.0 51.9h.01M315.2 105.1h.01M292.4 64.9h.01M268.5 63.8h.01M311.9 139.5h.01M301.0 109.6h.01M259.4 108.5h.01M325.7 113.9h.01M260.8 66.8h.01M333.6 124.9h.01M286.5 74.6h.01M328.3 69.8h.01M339.4 64.4h.01M295.8 76.0h.01M318.8 80.8h.01M313.3 103.4h.01M314.3 104.2h.01M282.4 35.5h.01M341.3 94.7h.01M279.8 118.5h.01M339.6 68.2h.01M340.2 82.5h.01M311.1 25.0h.01M305.4 102.9h.01M305.3 26.1h.01M278.9 55.0h.01M312.0 105.4h.01M306.8 86.7h.01M318.8 28.1h.01M284.8 33.3h.01M322.4 57.6h.01M289.4 139.0h.01M333.3 131.6h.01M324.5 73.4h.01M338.4 46.6h.01M283.6 139.8h.01" fill="none" stroke="#444" stroke-width="0.5" stroke-linecap="round"/>
<rect x="247.5" y="13.6" width="135.5" height="134.4" fill="none" stroke="#777" stroke-width="0.9"/>
<path d="M277.5 148v3.2M309.4 148v3.2M340.7 148v3.2M370.8 148v3.2M261.8 148v3.2M287.1 148v1.8M292.7 148v1.8M296.7 148v1.8M299.8 148v1.8M302.3 148v1.8M304.5 148v1.8M306.3 148v1.8M307.9 148v1.8M318.8 148v1.8M324.3 148v1.8M328.2 148v1.8M331.3 148v1.8M333.8 148v1.8M335.9 148v1.8M337.7 148v1.8M339.3 148v1.8M349.8 148v1.8M355.1 148v1.8M358.8 148v1.8M361.7 148v1.8M364.1 148v1.8M366.1 148v1.8M367.9 148v1.8M369.4 148v1.8M379.9 148v1.8M253.0 148v1.8M255.5 148v1.8M258.0 148v1.8M264.5 148v1.8M267.5 148v1.8M270.0 148v1.8M272.5 148v1.8M275.0 148v1.8M247.5 120.5h-3.2M247.5 88.0h-3.2M247.5 56.0h-3.2M247.5 26.5h-3.2M247.5 134.7h-3.2M247.5 110.7h-1.8M247.5 105.0h-1.8M247.5 100.9h-1.8M247.5 97.8h-1.8M247.5 95.2h-1.8M247.5 93.0h-1.8M247.5 91.1h-1.8M247.5 89.5h-1.8M247.5 78.4h-1.8M247.5 72.7h-1.8M247.5 68.7h-1.8M247.5 65.6h-1.8M247.5 63.1h-1.8M247.5 61.0h-1.8M247.5 59.1h-1.8M247.5 57.5h-1.8M247.5 47.1h-1.8M247.5 41.9h-1.8M247.5 38.2h-1.8M247.5 35.4h-1.8M247.5 33.0h-1.8M247.5 31.1h-1.8M247.5 29.4h-1.8M247.5 27.8h-1.8M247.5 17.6h-1.8M247.5 145.0h-1.8M247.5 142.0h-1.8M247.5 139.0h-1.8M247.5 131.0h-1.8M247.5 128.0h-1.8M247.5 125.5h-1.8M247.5 123.0h-1.8" stroke="#333" stroke-width="0.7" fill="none"/>
<text x="276.9" y="164.9" text-anchor="middle" style="font-size:9.3px;fill:#111">10<tspan dy="-4.4" style="font-size:7.8px">2</tspan></text>
<text x="309.4" y="164.9" text-anchor="middle" style="font-size:9.3px;fill:#111">10<tspan dy="-4.4" style="font-size:7.8px">3</tspan></text>
<text x="340.8" y="164.9" text-anchor="middle" style="font-size:9.3px;fill:#111">10<tspan dy="-4.4" style="font-size:7.8px">4</tspan></text>
<text x="370.7" y="164.9" text-anchor="middle" style="font-size:9.3px;fill:#111">10<tspan dy="-4.4" style="font-size:7.8px">5</tspan></text>
<text x="262.1" y="164.9" text-anchor="middle" style="font-size:9.3px;fill:#111">0</text>
<text x="242.7" y="29.9" text-anchor="end" style="font-size:9.3px;fill:#111">10<tspan dy="-4.4" style="font-size:7.8px">5</tspan></text>
<text x="242.7" y="59.6" text-anchor="end" style="font-size:9.3px;fill:#111">10<tspan dy="-4.4" style="font-size:7.8px">4</tspan></text>
<text x="242.7" y="91.3" text-anchor="end" style="font-size:9.3px;fill:#111">10<tspan dy="-4.4" style="font-size:7.8px">3</tspan></text>
<text x="242.7" y="123.5" text-anchor="end" style="font-size:9.3px;fill:#111">10<tspan dy="-4.4" style="font-size:7.8px">2</tspan></text>
<text x="242.7" y="138.1" text-anchor="end" style="font-size:9.3px;fill:#111">0</text>
<g class="bk" stroke-width="2.3" stroke-linejoin="miter">
<ellipse cx="302.5" cy="40.6" rx="21.4" ry="13.2" transform="rotate(-6 302.5 40.6)" stroke-width="2.7"/>
<path d="M313 73.1H347.3V102.7H301.5Z"/>
<rect x="249.6" y="107.7" width="29.1" height="35.6"/>
<rect x="292.8" y="111.2" width="37.4" height="30.8"/>
</g>
</g>
<g stroke="#000" fill="none" stroke-width="2.5" stroke-linejoin="miter">
<path d="M249.6 125.8H144.6V202"/>
<path d="M310.3 142.2L257.6 185.6V202"/>
<path d="M347.3 86.1H359.4V202"/>
<path d="M323.8 38.4H467.7V202"/>
</g>
<g fill="#000">
<path d="M138.29999999999998 199.6H150.9L144.6 216Z"/>
<path d="M251.3 199.6H263.90000000000003L257.6 216Z"/>
<path d="M353.09999999999997 199.6H365.7L359.4 216Z"/>
<path d="M461.4 199.6H474.0L467.7 216Z"/>
</g>
<path d="M217.6 135V30" stroke="#000" stroke-width="3"/>
<path d="M211.2 31.6H224L217.6 14Z" fill="#000"/>
<path d="M255.2 173.8H366" stroke="#000" stroke-width="3"/>
<path d="M364.5 167.2V180.4L383.2 173.8Z" fill="#000"/>
<text x="232.8" y="176.8" style="font-size:10.3px">IgM</text>
<text transform="translate(220.6 159.3) rotate(-90)" style="font-size:10.3px">IgD</text>
<text class="t10" x="101.9" y="235" text-anchor="middle">Precursor</text>
<text class="t10" x="236.9" y="235" text-anchor="middle">Immature</text>
<text class="t10" x="368.1" y="235" text-anchor="middle">Transitional</text>
<text class="t10" x="510.1" y="235" text-anchor="middle">Mature</text>
<g id="h_pre">
<path d="M61.6 360.0 L63.2 336.5 L64.7 307.6 L66.0 278.6 L67.4 257.4 L68.2 250.6 L69.3 257.4 L71.0 275.0 L73.0 295.0 L75.5 310.0 L77.6 321.0 L79.6 336.5 L81.5 348.1 L83.4 354.9 L86.3 358.7 L89.2 360.0Z" fill="#e7e7e7" stroke="#d2d2d2" stroke-width="0.8"/>
<path d="M50.3 245.0V360.2H165.4" stroke="#444" stroke-width="0.8" fill="none"/>
<path d="M50.3 360.2h-3.6M50.3 355.8h-1.5M50.3 351.4h-1.5M50.3 347.0h-1.5M50.3 342.5h-1.5M50.3 338.1h-3.6M50.3 333.7h-1.5M50.3 329.3h-1.5M50.3 324.9h-1.5M50.3 320.5h-1.5M50.3 316.0h-3.6M50.3 311.6h-1.5M50.3 307.2h-1.5M50.3 302.8h-1.5M50.3 298.4h-1.5M50.3 294.0h-3.6M50.3 289.5h-1.5M50.3 285.1h-1.5M50.3 280.7h-1.5M50.3 276.3h-1.5M50.3 271.9h-3.6M50.3 267.5h-1.5M50.3 263.0h-1.5M50.3 258.6h-1.5M50.3 254.2h-1.5M50.3 249.8h-3.6M62.9 360.2v3M75.3 360.2v3M104.2 360.2v3M130.6 360.2v3M156.4 360.2v3M84.0 360.2v1.6M89.1 360.2v1.6M92.7 360.2v1.6M95.5 360.2v1.6M97.8 360.2v1.6M99.7 360.2v1.6M101.4 360.2v1.6M102.9 360.2v1.6M112.1 360.2v1.6M116.8 360.2v1.6M120.1 360.2v1.6M122.7 360.2v1.6M124.7 360.2v1.6M126.5 360.2v1.6M128.0 360.2v1.6M129.4 360.2v1.6M138.4 360.2v1.6M142.9 360.2v1.6M146.1 360.2v1.6M148.6 360.2v1.6M150.7 360.2v1.6M152.4 360.2v1.6M153.9 360.2v1.6M155.2 360.2v1.6M54.0 360.2v1.6M56.5 360.2v1.6M59.0 360.2v1.6M65.5 360.2v1.6M68.0 360.2v1.6M70.5 360.2v1.6M73.0 360.2v1.6M164.2 360.2v1.6" stroke="#444" stroke-width="0.6" fill="none"/>
<path d="M59.3 360.0 L61.2 355.8 L63.2 344.2 L65.1 326.9 L67.0 303.7 L69.0 278.6 L70.5 263.2 L72.4 256.4 L74.4 253.1 L75.7 254.5 L76.7 259.3 L78.0 261.2 L79.2 278.6 L80.5 290.2 L82.5 305.6 L84.0 319.1 L85.4 330.7 L87.3 342.3 L89.8 351.0 L93.1 355.8 L96.9 358.7 L101.8 360.0" stroke="#000" stroke-width="3" fill="none" stroke-dasharray="5.9 2.5" stroke-linejoin="round"/>
<path d="M50.6 360.2 L60.3 360.2 L63.2 355.8 L64.0 353.7 L65.5 351.4 L67.0 346.4 L68.5 342.4 L70.0 334.7 L71.5 326.9 L73.0 315.5 L74.5 307.2 L76.0 296.4 L77.5 285.2 L79.0 272.3 L81.1 257.4 L82.5 252.5 L83.4 251.6 L84.4 257.4 L85.8 257.4 L86.9 267.0 L87.0 267.2 L88.6 281.4 L90.2 293.5 L91.8 307.0 L93.4 318.1 L95.0 329.7 L96.6 336.2 L98.2 343.8 L99.8 347.5 L100.2 349.0 L102.7 354.9 L105.6 358.7 L109.5 359.7 L113.4 360.2 L165.4 360.2" stroke="#000" stroke-width="3" fill="none" stroke-linejoin="round"/>
</g>
<g id="h_imm">
<path d="M196.3 360.0 L197.9 327.2 L199.2 288.4 L200.6 259.4 L201.5 251.6 L202.7 257.4 L204.5 275.0 L206.5 300.0 L208.0 315.0 L209.5 327.2 L211.8 340.7 L213.7 350.4 L216.7 356.2 L220.5 359.1 L222.0 360.0Z" fill="#e7e7e7" stroke="#d2d2d2" stroke-width="0.8"/>
<path d="M184.3 245.0V360.2H297.4" stroke="#777" stroke-width="0.8" fill="none"/>
<path d="M184.3 360.2h-3.6M184.3 355.8h-1.5M184.3 351.4h-1.5M184.3 347.0h-1.5M184.3 342.5h-1.5M184.3 338.1h-3.6M184.3 333.7h-1.5M184.3 329.3h-1.5M184.3 324.9h-1.5M184.3 320.5h-1.5M184.3 316.0h-3.6M184.3 311.6h-1.5M184.3 307.2h-1.5M184.3 302.8h-1.5M184.3 298.4h-1.5M184.3 294.0h-3.6M184.3 289.5h-1.5M184.3 285.1h-1.5M184.3 280.7h-1.5M184.3 276.3h-1.5M184.3 271.9h-3.6M184.3 267.5h-1.5M184.3 263.0h-1.5M184.3 258.6h-1.5M184.3 254.2h-1.5M184.3 249.8h-3.6M196.7 360.2v3M208.9 360.2v3M237.3 360.2v3M263.2 360.2v3M288.6 360.2v3M217.4 360.2v1.6M222.4 360.2v1.6M226.0 360.2v1.6M228.7 360.2v1.6M231.0 360.2v1.6M232.9 360.2v1.6M234.5 360.2v1.6M236.0 360.2v1.6M245.1 360.2v1.6M249.6 360.2v1.6M252.9 360.2v1.6M255.4 360.2v1.6M257.4 360.2v1.6M259.2 360.2v1.6M260.7 360.2v1.6M262.0 360.2v1.6M270.8 360.2v1.6M275.3 360.2v1.6M278.5 360.2v1.6M280.9 360.2v1.6M282.9 360.2v1.6M284.6 360.2v1.6M286.1 360.2v1.6M287.4 360.2v1.6M187.9 360.2v1.6M190.4 360.2v1.6M192.8 360.2v1.6M199.2 360.2v1.6M201.7 360.2v1.6M204.1 360.2v1.6M206.6 360.2v1.6M296.2 360.2v1.6" stroke="#777" stroke-width="0.6" fill="none"/>
<path d="M193.4 360.1 L195.3 352.4 L197.3 336.9 L198.6 317.5 L200.2 298.1 L201.7 278.7 L203.1 267.1 L204.4 263.2 L205.6 259.4 L206.6 252.6 L207.5 261.3 L208.3 272.9 L209.5 282.6 L210.8 292.3 L212.2 305.9 L213.7 317.5 L215.3 327.2 L217.2 338.8 L219.2 348.5 L221.5 354.3 L224.4 358.2 L229.2 359.5 L238.9 360.1 L248.6 360.1" stroke="#000" stroke-width="3" fill="none" stroke-dasharray="5.9 2.5" stroke-linejoin="round"/>
<path d="M184.7 360.2 L193.4 360.2 L196.0 354.2 L197.5 352.6 L199.0 348.3 L200.5 344.6 L202.0 338.7 L203.5 333.7 L205.0 326.6 L206.5 320.3 L208.0 313.2 L209.5 308.6 L211.0 297.7 L211.6 296.0 L212.6 289.0 L213.5 284.0 L214.5 279.0 L215.5 286.5 L216.5 277.5 L217.6 285.0 L218.7 276.0 L219.8 283.5 L220.9 275.0 L222.0 282.0 L223.1 274.0 L224.2 280.0 L225.2 272.0 L226.2 262.0 L227.2 254.5 L228.4 267.0 L229.6 270.5 L231.2 261.3 L232.7 250.8 L233.8 266.0 L234.4 278.4 L236.0 275.0 L237.6 274.5 L238.5 285.0 L239.4 291.0 L239.9 296.2 L241.3 303.0 L241.8 309.7 L243.0 309.0 L243.2 317.5 L244.4 327.2 L245.7 336.9 L247.1 344.6 L248.6 352.4 L250.6 357.2 L253.5 359.7 L257.3 360.2 L297.4 360.2" stroke="#000" stroke-width="3" fill="none" stroke-linejoin="round"/>
</g>
<g id="h_tra">
<path d="M332.3 360.1 L333.6 336.9 L335.2 298.1 L336.7 265.2 L338.1 251.6 L339.4 257.4 L341.0 268.0 L343.0 278.0 L344.5 288.4 L346.4 307.8 L348.7 327.2 L350.7 340.7 L353.0 350.4 L355.5 356.2 L358.4 359.1 L360.0 360.1Z" fill="#e7e7e7" stroke="#d2d2d2" stroke-width="0.8"/>
<path d="M319.7 245.0V360.2H435" stroke="#777" stroke-width="0.8" fill="none"/>
<path d="M319.7 360.2h-3.6M319.7 355.8h-1.5M319.7 351.4h-1.5M319.7 347.0h-1.5M319.7 342.5h-1.5M319.7 338.1h-3.6M319.7 333.7h-1.5M319.7 329.3h-1.5M319.7 324.9h-1.5M319.7 320.5h-1.5M319.7 316.0h-3.6M319.7 311.6h-1.5M319.7 307.2h-1.5M319.7 302.8h-1.5M319.7 298.4h-1.5M319.7 294.0h-3.6M319.7 289.5h-1.5M319.7 285.1h-1.5M319.7 280.7h-1.5M319.7 276.3h-1.5M319.7 271.9h-3.6M319.7 267.5h-1.5M319.7 263.0h-1.5M319.7 258.6h-1.5M319.7 254.2h-1.5M319.7 249.8h-3.6M332.3 360.2v3M344.7 360.2v3M373.7 360.2v3M400.1 360.2v3M426.0 360.2v3M353.5 360.2v1.6M358.6 360.2v1.6M362.2 360.2v1.6M365.0 360.2v1.6M367.3 360.2v1.6M369.2 360.2v1.6M370.9 360.2v1.6M372.4 360.2v1.6M381.7 360.2v1.6M386.3 360.2v1.6M389.6 360.2v1.6M392.2 360.2v1.6M394.3 360.2v1.6M396.0 360.2v1.6M397.6 360.2v1.6M398.9 360.2v1.6M407.9 360.2v1.6M412.5 360.2v1.6M415.7 360.2v1.6M418.2 360.2v1.6M420.3 360.2v1.6M422.0 360.2v1.6M423.5 360.2v1.6M424.8 360.2v1.6M323.4 360.2v1.6M325.9 360.2v1.6M328.4 360.2v1.6M334.9 360.2v1.6M337.4 360.2v1.6M339.9 360.2v1.6M342.4 360.2v1.6M433.8 360.2v1.6" stroke="#777" stroke-width="0.6" fill="none"/>
<path d="M329.4 360.1 L331.3 354.3 L332.9 340.7 L334.2 325.2 L335.8 305.9 L337.5 286.5 L339.1 272.9 L340.6 259.4 L342.0 251.6 L342.9 259.4 L344.3 265.2 L345.8 267.1 L347.2 274.9 L348.4 286.5 L349.7 300.1 L351.1 311.7 L353.0 323.3 L354.9 333.0 L356.9 342.7 L359.4 350.4 L362.3 356.2 L367.2 359.1 L373.9 360.1 L391.4 360.1" stroke="#000" stroke-width="3" fill="none" stroke-dasharray="5.9 2.5" stroke-linejoin="round"/>
<path d="M320.7 360.2 L329.4 360.2 L332.3 356.2 L333.0 354.5 L334.9 353.7 L336.8 348.2 L338.7 348.2 L340.6 344.2 L342.5 343.7 L344.4 338.5 L346.3 336.8 L348.2 331.6 L350.1 331.0 L352.0 324.6 L353.9 322.3 L355.8 315.9 L357.7 314.1 L359.6 303.7 L361.5 299.0 L363.4 289.2 L365.3 287.5 L367.2 277.3 L369.1 267.3 L370.1 259.4 L371.0 256.5 L372.0 267.1 L373.4 259.4 L374.9 251.6 L375.9 261.3 L376.8 259.4 L377.8 272.9 L378.0 273.9 L379.6 288.7 L381.2 301.6 L382.8 317.5 L384.4 333.6 L386.0 342.6 L387.6 348.1 L389.2 354.8 L390.4 357.2 L393.3 359.7 L397.2 360.2 L435.0 360.2" stroke="#000" stroke-width="3" fill="none" stroke-linejoin="round"/>
</g>
<g id="h_mat">
<path d="M466.3 360.1 L467.9 333.0 L469.4 298.1 L471.2 267.1 L472.5 257.4 L474.1 251.6 L475.5 256.0 L477.0 270.0 L479.0 295.0 L480.8 317.5 L482.8 336.9 L484.7 350.4 L486.7 356.2 L489.6 359.7 L491.0 360.1Z" fill="#e7e7e7" stroke="#d2d2d2" stroke-width="0.8"/>
<path d="M454.3 245.0V360.2H570.5" stroke="#777" stroke-width="0.8" fill="none"/>
<path d="M454.3 360.2h-3.6M454.3 355.8h-1.5M454.3 351.4h-1.5M454.3 347.0h-1.5M454.3 342.5h-1.5M454.3 338.1h-3.6M454.3 333.7h-1.5M454.3 329.3h-1.5M454.3 324.9h-1.5M454.3 320.5h-1.5M454.3 316.0h-3.6M454.3 311.6h-1.5M454.3 307.2h-1.5M454.3 302.8h-1.5M454.3 298.4h-1.5M454.3 294.0h-3.6M454.3 289.5h-1.5M454.3 285.1h-1.5M454.3 280.7h-1.5M454.3 276.3h-1.5M454.3 271.9h-3.6M454.3 267.5h-1.5M454.3 263.0h-1.5M454.3 258.6h-1.5M454.3 254.2h-1.5M454.3 249.8h-3.6M467.0 360.2v3M479.5 360.2v3M508.7 360.2v3M535.4 360.2v3M561.4 360.2v3M488.3 360.2v1.6M493.5 360.2v1.6M497.1 360.2v1.6M499.9 360.2v1.6M502.2 360.2v1.6M504.2 360.2v1.6M505.9 360.2v1.6M507.4 360.2v1.6M516.7 360.2v1.6M521.4 360.2v1.6M524.8 360.2v1.6M527.3 360.2v1.6M529.5 360.2v1.6M531.2 360.2v1.6M532.8 360.2v1.6M534.1 360.2v1.6M543.2 360.2v1.6M547.8 360.2v1.6M551.0 360.2v1.6M553.6 360.2v1.6M555.6 360.2v1.6M557.4 360.2v1.6M558.9 360.2v1.6M560.2 360.2v1.6M458.0 360.2v1.6M460.6 360.2v1.6M463.1 360.2v1.6M469.6 360.2v1.6M472.2 360.2v1.6M474.7 360.2v1.6M477.2 360.2v1.6M569.3 360.2v1.6" stroke="#777" stroke-width="0.6" fill="none"/>
<path d="M463.4 360.4 L465.3 354.3 L466.9 340.7 L468.6 321.4 L470.2 302.0 L472.1 280.7 L474.1 263.2 L475.6 253.6 L477.0 251.6 L478.3 261.3 L479.9 269.1 L480.8 282.6 L481.8 290.4 L483.2 305.9 L484.7 323.3 L486.3 336.9 L488.0 348.5 L490.5 355.3 L493.8 358.6 L499.2 360.1 L510.9 360.4" stroke="#000" stroke-width="3" fill="none" stroke-dasharray="5.9 2.5" stroke-linejoin="round"/>
<path d="M454.7 360.4 L464.4 360.4 L467.3 356.2 L469.8 350.4 L472.1 340.7 L474.1 327.2 L476.0 311.7 L477.9 296.2 L479.9 280.7 L481.8 267.1 L483.2 259.4 L484.3 251.6 L485.3 261.3 L487.2 262.3 L487.5 264.1 L489.1 278.2 L490.7 288.0 L492.3 300.2 L493.9 310.4 L495.5 321.1 L497.1 329.4 L498.7 337.2 L500.3 342.0 L501.9 347.7 L503.5 349.7 L504.7 352.4 L508.0 355.9 L511.8 358.2 L516.7 359.7 L522.5 360.4 L570.5 360.4" stroke="#000" stroke-width="3" fill="none" stroke-linejoin="round"/>
</g>
<text class="tk" x="46.3" y="363.1" text-anchor="end" style="font-size:8.1px">0</text>
<text class="tk" x="46.3" y="341.1" text-anchor="end" style="font-size:8.1px">20</text>
<text class="tk" x="46.3" y="319.0" text-anchor="end" style="font-size:8.1px">40</text>
<text class="tk" x="46.3" y="296.9" text-anchor="end" style="font-size:8.1px">60</text>
<text class="tk" x="46.3" y="274.8" text-anchor="end" style="font-size:8.1px">80</text>
<text class="tk" x="46.3" y="252.8" text-anchor="end" style="font-size:8.1px">100</text>
<text class="tk" x="62.9" y="374.2" text-anchor="middle">0</text>
<text x="75.2" y="374.2" text-anchor="middle" style="font-size:8.6px;fill:#111">10<tspan dy="-3.7" style="font-size:6.2px">2</tspan></text>
<text x="104.1" y="374.2" text-anchor="middle" style="font-size:8.6px;fill:#111">10<tspan dy="-3.7" style="font-size:6.2px">3</tspan></text>
<text x="130.5" y="374.2" text-anchor="middle" style="font-size:8.6px;fill:#111">10<tspan dy="-3.7" style="font-size:6.2px">4</tspan></text>
<text x="156.3" y="374.2" text-anchor="middle" style="font-size:8.6px;fill:#111">10<tspan dy="-3.7" style="font-size:6.2px">5</tspan></text>
<text class="t10" transform="translate(28.8 346.6) rotate(-90)">Events (% of Max)</text>
<text class="t10" x="43.4" y="386.8">p-Erk</text>
<path d="M70.5 384.5H565" stroke="#000" stroke-width="3.6"/>
<path d="M563 377.4V391.8L582.5 384.6Z" fill="#000"/>
<rect x="572.4" y="244.6" width="21.5" height="11" fill="#b5b5b5"/>
<path d="M572.9 264.3H593.6" stroke="#000" stroke-width="2.4"/>
<path d="M572.9 277.2H577.9M588.1 277.2H593.6" stroke="#000" stroke-width="2.4"/>
<text x="597.5" y="252.9" style="font-size:10.3px">Unstim</text>
<text x="597.5" y="266.6" style="font-size:10.3px">Thaps</text>
<text x="597.5" y="280.1" style="font-size:10.3px">Thaps + EGTA</text>
<g id="b_pre">
<text class="t10" x="93.5" y="520.2" text-anchor="middle">Precursor</text>
<path d="M44.8 534.8V638.6H164.7M44.8 638.6h-2.8M44.8 621.3h-2.8M44.8 604.0h-2.8M44.8 586.7h-2.8M44.8 569.4h-2.8M44.8 552.1h-2.8M44.8 534.8h-2.8" class="ax"/>
<text class="tks" x="40.6" y="640.5" text-anchor="end">0</text>
<text class="tks" x="40.6" y="623.2" text-anchor="end">100</text>
<text class="tks" x="40.6" y="605.9" text-anchor="end">200</text>
<text class="tks" x="40.6" y="588.6" text-anchor="end">300</text>
<text class="tks" x="40.6" y="571.3" text-anchor="end">400</text>
<text class="tks" x="40.6" y="554.0" text-anchor="end">500</text>
<text class="tks" x="40.6" y="536.7" text-anchor="end">600</text>
<text class="tks" x="59.8" y="649.8" text-anchor="middle">0</text>
<text class="tks" x="89.6" y="649.8" text-anchor="middle">5</text>
<text class="tks" x="119.9" y="649.8" text-anchor="middle">10</text>
<text class="tks" x="149.7" y="649.8" text-anchor="middle">20</text>
<text x="108.5" y="667.6" text-anchor="middle" style="font-size:10.3px">Time (min)</text>
<text transform="translate(24.8 609) rotate(-90)" style="font-size:9.3px">p-Erk (MFI)</text>
<path d="M59.8 629.4 L89.6 606.6 L119.9 611.6 L149.7 617.6" stroke="#000" stroke-width="1.1" fill="none"/>
<path d="M59.8 628.7 L89.6 621.6 L119.9 625.1 L149.7 628.7" stroke="#000" stroke-width="1.1" fill="none"/>
<path d="M59.8 625.1999999999999L63.4 632.1999999999999H56.199999999999996Z" fill="#000"/>
<path d="M89.6 602.4L93.19999999999999 609.4H86.0Z" fill="#000"/>
<path d="M119.9 607.4L123.5 614.4H116.30000000000001Z" fill="#000"/>
<path d="M149.7 613.4L153.29999999999998 620.4H146.1Z" fill="#000"/>
<rect x="56.4" y="625.3000000000001" width="6.8" height="6.8" fill="#000"/>
<rect x="86.19999999999999" y="618.2" width="6.8" height="6.8" fill="#000"/>
<rect x="116.5" y="621.7" width="6.8" height="6.8" fill="#000"/>
<rect x="146.29999999999998" y="625.3000000000001" width="6.8" height="6.8" fill="#000"/>
</g>
<g id="b_imm">
<text class="t10" x="236.9" y="520.2" text-anchor="middle">Immature</text>
<path d="M188.9 534.8V638.6H308.4M188.9 638.6h-2.8M188.9 621.3h-2.8M188.9 604.0h-2.8M188.9 586.7h-2.8M188.9 569.4h-2.8M188.9 552.1h-2.8M188.9 534.8h-2.8" class="ax"/>
<text class="tks" x="184.6" y="640.5" text-anchor="end">0</text>
<text class="tks" x="184.6" y="623.2" text-anchor="end">100</text>
<text class="tks" x="184.6" y="605.9" text-anchor="end">200</text>
<text class="tks" x="184.6" y="588.6" text-anchor="end">300</text>
<text class="tks" x="184.6" y="571.3" text-anchor="end">400</text>
<text class="tks" x="184.6" y="554.0" text-anchor="end">500</text>
<text class="tks" x="184.6" y="536.7" text-anchor="end">600</text>
<text class="tks" x="203.9" y="649.8" text-anchor="middle">0</text>
<text class="tks" x="234.1" y="649.8" text-anchor="middle">5</text>
<text class="tks" x="264" y="649.8" text-anchor="middle">10</text>
<text class="tks" x="293.7" y="649.8" text-anchor="middle">20</text>
<text x="249.8" y="667.6" text-anchor="middle" style="font-size:10.3px">Time (min)</text>
<text transform="translate(169.1 609) rotate(-90)" style="font-size:9.3px">p-Erk (MFI)</text>
<path d="M203.9 630.5 L234.1 576.6 L264 602.8 L293.7 610.5" stroke="#000" stroke-width="1.1" fill="none"/>
<path d="M203.9 629.8 L234.1 625.7 L264 627.5 L293.7 629.8" stroke="#000" stroke-width="1.1" fill="none"/>
<path d="M203.9 626.3L207.5 633.3H200.3Z" fill="#000"/>
<path d="M234.1 572.4L237.7 579.4H230.5Z" fill="#000"/>
<path d="M264 598.5999999999999L267.6 605.5999999999999H260.4Z" fill="#000"/>
<path d="M293.7 606.3L297.3 613.3H290.09999999999997Z" fill="#000"/>
<rect x="200.5" y="626.4" width="6.8" height="6.8" fill="#000"/>
<rect x="230.7" y="622.3000000000001" width="6.8" height="6.8" fill="#000"/>
<rect x="260.6" y="624.1" width="6.8" height="6.8" fill="#000"/>
<rect x="290.3" y="626.4" width="6.8" height="6.8" fill="#000"/>
</g>
<g id="b_tra">
<text class="t10" x="377" y="520.2" text-anchor="middle">Transitional</text>
<path d="M333.3 534.8V638.6H453.5M333.3 638.6h-2.8M333.3 621.3h-2.8M333.3 604.0h-2.8M333.3 586.7h-2.8M333.3 569.4h-2.8M333.3 552.1h-2.8M333.3 534.8h-2.8" class="ax"/>
<text class="tks" x="328.8" y="640.5" text-anchor="end">0</text>
<text class="tks" x="328.8" y="623.2" text-anchor="end">100</text>
<text class="tks" x="328.8" y="605.9" text-anchor="end">200</text>
<text class="tks" x="328.8" y="588.6" text-anchor="end">300</text>
<text class="tks" x="328.8" y="571.3" text-anchor="end">400</text>
<text class="tks" x="328.8" y="554.0" text-anchor="end">500</text>
<text class="tks" x="328.8" y="536.7" text-anchor="end">600</text>
<text class="tks" x="348.3" y="649.8" text-anchor="middle">0</text>
<text class="tks" x="378.2" y="649.8" text-anchor="middle">5</text>
<text class="tks" x="408.4" y="649.8" text-anchor="middle">10</text>
<text class="tks" x="438.6" y="649.8" text-anchor="middle">20</text>
<text x="399.3" y="667.6" text-anchor="middle" style="font-size:10.3px">Time (min)</text>
<text transform="translate(313.1 609) rotate(-90)" style="font-size:9.3px">p-Erk (MFI)</text>
<path d="M348.3 627.9 L378.2 538.5 L408.4 575.4 L438.6 593.2" stroke="#000" stroke-width="1.1" fill="none"/>
<path d="M348.3 627.2 L378.2 622.6 L408.4 624.6 L438.6 624.4" stroke="#000" stroke-width="1.1" fill="none"/>
<path d="M348.3 623.6999999999999L351.90000000000003 630.6999999999999H344.7Z" fill="#000"/>
<path d="M378.2 534.3L381.8 541.3H374.59999999999997Z" fill="#000"/>
<path d="M408.4 571.1999999999999L412.0 578.1999999999999H404.79999999999995Z" fill="#000"/>
<path d="M438.6 589.0L442.20000000000005 596.0H435.0Z" fill="#000"/>
<rect x="344.90000000000003" y="623.8000000000001" width="6.8" height="6.8" fill="#000"/>
<rect x="374.8" y="619.2" width="6.8" height="6.8" fill="#000"/>
<rect x="405.0" y="621.2" width="6.8" height="6.8" fill="#000"/>
<rect x="435.20000000000005" y="621.0" width="6.8" height="6.8" fill="#000"/>
</g>
<g id="b_mat">
<text class="t10" x="528.3" y="520.2" text-anchor="middle">Mature</text>
<path d="M477.2 534.8V638.6H597.7M477.2 638.6h-2.8M477.2 621.3h-2.8M477.2 604.0h-2.8M477.2 586.7h-2.8M477.2 569.4h-2.8M477.2 552.1h-2.8M477.2 534.8h-2.8" class="ax"/>
<text class="tks" x="472.8" y="640.5" text-anchor="end">0</text>
<text class="tks" x="472.8" y="623.2" text-anchor="end">100</text>
<text class="tks" x="472.8" y="605.9" text-anchor="end">200</text>
<text class="tks" x="472.8" y="588.6" text-anchor="end">300</text>
<text class="tks" x="472.8" y="571.3" text-anchor="end">400</text>
<text class="tks" x="472.8" y="554.0" text-anchor="end">500</text>
<text class="tks" x="472.8" y="536.7" text-anchor="end">600</text>
<text class="tks" x="492.3" y="649.8" text-anchor="middle">0</text>
<text class="tks" x="522.6" y="649.8" text-anchor="middle">5</text>
<text class="tks" x="552.6" y="649.8" text-anchor="middle">10</text>
<text class="tks" x="582.9" y="649.8" text-anchor="middle">20</text>
<text x="546.7" y="667.6" text-anchor="middle" style="font-size:10.3px">Time (min)</text>
<text transform="translate(457.3 609) rotate(-90)" style="font-size:9.3px">p-Erk (MFI)</text>
<path d="M492.3 629.1 L522.6 608 L552.6 615 L582.9 620.5" stroke="#000" stroke-width="1.1" fill="none"/>
<path d="M492.3 628.4 L522.6 625.6 L552.6 627.4 L582.9 626.7" stroke="#000" stroke-width="1.1" fill="none"/>
<path d="M492.3 624.9L495.90000000000003 631.9H488.7Z" fill="#000"/>
<path d="M522.6 603.8L526.2 610.8H519.0Z" fill="#000"/>
<path d="M552.6 610.8L556.2 617.8H549.0Z" fill="#000"/>
<path d="M582.9 616.3L586.5 623.3H579.3Z" fill="#000"/>
<rect x="488.90000000000003" y="625.0" width="6.8" height="6.8" fill="#000"/>
<rect x="519.2" y="622.2" width="6.8" height="6.8" fill="#000"/>
<rect x="549.2" y="624.0" width="6.8" height="6.8" fill="#000"/>
<rect x="579.5" y="623.3000000000001" width="6.8" height="6.8" fill="#000"/>
</g>
<path d="M588.4 534.8L594.4 545.8H582.5Z" fill="#000"/>
<rect x="583.2" y="552.4" width="10.6" height="9.6" fill="#000"/>
<text x="598.7" y="543.7" style="font-size:10.3px">Thaps</text>
<text x="598.7" y="560.7" style="font-size:10.3px">Thaps + EGTA</text>
</svg></body></html>
